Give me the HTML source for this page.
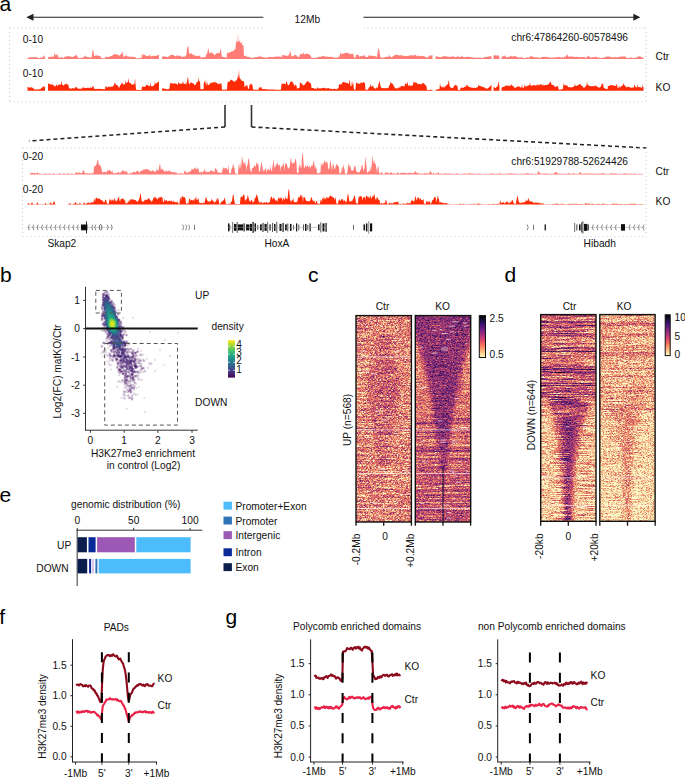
<!DOCTYPE html><html><head><meta charset="utf-8"><title>Figure</title><style>html,body{margin:0;padding:0;background:#fff;}body{width:685px;height:777px;overflow:hidden;font-family:"Liberation Sans",sans-serif;}svg{display:block;font-family:"Liberation Sans",sans-serif;}</style></head><body><svg width="685" height="777" viewBox="0 0 685 777" style="font-family:'Liberation Sans',sans-serif"><defs><linearGradient id="gcc" x1="0" y1="0" x2="0" y2="1"><stop offset="0" stop-color="#4c4c4c"/><stop offset="0.15" stop-color="#454545"/><stop offset="0.3" stop-color="#404040"/><stop offset="0.7" stop-color="#404040"/><stop offset="1" stop-color="#4a4a4a"/></linearGradient><clipPath id="ccc"><rect x="356" y="315.6" width="55.4" height="206.4"/></clipPath><filter id="fcc" filterUnits="userSpaceOnUse" x="350" y="309.6" width="67.4" height="218.4" color-interpolation-filters="sRGB"><feGaussianBlur in="SourceGraphic" stdDeviation="2 0.3" result="b"/><feTurbulence type="fractalNoise" baseFrequency="0.6 1.4" numOctaves="2" seed="3" result="n"/><feColorMatrix in="n" type="matrix" values="1 0 0 0 0 1 0 0 0 0 1 0 0 0 0 0 0 0 0 1" result="g"/><feTurbulence type="fractalNoise" baseFrequency="0.04 1.0" numOctaves="2" seed="53" result="n2"/><feColorMatrix in="n2" type="matrix" values="1 0 0 0 0 1 0 0 0 0 1 0 0 0 0 0 0 0 0 1" result="g2"/><feComposite in="b" in2="g" operator="arithmetic" k1="0" k2="1" k3="1.05" k4="-0.525" result="c"/><feComposite in="c" in2="g2" operator="arithmetic" k1="0" k2="1" k3="0.55" k4="-0.275" result="c2"/><feGaussianBlur in="c2" stdDeviation="0.35" result="c3"/><feComponentTransfer in="c3"><feFuncR type="table" tableValues="0.988 0.996 0.996 0.969 0.871 0.718 0.549 0.392 0.231 0.078 0.000"/><feFuncG type="table" tableValues="0.992 0.812 0.624 0.439 0.286 0.216 0.161 0.102 0.059 0.055 0.000"/><feFuncB type="table" tableValues="0.749 0.573 0.427 0.361 0.408 0.475 0.506 0.502 0.439 0.212 0.016"/></feComponentTransfer><feColorMatrix type="saturate" values="0.82"/></filter><linearGradient id="gck" x1="0" y1="0" x2="0" y2="1"><stop offset="0" stop-color="#666666"/><stop offset="0.05" stop-color="#4c4c4c"/><stop offset="0.3" stop-color="#454545"/><stop offset="0.5" stop-color="#545454"/><stop offset="0.7" stop-color="#696969"/><stop offset="1" stop-color="#737373"/></linearGradient><clipPath id="cck"><rect x="415.3" y="315.6" width="55.4" height="206.4"/></clipPath><filter id="fck" filterUnits="userSpaceOnUse" x="409.3" y="309.6" width="67.4" height="218.4" color-interpolation-filters="sRGB"><feGaussianBlur in="SourceGraphic" stdDeviation="2 0.3" result="b"/><feTurbulence type="fractalNoise" baseFrequency="0.6 1.4" numOctaves="2" seed="5" result="n"/><feColorMatrix in="n" type="matrix" values="1 0 0 0 0 1 0 0 0 0 1 0 0 0 0 0 0 0 0 1" result="g"/><feTurbulence type="fractalNoise" baseFrequency="0.04 1.0" numOctaves="2" seed="55" result="n2"/><feColorMatrix in="n2" type="matrix" values="1 0 0 0 0 1 0 0 0 0 1 0 0 0 0 0 0 0 0 1" result="g2"/><feComposite in="b" in2="g" operator="arithmetic" k1="0" k2="1" k3="0.85" k4="-0.425" result="c"/><feComposite in="c" in2="g2" operator="arithmetic" k1="0" k2="1" k3="0.45" k4="-0.225" result="c2"/><feGaussianBlur in="c2" stdDeviation="0.35" result="c3"/><feComponentTransfer in="c3"><feFuncR type="table" tableValues="0.988 0.996 0.996 0.969 0.871 0.718 0.549 0.392 0.231 0.078 0.000"/><feFuncG type="table" tableValues="0.992 0.812 0.624 0.439 0.286 0.216 0.161 0.102 0.059 0.055 0.000"/><feFuncB type="table" tableValues="0.749 0.573 0.427 0.361 0.408 0.475 0.506 0.502 0.439 0.212 0.016"/></feComponentTransfer><feColorMatrix type="saturate" values="0.82"/></filter><linearGradient id="gdc" x1="0" y1="0" x2="0" y2="1"><stop offset="0" stop-color="#454545"/><stop offset="0.3" stop-color="#474747"/><stop offset="0.4" stop-color="#474747"/><stop offset="0.45" stop-color="#333333"/><stop offset="0.5" stop-color="#212121"/><stop offset="1" stop-color="#1f1f1f"/></linearGradient><clipPath id="cdc"><rect x="540.7" y="314.6" width="55.3" height="206.7"/></clipPath><filter id="fdc" filterUnits="userSpaceOnUse" x="534.7" y="308.6" width="67.3" height="218.7" color-interpolation-filters="sRGB"><feGaussianBlur in="SourceGraphic" stdDeviation="2 0.3" result="b"/><feTurbulence type="fractalNoise" baseFrequency="0.6 1.4" numOctaves="2" seed="7" result="n"/><feColorMatrix in="n" type="matrix" values="1 0 0 0 0 1 0 0 0 0 1 0 0 0 0 0 0 0 0 1" result="g"/><feTurbulence type="fractalNoise" baseFrequency="0.04 1.0" numOctaves="2" seed="57" result="n2"/><feColorMatrix in="n2" type="matrix" values="1 0 0 0 0 1 0 0 0 0 1 0 0 0 0 0 0 0 0 1" result="g2"/><feComposite in="b" in2="g" operator="arithmetic" k1="0" k2="1" k3="0.9" k4="-0.450" result="c"/><feComposite in="c" in2="g2" operator="arithmetic" k1="0" k2="1" k3="0.8" k4="-0.400" result="c2"/><feGaussianBlur in="c2" stdDeviation="0.35" result="c3"/><feComponentTransfer in="c3"><feFuncR type="table" tableValues="0.988 0.996 0.996 0.969 0.871 0.718 0.549 0.392 0.231 0.078 0.000"/><feFuncG type="table" tableValues="0.992 0.812 0.624 0.439 0.286 0.216 0.161 0.102 0.059 0.055 0.000"/><feFuncB type="table" tableValues="0.749 0.573 0.427 0.361 0.408 0.475 0.506 0.502 0.439 0.212 0.016"/></feComponentTransfer><feColorMatrix type="saturate" values="0.82"/></filter><linearGradient id="gdk" x1="0" y1="0" x2="0" y2="1"><stop offset="0" stop-color="#2b2b2b"/><stop offset="0.4" stop-color="#262626"/><stop offset="0.5" stop-color="#1a1a1a"/><stop offset="1" stop-color="#141414"/></linearGradient><clipPath id="cdk"><rect x="599.8" y="314.6" width="55.3" height="206.7"/></clipPath><filter id="fdk" filterUnits="userSpaceOnUse" x="593.8" y="308.6" width="67.3" height="218.7" color-interpolation-filters="sRGB"><feGaussianBlur in="SourceGraphic" stdDeviation="2 0.3" result="b"/><feTurbulence type="fractalNoise" baseFrequency="0.6 1.4" numOctaves="2" seed="9" result="n"/><feColorMatrix in="n" type="matrix" values="1 0 0 0 0 1 0 0 0 0 1 0 0 0 0 0 0 0 0 1" result="g"/><feTurbulence type="fractalNoise" baseFrequency="0.04 1.0" numOctaves="2" seed="59" result="n2"/><feColorMatrix in="n2" type="matrix" values="1 0 0 0 0 1 0 0 0 0 1 0 0 0 0 0 0 0 0 1" result="g2"/><feComposite in="b" in2="g" operator="arithmetic" k1="0" k2="1" k3="0.95" k4="-0.475" result="c"/><feComposite in="c" in2="g2" operator="arithmetic" k1="0" k2="1" k3="0.45" k4="-0.225" result="c2"/><feGaussianBlur in="c2" stdDeviation="0.35" result="c3"/><feComponentTransfer in="c3"><feFuncR type="table" tableValues="0.988 0.996 0.996 0.969 0.871 0.718 0.549 0.392 0.231 0.078 0.000"/><feFuncG type="table" tableValues="0.992 0.812 0.624 0.439 0.286 0.216 0.161 0.102 0.059 0.055 0.000"/><feFuncB type="table" tableValues="0.749 0.573 0.427 0.361 0.408 0.475 0.506 0.502 0.439 0.212 0.016"/></feComponentTransfer><feColorMatrix type="saturate" values="0.82"/></filter><linearGradient id="mag" x1="0" y1="0" x2="0" y2="1"><stop offset="0.0" stop-color="#000004"/><stop offset="0.1" stop-color="#140e36"/><stop offset="0.2" stop-color="#3b0f70"/><stop offset="0.3" stop-color="#641a80"/><stop offset="0.4" stop-color="#8c2981"/><stop offset="0.5" stop-color="#b73779"/><stop offset="0.6" stop-color="#de4968"/><stop offset="0.7" stop-color="#f7705c"/><stop offset="0.8" stop-color="#fe9f6d"/><stop offset="0.9" stop-color="#fecf92"/><stop offset="1.0" stop-color="#fcfdbf"/></linearGradient></defs><rect width="685" height="777" fill="#fff"/><text x="-0.6" y="11" font-size="21" text-anchor="start" fill="#000">a</text><text x="0" y="281.5" font-size="21" text-anchor="start" fill="#000">b</text><text x="308" y="281.5" font-size="21" text-anchor="start" fill="#000">c</text><text x="504.5" y="281.5" font-size="21" text-anchor="start" fill="#000">d</text><text x="-0.6" y="502" font-size="21" text-anchor="start" fill="#000">e</text><text x="-0.8" y="623.5" font-size="21" text-anchor="start" fill="#000">f</text><text x="225.6" y="624" font-size="21" text-anchor="start" fill="#000">g</text><line x1="31" y1="17.3" x2="263.3" y2="17.3" stroke="#222" stroke-width="1.1"/><path d="M26.3,17.3 L33.5,13.8 L33.5,20.8 Z" fill="#222"/><line x1="363.4" y1="17.3" x2="635" y2="17.3" stroke="#222" stroke-width="1.1"/><path d="M640.3,17.3 L633.3,13.8 L633.3,20.8 Z" fill="#222"/><text x="294.6" y="22.8" font-size="10.2" text-anchor="start" fill="#111">12Mb</text><line x1="9.6" y1="28" x2="263.3" y2="28" stroke="#c9c9c9" stroke-width="1" stroke-dasharray="1 3"/><line x1="363.4" y1="28" x2="646.1" y2="28" stroke="#c9c9c9" stroke-width="1" stroke-dasharray="1 3"/><line x1="9.6" y1="101.7" x2="646.1" y2="101.7" stroke="#c9c9c9" stroke-width="1" stroke-dasharray="1 3"/><line x1="9.6" y1="28" x2="9.6" y2="101.7" stroke="#c9c9c9" stroke-width="1" stroke-dasharray="1 3"/><line x1="646.1" y1="28" x2="646.1" y2="101.7" stroke="#c9c9c9" stroke-width="1" stroke-dasharray="1 3"/><text x="22.8" y="42.8" font-size="10.2" text-anchor="start" fill="#111">0-10</text><text x="22.8" y="76.6" font-size="10.2" text-anchor="start" fill="#111">0-10</text><text x="628" y="40.8" font-size="10.2" text-anchor="end" fill="#111">chr6:47864260-60578496</text><text x="655.6" y="60.2" font-size="10.2" text-anchor="start" fill="#111">Ctr</text><text x="655.6" y="91.3" font-size="10.2" text-anchor="start" fill="#111">KO</text><line x1="225" y1="105" x2="225" y2="127" stroke="#333" stroke-width="1.6"/><line x1="251.5" y1="105" x2="251.5" y2="127" stroke="#333" stroke-width="1.6"/><line x1="225" y1="127" x2="28.9" y2="141" stroke="#222" stroke-width="1.55" stroke-dasharray="4 3"/><line x1="251.5" y1="127" x2="646.5" y2="148" stroke="#222" stroke-width="1.55" stroke-dasharray="4 3"/><line x1="22.5" y1="148" x2="646" y2="148" stroke="#c9c9c9" stroke-width="1" stroke-dasharray="1 3"/><line x1="22.5" y1="236.6" x2="646" y2="236.6" stroke="#c9c9c9" stroke-width="1" stroke-dasharray="1 3"/><line x1="22.5" y1="148" x2="22.5" y2="236.6" stroke="#c9c9c9" stroke-width="1" stroke-dasharray="1 3"/><line x1="646" y1="148" x2="646" y2="236.6" stroke="#c9c9c9" stroke-width="1" stroke-dasharray="1 3"/><text x="22.8" y="160.2" font-size="10.2" text-anchor="start" fill="#111">0-20</text><text x="22.8" y="193" font-size="10.2" text-anchor="start" fill="#111">0-20</text><text x="628" y="165.3" font-size="10.2" text-anchor="end" fill="#111">chr6:51929788-52624426</text><text x="655.6" y="175.1" font-size="10.2" text-anchor="start" fill="#111">Ctr</text><text x="655.6" y="205" font-size="10.2" text-anchor="start" fill="#111">KO</text><text x="47.4" y="246.5" font-size="10.2" text-anchor="start" fill="#111">Skap2</text><text x="264.4" y="246.5" font-size="10.2" text-anchor="start" fill="#111">HoxA</text><text x="583.6" y="246.5" font-size="10.2" text-anchor="start" fill="#111">Hibadh</text><path d="M27.5,59L27.5,58.1L28,58.04L28.5,57.7L29,57.52L29.5,57.6L30,57.53L30.5,57.31L31,57.19L31.5,57.19L32,57.2L32.5,57.26L33,57.42L33.5,57.31L34,56.97L34.5,57.01L35,57.18L35.5,57.19L36,57.19L36.5,57.14L37,57.26L37.5,57.63L38,57.97L38.5,58.02L39,57.93L39.5,57.96L40,57.74L40.5,57.55L41,57.75L41.5,57.81L42,57.49L42.5,57.29L43,57.29L43.5,56L44,55.26L44.5,56.33L45,57.41L45,59ZM48,59L48,57.15L48.5,57.16L49,56.97L49.5,56.6L50,56.62L50.5,57.06L51,57.14L51.5,56.78L52,56.37L52.5,56.41L53,56.76L53.5,56.78L54,56.43L54.5,52.24L55,54.82L55.5,55.02L56,54.64L56.5,54.43L57,54.83L57.5,54.69L58,56.45L58.5,56.91L59,57.79L59.5,57.75L60,57.48L60.5,57.53L61,57.48L61.5,57.35L62,56.65L62.5,57.68L63,57.88L63.5,57.74L64,57.41L64.5,57.1L65,56.71L65.5,56.56L66,56.61L66.5,56.46L67,56.45L67.5,56.56L68,56.34L68.5,55.94L69,55.86L69.5,56.17L70,56.54L70.5,56.6L71,56.63L71.5,56.8L72,56.9L72.5,57.03L73,57.06L73.5,56.66L74,56.17L74.5,55.95L75,55.4L75.5,55.52L76,54.28L76.5,55.68L77,56.04L77.5,56.59L78,57.76L78.5,58.07L79,58.15L79.5,58.02L80,58.17L80.5,58.02L81,57.63L81.5,57.66L82,57.79L82.5,57.71L83,57.46L83.5,57.33L84,57.3L84.5,56.35L85,55.56L85.5,55.4L86,56.72L86.5,56.97L87,57.03L87.5,57.01L88,57.03L88.5,57.09L89,57.39L89.5,57.47L90,57.33L90.5,57.48L91,57.62L91.5,57.51L92,54.47L92.5,50.87L93,48.92L93.5,51.87L94,55.65L94.5,56.05L95,55.97L95.5,55.5L96,55.28L96.5,55.41L97,55.48L97.5,55.6L98,55.79L98.5,55.83L99,55.92L99.5,56.09L100,56.22L100.5,56.13L101,57.8L101.5,57.97L102,58.13L102.5,58.2L103,58.28L103.5,58.3L104,58.3L104.5,58.3L105,58.3L105.5,56.55L106,56.54L106.5,57.07L107,57.23L107.5,56.99L108,56.79L108.5,56.75L109,56.92L109.5,56.89L110,56.55L110.5,56.12L111,55.79L111.5,55.96L112,55.87L112.5,55.36L113,54.98L113.5,54.57L114,54.17L114.5,54.12L115,54.32L115.5,54.14L116,54.1L116.5,54.42L117,54.59L117.5,54.96L118,54.99L118.5,54.86L119,55.35L119.5,56.08L120,55.13L120.5,54.61L121,54.38L121.5,53.71L122,51.74L122.5,52.4L123,54.04L123.5,56.93L124,56.92L124.5,56.31L125,56.03L125.5,55.9L126,54.28L126.5,55.88L127,56.11L127.5,56.42L128,56.57L128.5,56.58L129,56.44L129.5,56.62L130,57.25L130.5,57.38L131,55.45L131.5,56.82L132,57.07L132.5,57L133,56.83L133.5,56.95L134,57.08L134.5,57.1L135,57.22L135.5,57.17L136,58.27L136.5,58.22L137,58.24L137.5,58.27L138,58.25L138.5,58.23L139,58.23L139.5,58.12L140,57.68L140.5,58.05L141,58.06L141.5,58.05L142,52.95L142.5,55.53L143,53.98L143.5,54.94L144,54.96L144.5,55.07L145,55.09L145.5,55.33L146,55.79L146.5,55.94L147,56.05L147.5,56.22L148,56.12L148.5,55.79L149,55.45L149.5,55.56L150,54.28L150.5,56.12L151,56.44L151.5,56.49L152,55.98L152.5,55.8L153,56L153.5,55.76L154,55.66L154.5,55.93L155,55.79L155.5,55.71L156,55.86L156.5,55.68L157,55.44L157.5,55.27L158,54.93L158.5,54.63L159,54.62L159,59ZM162,59L162,56.37L162.5,56.68L163,56.5L163.5,56.38L164,56.62L164.5,56.86L165,55.61L165.5,57.06L166,57.15L166.5,56.86L167,56.77L167.5,57.16L168,57.18L168.5,56.55L169,56.22L169.5,56.18L170,55.56L170.5,54.96L171,54.83L171.5,54.89L172,54.91L172.5,54.69L173,54.82L173.5,55.25L174,55.45L174.5,55.8L175,56.18L175.5,56.27L176,56.04L176.5,55.45L177,55.4L177.5,55.81L178,55.8L178.5,55.84L179,54.92L179.5,56.03L180,55.85L180.5,55.9L181,56.42L181.5,56.7L182,56.83L182.5,57.02L183,56.85L183.5,56.58L184,56.57L184.5,56.72L185,56.45L185.5,55.9L186,55.47L186.5,54.24L187,49.5L187.5,46.37L188,46.16L188.5,47.03L189,52.23L189.5,54.63L190,53.4L190.5,53.25L191,53.3L191.5,53.59L192,53.96L192.5,54.47L193,54.8L193.5,55.1L194,55.63L194.5,54.06L195,55.94L195.5,55.87L196,55.75L196.5,55.92L197,56.23L197.5,56.1L198,55.85L198.5,55.83L199,55.76L199.5,55.7L200,55.78L200.5,57.32L201,57.7L201.5,57.53L202,57.47L202.5,57.3L203,57.09L203.5,57.07L204,57.14L204.5,57.17L205,57.28L205.5,57.45L206,54.83L206.5,54.57L207,54.1L207.5,51.74L208,49.84L208.5,48.03L209,51.43L209.5,53.54L210,53.46L210.5,52.71L211,52.41L211.5,52.32L212,52.9L212.5,53.33L213,53.4L213.5,53.76L214,54.47L214.5,55.01L215,55.05L215.5,54.96L216,52.51L216.5,54.29L217,52.51L217.5,53.61L218,53.16L218.5,53.05L219,53.03L219.5,53.56L220,50.64L220.5,48.35L221,50.95L221.5,54.07L222,57.14L222.5,56.46L223,57L223.5,57L224,57.04L224.5,57.1L225,57.22L225.5,57.44L226,57.7L226.5,57.78L227,52.82L227.5,52.64L228,53.1L228.5,53.17L229,52.5L229.5,52.18L230,52.32L230.5,52.27L231,51.63L231.5,51.19L232,51.41L232.5,51.3L233,51.06L233.5,51L234,50.18L234.5,49.21L235,49.22L235.5,49.48L236,41.23L236.5,41.5L237,42.27L237.5,42.13L238,33.76L238.5,42.29L239,41.24L239.5,40.56L240,41.91L240.5,42.72L241,43.08L241.5,41L242,44.93L242.5,45.2L243,45.07L243.5,45.45L244,55.99L244.5,56.06L245,56.06L245.5,56.06L246,54.63L246.5,56.66L247,56.57L247.5,56.92L248,56.96L248.5,56.71L249,56.76L249.5,57.2L250,57.59L250.5,57.55L251,57.65L251.5,57.94L252,57.84L252.5,57.55L253,57.56L253.5,57.72L254,57.7L254.5,57.54L255,57.3L255.5,57.22L256,57.11L256.5,57L257,57.09L257.5,57.07L258,56.95L258.5,56.95L259,55L259.5,56.49L260,56.43L260.5,56.53L261,56.69L261.5,56.68L262,56.79L262.5,57.23L263,57.48L263.5,57.35L264,57.34L264.5,57.58L265,57.76L265.5,57.73L266,57.41L266.5,57.34L267,57.78L267.5,57.91L268,56.65L268.5,57.07L269,56.95L269.5,57.08L270,57.08L270.5,56.97L271,57.01L271.5,57.04L272,57.13L272.5,57.07L273,56.9L273.5,56.96L274,57.06L274.5,56.85L275,56.54L275.5,56.53L276,56.69L276.5,56.73L277,56.66L277.5,56.67L278,56.53L278.5,56.23L279,56.38L279.5,56.72L280,56.55L280.5,56.5L281,56.89L281.5,57.06L282,56.91L282.5,54.9L283,55.12L283.5,55.01L284,55.18L284.5,55.43L285,55.38L285.5,55.77L286,55.79L286.5,55.48L287,55.63L287.5,55.73L288,55.64L288.5,55.23L289,54.64L289.5,53.59L290,51.06L290.5,51.68L291,54.08L291.5,56.23L292,56.36L292.5,56.32L293,56.29L293.5,56L294,55.46L294.5,55.09L295,54.97L295.5,54.92L296,55.1L296.5,55.33L297,56.52L297.5,56.49L298,56.72L298.5,57.06L299,57.08L299.5,56.86L300,53.7L300.5,54.04L301,54.03L301.5,54.07L302,54.46L302.5,54.38L303,52.84L303.5,52.49L304,54.17L304.5,54.23L305,54.16L305.5,54.04L306,53.78L306.5,53.67L307,53.61L307.5,53.82L308,54.01L308.5,54.18L309,54.59L309.5,54.68L310,54.77L310.5,55.52L311,56.49L311.5,58.11L312,57.79L312.5,57.81L313,57.78L313.5,57.73L314,57.94L314.5,57.95L315,57.95L315.5,58.08L316,57.88L316.5,57.45L317,57.32L317.5,57.38L318,57.23L318.5,56.95L319,56.74L319.5,56.91L320,57.02L320.5,56.69L321,56.43L321.5,56.53L322,56.46L322.5,56.06L323,55.8L323.5,55.9L324,56.19L324.5,56.4L325,56.49L325.5,56.57L326,56.74L326.5,56.79L327,56.56L327.5,56.47L328,56.78L328.5,57.04L329,56.98L329.5,56.86L330,56.76L330.5,56.79L331,56.87L331.5,56.98L332,57.02L332.5,56.93L333,57.08L333.5,57.51L334,57.76L334.5,57.7L335,57.72L335.5,57.86L336,57.75L336.5,57.64L337,57.56L337.5,57.2L338,57.06L338.5,57.2L339,57.23L339.5,55.39L340,55.08L340.5,51.67L341,54.29L341.5,54.31L342,53.95L342.5,53.34L343,53.39L343.5,53.83L344,53.63L344.5,53.07L345,52.99L345.5,52.91L346,52.75L346.5,52.9L347,52.7L347.5,53.07L348,53.11L348.5,53.75L349,51.72L349.5,54.59L350,54.2L350.5,53.93L351,54.07L351.5,54.3L352,52.25L352.5,54.44L353,53.97L353.5,53.9L354,57.78L354.5,57.68L355,57.57L355.5,57.65L356,54.83L356.5,54.99L357,54.94L357.5,55.07L358,54.25L358.5,55.15L359,56.37L359.5,56.38L360,56.74L360.5,55.51L361,56.29L361.5,56.23L362,56.23L362.5,55.88L363,55.47L363.5,55.55L364,55.9L364.5,55.62L365,54.86L365.5,57.12L366,57.1L366.5,56.99L367,57.06L367.5,56.97L368,56.75L368.5,55.16L369,55.43L369.5,55.44L370,55.53L370.5,55.59L371,55.73L371.5,55.98L372,56.02L372.5,55.93L373,55.81L373.5,55.85L374,55.97L374.5,55.92L375,56.05L375.5,56.49L376,56.61L376.5,57.03L377,56.65L377.5,53.85L378,50.81L378.5,48.37L379,48.48L379.5,51.46L380,55.27L380.5,57.44L381,57.22L381.5,57.63L382,57.72L382.5,57.59L383,57.51L383.5,57.67L384,57.7L384.5,57.43L385,57.1L385.5,56.89L386,56.81L386.5,56.84L387,56.86L387.5,56.84L388,56.9L388.5,56.99L389,54.97L389.5,55.49L390,56.25L390.5,56.83L391,57.26L391.5,57.41L392,57.17L392.5,56.82L393,56.32L393.5,55.89L394,55.69L394.5,55.17L395,54.63L395.5,54.65L396,54.9L396.5,55.06L397,54.92L397.5,54.56L398,55.36L398.5,55.43L399,55.34L399.5,55.27L400,55.45L400.5,54.58L401,55.7L401.5,55.57L402,55.58L402.5,55.54L403,55.62L403.5,55.76L404,55.85L404.5,55.99L405,55.98L405.5,56.05L406,56.3L406.5,56.35L407,56.09L407.5,55.78L408,55.85L408.5,55.88L409,55.74L409.5,55.87L410,55.47L410.5,55.23L411,55.25L411.5,55.31L412,55.3L412.5,55.38L413,55.52L413.5,55.57L414,55.47L414.5,54.72L415,55.22L415.5,54.51L416,56.06L416.5,56.31L417,56.59L417.5,54.51L418,56.03L418.5,55.81L419,55.9L419.5,55.83L420,55.9L420.5,56.22L421,56.05L421.5,55.85L422,56.08L422.5,56.35L423,56.32L423.5,56L424,56.11L424.5,56.61L425,56.79L425.5,56.83L426,57.07L426.5,57.45L427,57.63L427.5,57.54L428,57.23L428.5,56.72L429,54.91L429.5,55.94L430,55.83L430.5,55.81L431,55.49L431.5,55.26L432,55.37L432.5,55.31L432.5,59ZM435.5,59L435.5,56.22L436,56.43L436.5,56.57L437,56.52L437.5,56.38L438,56.55L438.5,57.03L439,57.09L439.5,56.91L440,57.09L440.5,57.16L441,56.94L441.5,56.86L442,56.92L442.5,56.75L443,56.31L443.5,56.1L444,56.02L444.5,56.13L445,56.49L445.5,56.58L446,56.46L446.5,56.27L447,56.32L447.5,56.67L448,56.71L448.5,56.54L449,56.73L449.5,57.04L450,57.03L450.5,56.81L451,56.58L451.5,56.49L452,56.62L452.5,56.86L453,57.05L453.5,55.33L454,56.94L454.5,56.86L455,57.02L455.5,57.15L456,57.02L456.5,56.9L457,56.79L457.5,56.72L458,55.78L458.5,56.8L459,56.72L459.5,56.98L460,57.21L460.5,57.08L461,56.79L461.5,55.07L462,56.5L462.5,56.55L463,56.78L463.5,56.88L464,56.98L464.5,57.14L465,57.16L465.5,57.14L466,57.08L466.5,56.83L467,56.65L467.5,56.65L468,56.76L468.5,57.02L469,57.11L469.5,56.88L470,56.78L470.5,57.11L471,57.5L471.5,57.54L472,57.32L472.5,57.29L473,57.59L473.5,57.68L474,57.45L474.5,57.46L475,57.75L475.5,57.83L476,57.93L476.5,56.93L477,58.07L477.5,57.99L478,57.76L478.5,57.41L479,57.45L479.5,57.81L480,57.79L480.5,57.6L481,57.73L481.5,57.81L482,57.86L482.5,58.02L483,58.07L483.5,57.94L484,57.59L484.5,56.36L485,57.23L485.5,57.27L486,57.11L486.5,57.03L487,56.98L487.5,56.82L488,56.67L488.5,56.65L489,56.53L489.5,56.34L490,56.24L490.5,56.16L491,56.16L491.5,56.25L491.5,59ZM493.5,59L493.5,55.32L494,55.39L494.5,55.36L495,55.21L495.5,55.25L496,55.51L496.5,55.68L497,55.66L497.5,54.85L498,55.72L498.5,55.55L499,55.51L499.5,58.3L499.5,59ZM501.5,59L501.5,56.62L502,56.73L502.5,56.57L503,56.37L503.5,56.35L504,56.34L504.5,56.31L505,54.7L505.5,56.03L506,57.39L506.5,57.48L507,57.45L507.5,56.7L508,56.6L508.5,57.26L509,57.08L509.5,56.87L510,56.5L510.5,55.36L511,56.31L511.5,56.31L512,56.38L512.5,56.36L513,56.46L513.5,56.71L514,56.25L514.5,55.68L515,55.91L515.5,56.36L516,56.49L516.5,56.84L517,57.14L517.5,56.99L518,57.02L518.5,57.43L519,57.72L519.5,57.64L520,57.53L520.5,57.61L521,57.61L521.5,56.41L522,57.73L522.5,57.66L523,57.77L523.5,57.96L524,58.1L524.5,58.14L525,58.08L525.5,58.03L526,58.22L526.5,56.82L527,58.3L527.5,56.88L528,57.96L528.5,57.82L529,57.5L529.5,56.89L530,56.54L530.5,56.45L531,56.29L531.5,56.35L532,56.54L532.5,56.64L533,56.86L533.5,57.07L534,57.33L534.5,57.47L535,57.24L535.5,57.19L536,57.34L536.5,57.37L537,57.46L537.5,57.39L538,57.23L538.5,57.5L539,57.88L539.5,57.9L540,57.81L540.5,57.63L541,57.31L541.5,57.13L542,56.93L542.5,56.77L543,56.89L543.5,56.97L544,56.71L544.5,56.67L545,56.97L545.5,57.04L546,57.14L546.5,57.24L547,57.05L547.5,57.09L548,57.32L548.5,57.3L549,57.29L549.5,57.46L550,57.65L550.5,57.78L551,57.97L551.5,57.85L552,57.51L552.5,57.45L553,57.53L553.5,57.64L554,57.69L554.5,57.57L555,57.41L555.5,56.8L556,57.71L556.5,57.62L557,57.38L557.5,57.11L558,56.8L558.5,56.84L559,57.11L559.5,57.23L560,57.36L560.5,57.54L561,57.61L561.5,57.5L562,57.29L562.5,57.25L563,57.42L563.5,57.73L564,57.09L564.5,56.34L565,57.1L565.5,57.14L566,56.1L566.5,55.21L567,54.31L567.5,55.17L568,56.11L568.5,57.08L569,56.11L569.5,57.24L570,56.7L570.5,56.27L571,56.24L571.5,56.46L572,56.75L572.5,56.8L573,56.56L573.5,56.4L574,56.65L574.5,57.04L575,57.1L575.5,57.07L576,57.05L576.5,56.85L577,56.77L577.5,56.9L578,57.02L578.5,57.08L579,57.16L579.5,57.33L580,57.36L580.5,57.3L581,57.33L581.5,57.24L582,57.14L582.5,57.05L583,56.97L583.5,56.89L584,56.89L584.5,57.31L585,57.52L585.5,57.39L586,57.65L586.5,57.86L587,57.26L587.5,56.47L588,55.96L588.5,55.44L589,56.48L589.5,57.08L590,57.42L590.5,57.34L591,57.37L591.5,57.44L592,57.38L592.5,57.37L593,57.3L593.5,57.12L594,57.25L594.5,57.37L595,57.11L595.5,56.85L596,56.87L596.5,56.99L597,57.15L597.5,57.48L598,57.75L598.5,57.78L599,57.76L599.5,57.74L600,57.75L600.5,57.89L601,57.98L601.5,57.96L602,57.81L602.5,57.59L603,57.68L603.5,57.88L604,57.67L604.5,57.29L605,57.1L605.5,56.97L606,56.85L606.5,56.65L607,56.47L607.5,56.4L608,56.39L608.5,56.48L609,56.52L609.5,56.58L610,56.67L610.5,56.88L611,57.13L611.5,57.18L612,57.3L612.5,57.36L613,57.35L613.5,57.36L614,57.19L614.5,57.17L615,57.35L615.5,56.76L616,57.5L616.5,57.42L617,57.32L617.5,57.3L618,57.16L618.5,56.93L619,56.92L619.5,56.97L620,56.84L620.5,56.61L621,56.52L621.5,56.46L622,56.44L622.5,56.67L623,56.67L623.5,56.42L624,55.78L624.5,56.39L625,56.49L625.5,57.06L626,57.51L626.5,57.53L627,57.71L627.5,58.05L628,58.1L628.5,58.05L629,57.96L629.5,57.69L630,57.55L630.5,57.66L631,57.72L631.5,57.77L632,56.44L632.5,57.88L633,58.01L633.5,58.2L634,58.14L634.5,57.87L635,57.62L635.5,57.64L636,57.61L636.5,57.49L637,57.38L637.5,57.06L638,56.67L638.5,56.47L639,56.43L639.5,56.28L640,56.21L640.5,56.49L641,56.95L641.5,57.37L642,57.5L642.5,57.5L643,57.67L643.5,57.67L643.5,59Z" fill="#ff7b76"/><path d="M27.5,90.7L27.5,87L28,87.01L28.5,87.18L29,87.48L29.5,87.62L30,87.58L30.5,87.46L31,87.32L31.5,87.25L32,87.43L32.5,87.83L33,88.13L33.5,88.52L34,89.09L34.5,89.41L35,89.5L35.5,89.47L36,89.36L36.5,89.48L37,89.56L37.5,89.52L38,89.46L38.5,89.34L39,89.16L39.5,89.15L40,89.09L40.5,88.88L41,88.54L41.5,87.88L42,87.36L42.5,87.3L43,87.35L43.5,86.46L44,85.72L44.5,86.81L45,87.57L45,90.7ZM48,90.7L48,83.85L48.5,83.5L49,83.87L49.5,84.09L50,83.88L50.5,84.46L51,84.89L51.5,84.67L52,83.24L52.5,84.89L53,84.52L53.5,85.13L54,86.1L54.5,86.29L55,86.23L55.5,86.4L56,84.74L56.5,84.49L57,85.67L57.5,86L58,85.15L58.5,84.7L59,84.83L59.5,84.81L60,83.91L60.5,84.84L61,84.78L61.5,80.18L62,84.45L62.5,84.87L63,85.42L63.5,85.6L64,85.2L64.5,84.44L65,84.06L65.5,83.98L66,84.54L66.5,82.95L67,84.72L67.5,84.24L68,84.44L68.5,85.06L69,88.13L69.5,88.21L70,88.33L70.5,88.65L71,88.78L71.5,88.62L72,88.35L72.5,88.18L73,88.07L73.5,88.13L74,88.39L74.5,88.42L75,88.27L75.5,87.07L76,87.01L76.5,87.22L77,87.75L77.5,87.83L78,88.79L78.5,89.03L79,88.94L79.5,88.77L80,87.74L80.5,89.03L81,89.04L81.5,88.8L82,88.27L82.5,88.02L83,86.62L83.5,88.49L84,86.96L84.5,88.36L85,88.09L85.5,87.94L86,87.94L86.5,87.98L87,88L87.5,87.77L88,87.53L88.5,87.69L89,87.96L89.5,87.89L90,87.82L90.5,87.22L91,87.77L91.5,87.77L92,87.85L92.5,86.55L93,85.5L93.5,86.81L94,88.61L94.5,88.87L95,88.99L95.5,89.01L96,88.81L96.5,88.74L97,88.93L97.5,88.97L98,88.96L98.5,88.97L99,88.83L99.5,88.73L100,88.84L100.5,88.91L101,88.93L101.5,89.06L102,89.09L102.5,89.07L103,89.06L103.5,89.14L104,89.31L104.5,89.36L105,89.37L105.5,86.15L106,86.07L106.5,86.87L107,87.68L107.5,87.41L108,86.75L108.5,86.54L109,86.62L109.5,87.05L110,87.36L110.5,86.87L111,86.64L111.5,86.74L112,86.38L112.5,86.44L113,86.58L113.5,85.77L114,84.86L114.5,83.27L115,82.59L115.5,83.75L116,85.06L116.5,85.04L117,85.32L117.5,85.41L118,85.6L118.5,87.47L119,87.39L119.5,87.47L120,85.34L120.5,85.08L121,84.84L121.5,83.45L122,81.63L122.5,83.58L123,84.37L123.5,84.51L124,84.55L124.5,84.36L125,84.21L125.5,79.75L126,83.25L126.5,83.16L127,82.66L127.5,82.05L128,82.08L128.5,77.84L129,82.13L129.5,82.82L130,83.06L130.5,83.07L131,83.58L131.5,84.47L132,84.74L132.5,84.39L133,84.22L133.5,84.51L134,84.58L134.5,83.82L135,78.32L135.5,83.7L136,89.68L136.5,89.72L137,89.72L137.5,89.73L138,89.83L138.5,89.88L139,89.91L139.5,89.88L140,89.89L140.5,89.98L141,89.99L141.5,90L142,86.41L142.5,86.38L143,86.7L143.5,86.85L144,86.84L144.5,86.89L145,86.56L145.5,86.13L146,85.62L146.5,84.99L147,84.77L147.5,85.05L148,85.52L148.5,85.75L149,85.86L149.5,86.16L150,86.11L150.5,81.94L151,86.28L151.5,86.26L152,86.27L152.5,86.28L153,86.09L153.5,85.75L154,85.22L154.5,84.83L155,80.64L155.5,84.18L156,83.55L156.5,83.16L157,83.04L157.5,82.4L158,81.77L158.5,81.85L159,81.99L159,90.7ZM162,90.7L162,88.42L162.5,88.53L163,88.5L163.5,88.52L164,88.6L164.5,88.66L165,88.79L165.5,88.81L166,88.92L166.5,89.17L167,89.22L167.5,89.15L168,89.13L168.5,89.02L169,88.77L169.5,88.54L170,83.49L170.5,83.17L171,83.28L171.5,83.13L172,83.07L172.5,83.44L173,83.8L173.5,83.67L174,83.32L174.5,83.58L175,83.59L175.5,83.46L176,83.61L176.5,83.64L177,84.28L177.5,84.77L178,84.49L178.5,80.99L179,83.38L179.5,83.17L180,83.5L180.5,83.81L181,83.92L181.5,83.7L182,83.27L182.5,83.37L183,81.02L183.5,83.36L184,83.66L184.5,84.08L185,83.96L185.5,84.49L186,81.24L186.5,84.9L187,81.66L187.5,78.53L188,76.55L188.5,80.88L189,83.91L189.5,84.72L190,82.67L190.5,82.73L191,82.6L191.5,82.52L192,83.18L192.5,83.36L193,83.13L193.5,83.49L194,84.2L194.5,84.94L195,84.94L195.5,84.72L196,84.32L196.5,82.75L197,81.59L197.5,81.88L198,82.05L198.5,76.65L199,81.55L199.5,81.37L200,81.34L200.5,89.2L201,89.2L201.5,89.24L202,89.2L202.5,89.1L203,89.07L203.5,89.15L204,80.9L204.5,81.62L205,82.58L205.5,83.92L206,78.84L206.5,84.99L207,85.55L207.5,81.94L208,85.11L208.5,85.01L209,84.98L209.5,84.21L210,83.3L210.5,83.16L211,82.93L211.5,82.59L212,82.66L212.5,82.55L213,82.38L213.5,82.31L214,81.94L214.5,82.16L215,82.5L215.5,82.3L216,82.47L216.5,82.69L217,82.96L217.5,83.46L218,83.83L218.5,84.27L219,84.18L219.5,83.53L220,83.41L220.5,83.62L221,83.44L221.5,83.45L222,89.73L222.5,89.77L223,89.81L223.5,89.86L224,89.85L224.5,89.85L225,89.86L225.5,89.28L226,89.75L226.5,89.65L227,89.56L227.5,81.94L228,82.14L228.5,81.92L229,81.5L229.5,81.6L230,81.09L230.5,79.88L231,79.59L231.5,79.99L232,80.2L232.5,80.45L233,80.83L233.5,81.36L234,81.74L234.5,81.76L235,81.99L235.5,80.37L236,80.75L236.5,80.41L237,79.13L237.5,78.43L238,74.69L238.5,77.88L239,69.3L239.5,77.68L240,78.46L240.5,78.88L241,79.72L241.5,80.53L242,80.69L242.5,80.99L243,81.34L243.5,81.36L244,81.34L244.5,87.04L245,86.85L245.5,86.14L246,85.51L246.5,85.25L247,85.37L247.5,85.68L248,88.86L248.5,88.79L249,88.69L249.5,84.65L250,84.65L250.5,84.16L251,83.86L251.5,84.09L252,84.6L252.5,85.14L253,89.52L253.5,89.47L254,89.55L254.5,89.66L255,89.64L255.5,89.68L256,89.75L256.5,89.73L257,89.67L257.5,89.65L258,89.68L258.5,89.7L259,87.57L259.5,87.49L260,87.42L260.5,87.44L261,87.34L261.5,87.08L262,89.19L262.5,89.04L263,88.97L263.5,89.03L264,88.98L264.5,88.93L265,89L265.5,89.13L266,89.24L266.5,89.29L267,89.32L267.5,89.39L268,89.41L268.5,89.4L269,89.44L269.5,89.43L270,89.45L270.5,89.58L271,89.62L271.5,89.48L272,89.44L272.5,89.57L273,89.58L273.5,89.53L274,89.53L274.5,89.67L275,89.87L275.5,89.87L276,89.77L276.5,89.87L277,89.89L277.5,89.75L278,89.79L278.5,89.84L279,89.82L279.5,89.76L280,89.67L280.5,89.65L281,89.62L281.5,84.06L282,83.65L282.5,83.68L283,83.53L283.5,83.64L284,83.73L284.5,83.65L285,84.34L285.5,84.39L286,82.49L286.5,80.97L287,82.16L287.5,84.31L288,85.38L288.5,85.05L289,85.1L289.5,84.15L290,82.46L290.5,81.84L291,81.96L291.5,81.52L292,81.33L292.5,81.91L293,82.66L293.5,83.69L294,84.88L294.5,85.77L295,86.01L295.5,83.71L296,85.67L296.5,85.14L297,88.79L297.5,88.49L298,88.16L298.5,88.08L299,88.06L299.5,88.07L300,82.31L300.5,82.63L301,82.84L301.5,83.45L302,84.25L302.5,84.54L303,85.04L303.5,85.52L304,85.22L304.5,84.75L305,84.33L305.5,83.73L306,82.84L306.5,81.95L307,81.4L307.5,81.26L308,81.29L308.5,81.58L309,82.3L309.5,82.76L310,82.9L310.5,83.23L311,83.44L311.5,88.31L312,88.1L312.5,88.02L313,87.94L313.5,88.09L314,88.46L314.5,88.66L315,88.67L315.5,88.54L316,88.59L316.5,88.8L317,88.67L317.5,86.82L318,88.3L318.5,88.24L319,88.47L319.5,88.48L320,88.2L320.5,88.35L321,88.51L321.5,88.32L322,88.14L322.5,87.95L323,87.88L323.5,87.83L324,87.85L324.5,87.94L325,88.09L325.5,88.47L326,88.43L326.5,88.3L327,88.47L327.5,88.21L328,87.9L328.5,87.99L329,88.33L329.5,88.74L330,88.78L330.5,88.73L331,88.88L331.5,88.85L332,88.83L332.5,89.17L333,89.31L333.5,88.91L334,88.58L334.5,88.63L335,88.92L335.5,89.03L336,89.01L336.5,89.24L337,89.11L337.5,88.55L338,88.35L338.5,88.37L339,83.93L339.5,84.35L340,84.54L340.5,84.6L341,84.39L341.5,84L342,83.54L342.5,82.57L343,82L343.5,81.89L344,82.02L344.5,82.51L345,82.53L345.5,82.59L346,82.72L346.5,82.93L347,82.81L347.5,82.71L348,83.83L348.5,83.8L349,83.75L349.5,79.44L350,81.27L350.5,86.35L351,86.35L351.5,85.77L352,80.79L352.5,85.84L353,81.55L353.5,84.92L354,89.71L354.5,89.65L355,89.54L355.5,89.36L356,82.47L356.5,82.72L357,83.12L357.5,83.42L358,83.48L358.5,83.49L359,83.63L359.5,83.81L360,83.66L360.5,83.07L361,82.59L361.5,82.5L362,82.76L362.5,83.05L363,82.75L363.5,82.12L364,82.11L364.5,82.81L365,83.54L365.5,89.63L366,89.79L366.5,89.88L367,89.03L367.5,89.92L368,89.91L368.5,87.81L369,87.53L369.5,87.27L370,86.84L370.5,83.3L371,86.21L371.5,86.4L372,86.41L372.5,86.41L373,84.71L373.5,87.19L374,87.7L374.5,88.34L375,88.53L375.5,88.49L376,88.67L376.5,86.63L377,87.98L377.5,87.97L378,86.42L378.5,84.3L379,82.4L379.5,80.8L380,83.16L380.5,85.9L381,87.83L381.5,87.76L382,87.88L382.5,88.17L383,88.15L383.5,87.9L384,87.99L384.5,88.16L385,88.1L385.5,88.23L386,88.39L386.5,88.27L387,88.08L387.5,88.04L388,88.08L388.5,88.05L389,85.76L389.5,85.37L390,84.71L390.5,81.37L391,83.32L391.5,83.23L392,83.36L392.5,83.8L393,84.55L393.5,85.18L394,86.15L394.5,86.96L395,88.48L395.5,88.31L396,88.12L396.5,88.29L397,88.57L397.5,88.52L398,88.11L398.5,87.43L399,87.19L399.5,87.47L400,87.41L400.5,86.9L401,86.31L401.5,85.92L402,85.86L402.5,85.95L403,86.12L403.5,86.23L404,86.31L404.5,86.67L405,83.47L405.5,83.59L406,84.18L406.5,84.48L407,82.18L407.5,82.14L408,84.66L408.5,85.79L409,85.81L409.5,85.24L410,85.24L410.5,86.11L411,86.2L411.5,85.54L412,85.46L412.5,85.46L413,84.9L413.5,80.96L414,82.85L414.5,82.22L415,82.26L415.5,82.43L416,82.41L416.5,82.54L417,83.17L417.5,83.96L418,84.26L418.5,83.94L419,83.71L419.5,83.91L420,84.07L420.5,84.2L421,84.56L421.5,84.24L422,83.69L422.5,82.58L423,83.42L423.5,83.03L424,83.47L424.5,84.14L425,84.28L425.5,84.89L426,85.86L426.5,86.31L427,90L427.5,90L428,90L428.5,90L429,90L429.5,89.96L430,89.84L430.5,89.75L431,89.75L431.5,89.77L432,89.92L432.5,89.99L432.5,90.7ZM435.5,90.7L435.5,89.74L436,89.74L436.5,89.54L437,89.48L437.5,89.44L438,89.29L438.5,89.1L439,89.04L439.5,89.14L440,82.61L440.5,86.05L441,86.21L441.5,86.97L442,87.46L442.5,87.5L443,85.5L443.5,87.53L444,87.38L444.5,87.17L445,86.77L445.5,86.11L446,85.81L446.5,85.53L447,84.85L447.5,84.3L448,84.22L448.5,80.77L449,80.76L449.5,85.64L450,86.75L450.5,87.46L451,87.58L451.5,87.88L452,88.14L452.5,87.98L453,87.8L453.5,87.22L454,86.15L454.5,85.31L455,84.9L455.5,85.07L456,85.47L456.5,85.45L457,85.61L457.5,86.38L458,89.94L458.5,90L459,90L459.5,90L460,90L460.5,88.29L461,87.85L461.5,87.54L462,87.63L462.5,87.61L463,87.87L463.5,87.9L464,87.35L464.5,86.87L465,86.94L465.5,86.75L466,85.94L466.5,85.46L467,83.91L467.5,85.78L468,86.15L468.5,86.54L469,86.83L469.5,87.01L470,87.25L470.5,87.32L471,87.53L471.5,87.73L472,87.53L472.5,87.64L473,88.13L473.5,88.04L474,87.51L474.5,87.7L475,88.12L475.5,87.94L476,87.84L476.5,87.58L477,87.19L477.5,87.17L478,86.91L478.5,84.26L479,85.87L479.5,86.05L480,85.82L480.5,85.95L481,86.48L481.5,86.5L482,86.48L482.5,86.67L483,87.02L483.5,87.27L484,87.37L484.5,87.56L485,87.71L485.5,88.03L486,88.52L486.5,88.68L487,88.63L487.5,88.49L488,88.09L488.5,87.69L489,87.38L489.5,86.78L490,86.25L490.5,85.95L491,85.32L491.5,84.46L491.5,90.7ZM493.5,90.7L493.5,86.52L494,87.18L494.5,87.41L495,87.8L495.5,88.18L496,87.66L496.5,86.84L497,86.99L497.5,86.23L498,83.94L498.5,81.37L499,83.77L499.5,87.48L499.5,90.7ZM501.5,90.7L501.5,88.05L502,87.67L502.5,86.97L503,86.61L503.5,86.92L504,87.01L504.5,86.53L505,85.93L505.5,85.47L506,85.53L506.5,85.81L507,85.73L507.5,85.75L508,85.73L508.5,85.53L509,85.58L509.5,85.9L510,86.29L510.5,85.87L511,84.36L511.5,84.52L512,85.38L512.5,85.9L513,85.84L513.5,86.31L514,86.93L514.5,87.45L515,88.17L515.5,88.12L516,87.38L516.5,86.87L517,86.81L517.5,86.82L518,86.38L518.5,86.24L519,86.42L519.5,86.59L520,87.33L520.5,87.57L521,87.34L521.5,87.71L522,84.04L522.5,87.52L523,87.86L523.5,88.16L524,87.06L524.5,85.5L525,84.28L525.5,86.55L526,86.75L526.5,86.57L527,85.86L527.5,85.66L528,85.64L528.5,85.31L529,85.21L529.5,85.22L530,82L530.5,85.26L531,85.6L531.5,85.68L532,85.83L532.5,85.78L533,85.36L533.5,84.98L534,85.03L534.5,85.34L535,85.34L535.5,85.53L536,85.72L536.5,85.21L537,84.51L537.5,84.47L538,84.92L538.5,85.34L539,85.41L539.5,84.72L540,84.14L540.5,84.34L541,84.35L541.5,84.58L542,85.4L542.5,85.61L543,83.82L543.5,85.61L544,85.34L544.5,85.17L545,85.24L545.5,85.06L546,84.9L546.5,84.92L547,84.87L547.5,84.63L548,84.48L548.5,84.19L549,84.12L549.5,82.3L550,83.13L550.5,81.43L551,81.47L551.5,84.75L552,85.02L552.5,85.12L553,84.9L553.5,85.02L554,85.59L554.5,86.24L555,86.99L555.5,87.32L556,86.87L556.5,86.16L557,85.91L557.5,86.05L558,86.66L558.5,88.5L559,89.82L559.5,89.8L560,89.73L560.5,89.47L561,89.17L561.5,89.14L562,89.2L562.5,89.05L563,88.9L563.5,82.53L564,85.17L564.5,85.31L565,85.02L565.5,85.07L566,85.63L566.5,85.45L567,84.73L567.5,86.01L568,87.04L568.5,87.18L569,87.14L569.5,86.9L570,87.1L570.5,87.38L571,87.46L571.5,87.56L572,87.19L572.5,86.89L573,86.94L573.5,86.76L574,86.16L574.5,85.84L575,83.64L575.5,86.04L576,85.88L576.5,85.95L577,85.84L577.5,85.32L578,85.05L578.5,84.82L579,84.63L579.5,84.36L580,84L580.5,84.22L581,84.97L581.5,85.69L582,85.95L582.5,86.07L583,86.77L583.5,87.67L584,87.9L584.5,87.57L585,86.89L585.5,86.16L586,85.84L586.5,85.48L587,80.66L587.5,84.74L588,84.85L588.5,85.21L589,85.67L589.5,86.05L590,86L590.5,86.03L591,86.28L591.5,86.37L592,86.47L592.5,86.26L593,85.94L593.5,86.04L594,86.3L594.5,86.24L595,85.85L595.5,85.58L596,85.83L596.5,86.28L597,86.54L597.5,86.9L598,87.18L598.5,87.16L599,87.31L599.5,87.72L600,87.53L600.5,86.83L601,86.59L601.5,83.32L602,85.01L602.5,83.78L603,83.09L603.5,86.89L604,87.92L604.5,88.07L605,88.46L605.5,88.83L606,88.96L606.5,88.98L607,89.01L607.5,88.97L608,86.11L608.5,85.98L609,86.1L609.5,86L610,85.27L610.5,84.69L611,84.97L611.5,85.36L612,85.24L612.5,85.21L613,85.55L613.5,85.72L614,85.5L614.5,85.38L615,85.72L615.5,86.01L616,86.06L616.5,84.29L617,84.02L617.5,87.57L618,88.2L618.5,88.15L619,84.8L619.5,87.35L620,87.51L620.5,87.35L621,86.8L621.5,86.06L622,85.42L622.5,85.35L623,85.75L623.5,82.79L624,84.04L624.5,85.61L625,85.7L625.5,86.06L626,87.03L626.5,87.53L627,87.3L627.5,86.86L628,86.59L628.5,86.84L629,87.36L629.5,87.32L630,87.22L630.5,87.54L631,87.79L631.5,87.75L632,87.52L632.5,87.6L633,87.69L633.5,87.69L634,86.45L634.5,84.72L635,85.25L635.5,87.06L636,87.51L636.5,87.35L637,87.16L637.5,84.53L638,86.97L638.5,87.18L639,86.98L639.5,87.02L640,87.41L640.5,87.32L641,87.26L641.5,87.63L642,87.94L642.5,84.33L643,87.18L643.5,86.85L643.5,90.7Z" fill="#ff2a06"/><path d="M30,174.4L30,173.08L30.5,172.96L31,173.61L31.5,173.07L32,172.84L32.5,173.15L33,172.55L33.5,173.31L34,173.33L34.5,172.86L35,172.8L35.5,173.5L36,173.38L36.5,173.39L37,172.84L37.5,172.11L38,172.89L38.5,173.41L39,173.9L39.5,172.94L40,173.9L40.5,173.9L41,173.43L41.5,173.9L42,173.9L42.5,173.9L43,173.89L43.5,173.9L44,173.9L44.5,173.82L45,173.47L45.5,172.92L46,173.76L46.5,173.74L47,173.9L47.5,173.9L48,173.9L48.5,173.9L49,173.6L49.5,172.87L50,173.47L50.5,173.9L51,173.9L51.5,173.9L52,173.9L52.5,173.9L53,173.47L53.5,172.96L54,173.56L54.5,173.9L55,173.88L55.5,173.9L56,173.8L56.5,173.9L57,173.9L57.5,173.9L58,173.9L58.5,173.9L59,173.88L59.5,172.75L60,173.15L60.5,173.69L61,173.9L61.5,173.9L62,173.9L62.5,173.9L63,173.9L63.5,173.55L64,172.76L64.5,173.58L65,173.9L65.5,173.9L66,173.9L66.5,173.9L67,173.8L67.5,173.61L68,173.04L68.5,173.19L69,173.84L69.5,173.76L70,173.9L70.5,173.9L71,173.9L71.5,173.61L72,173.19L72.5,173.65L73,173.9L73.5,173.9L74,173.9L74.5,173.9L75,173.55L75.5,173.12L76,172.31L76.5,172.26L77,172.73L77.5,172.73L78,172.69L78.5,172.77L79,172.66L79.5,172.49L80,172.61L80.5,173L81,173.27L81.5,173.37L82,173.57L82.5,171.98L83,170.25L83.5,170.16L84,171.08L84.5,172.55L85,173.17L85.5,173.56L86,172.7L86.5,173.9L87,173.35L87.5,172.9L88,173.29L88.5,173.48L89,173.4L89.5,173.35L90,173.4L90.5,173.37L91,173.49L91.5,173.84L92,173.22L92.5,173.12L93,173.35L93.5,173.25L94,167.4L94.5,165.65L95,165.5L95.5,166.13L96,165.35L96.5,164.63L97,161.93L97.5,160.08L98,160L98.5,163.07L99,164.88L99.5,164.82L100,165.13L100.5,166.18L101,166.77L101.5,168.27L102,172.11L102.5,172.15L103,172.57L103.5,172.19L104,171.5L104.5,172.08L105,172.54L105.5,171.74L106,170.96L106.5,172.95L107,171.84L107.5,169.03L108,171.14L108.5,170.69L109,170.24L109.5,170.02L110,170.01L110.5,170.43L111,171.2L111.5,171.96L112,171.86L112.5,169.99L113,173.14L113.5,173.44L114,173.02L114.5,172.9L115,173.47L115.5,173.67L116,172.6L116.5,173.31L117,172.61L117.5,172.83L118,172.55L118.5,172.07L119,171.95L119.5,173.61L120,172.57L120.5,172.63L121,172.67L121.5,171.24L122,171.42L122.5,170.6L123,169.99L123.5,170.41L124,171.01L124.5,171.46L125,172.96L125.5,170.72L126,170.98L126.5,171.39L127,172.55L127.5,172.56L128,173.77L128.5,173.9L129,173.65L129.5,172.96L130,172.66L130.5,172.98L131,173.9L131.5,172.75L132,172.83L132.5,172.78L133,172.36L133.5,171.97L134,172.03L134.5,172.05L135,171.55L135.5,173.25L136,171.96L136.5,170.4L137,172.14L137.5,170.32L138,170.73L138.5,171.54L139,172.83L139.5,172.68L140,171.45L140.5,170.96L141,171.13L141.5,170.93L142,170.41L142.5,170.18L143,170.09L143.5,169.52L144,169.48L144.5,169.73L145,169.46L145.5,168.88L146,168.8L146.5,169.36L147,169.57L147.5,169.18L148,169.23L148.5,169.72L149,169.42L149.5,170.61L150,171.33L150.5,170.98L151,171.76L151.5,171.03L152,170.46L152.5,170.08L153,170.38L153.5,171.3L154,171.74L154.5,171.78L155,171.59L155.5,171L156,172.91L156.5,168.46L157,169.65L157.5,169.85L158,170.44L158.5,170.41L159,168.29L159.5,164.92L160,163.59L160.5,166.75L161,170.35L161.5,169.29L162,168.43L162.5,168.82L163,170.18L163.5,170.3L164,171.34L164.5,171.59L165,171.86L165.5,171.22L166,169.42L166.5,171.25L167,171.71L167.5,170.63L168,171.47L168.5,170.88L169,170.61L169.5,169.57L170,172.71L170.5,170.19L171,172.17L171.5,172.13L172,172.05L172.5,172.11L173,172.37L173.5,172.25L174,172.04L174.5,172.19L175,172.5L175.5,172.39L176,172.32L176.5,172.75L177,173.35L177.5,173.73L178,173.68L178.5,173.48L179,173.23L179.5,173.15L180,173.42L180.5,173.59L181,173.35L181.5,173.36L182,173.44L182.5,173.58L183,173.68L183.5,173.9L184,172.59L184.5,171.06L185,170.25L185.5,171.24L186,172.42L186.5,172.7L187,172.58L187.5,172.55L188,172.56L188.5,172.54L189,172.19L189.5,171.5L190,171.22L190.5,171.34L191,171.53L191.5,168.4L192,169.45L192.5,169.08L193,169.11L193.5,170.31L194,167.8L194.5,168.82L195,167.55L195.5,167.16L196,169.86L196.5,169.52L197,168.61L197.5,168.28L198,168.4L198.5,168.68L199,171.77L199.5,172.43L200,172.75L200.5,172.45L201,171.46L201.5,171.54L202,172.57L202.5,172.81L203,172.06L203.5,171.13L204,170.67L204.5,168.34L205,171.39L205.5,172.03L206,170.45L206.5,172L207,172.91L207.5,171.6L208,172.23L208.5,172.06L209,171.8L209.5,172.01L210,171.24L210.5,170.36L211,170.69L211.5,169.72L212,171.69L212.5,171.46L213,171.06L213.5,170.68L214,172.8L214.5,171.65L215,168.58L215.5,168.3L216,168.21L216.5,170.65L217,168.56L217.5,172.51L218,172.36L218.5,172.51L219,172.57L219.5,172.7L220,172.79L220.5,172.82L221,172.89L221.5,172.68L222,172.49L222.5,169.38L223,168.66L223.5,167.34L224,167.75L224.5,168.72L225,168L225.5,168.19L226,167.69L226.5,167.57L227,169.84L227.5,169.96L228,168.6L228.5,164.29L229,173.09L229.5,173.03L230,173.13L230.5,173.27L231,173.08L231.5,168.6L232,168.27L232.5,166.96L233,163.86L233.5,164.9L234,167.85L234.5,167.52L235,171.79L235.5,173.63L236,173.65L236.5,173.76L237,173.9L237.5,173.9L238,173.9L238.5,162.58L239,170.81L239.5,163.24L240,168.69L240.5,161.94L241,169.5L241.5,162.12L242,155.72L242.5,158.93L243,161.09L243.5,163.58L244,164.26L244.5,161.99L245,162.37L245.5,164.96L246,165.54L246.5,171.15L247,165.3L247.5,165.57L248,161.01L248.5,158.45L249,158.54L249.5,163.36L250,168.45L250.5,170.76L251,170.9L251.5,172.84L252,168.06L252.5,168.04L253,168.32L253.5,167.53L254,165.95L254.5,165.2L255,166.64L255.5,166.72L256,164.52L256.5,162.68L257,162.82L257.5,164.46L258,164.31L258.5,164.41L259,171.84L259.5,171.52L260,171.84L260.5,167.76L261,163.28L261.5,161.42L262,165.61L262.5,166.78L263,172.85L263.5,170.06L264,169.23L264.5,171.36L265,169L265.5,168.71L266,168.79L266.5,172.53L267,170.77L267.5,169.97L268,168.64L268.5,168.66L269,169.9L269.5,170.09L270,171.11L270.5,164.88L271,169.12L271.5,171.47L272,169.92L272.5,166.44L273,163.23L273.5,159.09L274,164.3L274.5,167.85L275,167.37L275.5,166.96L276,163.49L276.5,164.99L277,163.95L277.5,162.74L278,163.56L278.5,165.63L279,165.91L279.5,164.59L280,164.76L280.5,171.79L281,166.78L281.5,166.19L282,167.1L282.5,165.87L283,164.81L283.5,162.9L284,163.16L284.5,171.58L285,164.93L285.5,163.48L286,163.8L286.5,162.87L287,164.61L287.5,166.78L288,168.86L288.5,168.63L289,167.33L289.5,168.23L290,164.79L290.5,160.06L291,157.02L291.5,161.3L292,163.68L292.5,163.49L293,163.54L293.5,162.79L294,162.28L294.5,163.22L295,159.41L295.5,158.58L296,160.05L296.5,162.72L297,173.13L297.5,172.81L298,172.69L298.5,172.65L299,161.94L299.5,167.84L300,164.4L300.5,166.13L301,168.82L301.5,166.09L302,156.95L302.5,152.86L303,153.93L303.5,162.02L304,167.94L304.5,167.81L305,166.89L305.5,165.1L306,165.68L306.5,167L307,166.41L307.5,165.05L308,165.94L308.5,167.7L309,166.9L309.5,165.16L310,166.19L310.5,169.13L311,166.03L311.5,165.48L312,165.46L312.5,166L313,163.63L313.5,160.92L314,161.23L314.5,165.34L315,168.41L315.5,164.98L316,169.57L316.5,167.08L317,173.12L317.5,173.16L318,173.34L318.5,173.42L319,173.18L319.5,172.81L320,172.61L320.5,172.5L321,161.05L321.5,165.35L322,166.58L322.5,163.2L323,164.14L323.5,164.28L324,161.81L324.5,160.43L325,161.37L325.5,163.03L326,161.72L326.5,162.12L327,163.37L327.5,161.42L328,167.71L328.5,168.64L329,170.27L329.5,166.41L330,161.78L330.5,160.13L331,163.76L331.5,167.47L332,170.68L332.5,166.13L333,163.36L333.5,164.19L334,166.75L334.5,169.44L335,168.62L335.5,167.27L336,164.79L336.5,164.34L337,164.55L337.5,165.06L338,166.07L338.5,166.21L339,167.17L339.5,173.54L340,173.18L340.5,172.94L341,173.9L341.5,167.34L342,171.63L342.5,167.38L343,166.94L343.5,164.14L344,168.39L344.5,168.84L345,173.9L345.5,173.78L346,173.6L346.5,173.58L347,173.9L347.5,170.92L348,167.05L348.5,163.49L349,164L349.5,167.36L350,166.58L350.5,165.31L351,170.1L351.5,170.54L352,170.77L352.5,170.58L353,170.49L353.5,170.13L354,166.56L354.5,165.57L355,167.78L355.5,165.16L356,170.56L356.5,171.07L357,172.82L357.5,172.28L358,172.22L358.5,171.95L359,173.13L359.5,171.56L360,171.28L360.5,169.45L361,169.47L361.5,165.72L362,164.79L362.5,165.15L363,169.26L363.5,170.36L364,170.53L364.5,167.49L365,162.7L365.5,156.33L366,161L366.5,166.34L367,172.95L367.5,172.41L368,171.68L368.5,171.41L369,171.06L369.5,172.22L370,165.53L370.5,169.41L371,171.01L371.5,166.29L372,160.14L372.5,155.59L373,159.68L373.5,164.62L374,160.32L374.5,161.15L375,164.27L375.5,163.44L376,165.49L376.5,168.99L377,172.98L377.5,169.06L378,167.09L378.5,165.63L379,172.99L379.5,173.24L380,173.9L380.5,173.37L381,172.55L381.5,171.74L382,172.48L382.5,173.14L383,173.9L383.5,173.9L384,173.9L384.5,173.9L385,173.23L385.5,171.54L386,172.68L386.5,173.02L387,172.47L387.5,172.53L388,172.58L388.5,173.53L389,173.14L389.5,173.29L390,173.28L390.5,172.46L391,172.09L391.5,172.38L392,173.06L392.5,173.57L393,173.73L393.5,173.52L394,173.3L394.5,173.22L395,173.31L395.5,173.83L396,173.9L396.5,173.65L397,173.08L397.5,172.32L398,172.6L398.5,172.97L399,173.46L399.5,173.9L400,173.39L400.5,172.99L401,173.04L401.5,172.97L402,172.48L402.5,172.49L403,173L403.5,173.09L404,173.14L404.5,173.06L405,172.64L405.5,172.61L406,173.17L406.5,173.4L407,173.18L407.5,173.36L408,173.17L408.5,172.73L409,172.95L409.5,172.83L410,173.45L410.5,172.1L411,172.73L411.5,173.05L412,173.22L412.5,173.9L413,172.97L413.5,172.62L414,173.11L414.5,172.26L415,171.42L415.5,171.04L416,172.43L416.5,172.71L417,172.7L417.5,172.83L418,173.19L418.5,173.8L419,173.57L419.5,173.16L420,173.62L420.5,173.75L421,173.52L421.5,173.48L422,173.56L422.5,173.9L423,173.51L423.5,173.84L424,173.13L424.5,173.13L425,173.05L425.5,172.74L426,173.87L426.5,173.11L427,173.69L427.5,173.66L428,173.24L428.5,173.45L429,173.39L429.5,172.67L430,171.86L430.5,170.98L431,171.69L431.5,172.74L432,173.38L432.5,173.9L433,173.16L433.5,172.75L434,173.27L434.5,173.9L435,173.9L435.5,173.77L436,173.25L436.5,172.99L437,173.52L437.5,173.45L438,172.57L438.5,172.12L439,173.45L439.5,173.9L440,173.78L440.5,173.55L441,173.58L441.5,173.68L442,173.9L442.5,173.9L443,173.85L443.5,173.52L444,173.42L444.5,173.51L445,173.58L445.5,173.57L446,173.57L446.5,173.48L447,173.49L447.5,173.68L448,173.59L448.5,173.38L449,173.55L449.5,173.74L450,173.55L450.5,173.08L451,173.9L451.5,173.71L452,173.9L452.5,173.9L453,173.72L453.5,173.66L454,173.77L454.5,173.9L455,173.9L455.5,173.64L456,173.38L456.5,173.34L457,173.47L457.5,173.55L458,173.64L458.5,173.83L459,173.82L459.5,173.88L460,173.9L460.5,173.9L461,173.64L461.5,173.9L462,173.9L462.5,173.9L463,173.9L463.5,173.37L464,173.53L464.5,173.47L465,173.52L465.5,173.69L466,173.43L466.5,173.76L467,173.9L467.5,173.35L468,173.76L468.5,173.57L469,173.9L469.5,173.1L470,173.5L470.5,172.86L471,173.49L471.5,173.63L472,173.56L472.5,173.38L473,173.39L473.5,173.65L474,173.78L474.5,173.85L475,173.9L475.5,173.78L476,173.9L476.5,173.66L477,173.84L477.5,173.73L478,173.9L478.5,173.6L479,173.06L479.5,173.9L480,173.87L480.5,173.78L481,173.86L481.5,173.82L482,173.9L482.5,173.9L483,173.9L483.5,173.9L484,173.9L484.5,173.9L485,173.9L485.5,173.59L486,173.8L486.5,173.9L487,173.9L487.5,173.9L488,173.79L488.5,173.9L489,173.9L489.5,173.51L490,173.9L490.5,173.44L491,173.79L491.5,173.61L492,173.72L492.5,172.41L493,173.69L493.5,173.67L494,173.77L494.5,173.72L495,173.9L495.5,173.9L496,173.83L496.5,173.81L497,173.73L497.5,173.61L498,173.83L498.5,173.87L499,173.62L499.5,173.71L500,172.56L500.5,173.07L501,173.9L501.5,173.9L502,173.67L502.5,173.82L503,173.84L503.5,173.88L504,173.85L504.5,173.86L505,173.8L505.5,173.83L506,173.9L506.5,173.75L507,173.66L507.5,173.71L508,173.76L508.5,173.83L509,173.34L509.5,173.35L510,173.9L510.5,172.41L511,173.85L511.5,173.57L512,173.31L512.5,173.38L513,173.74L513.5,173.8L514,173.9L514.5,173.52L515,173.09L515.5,173.9L516,173.9L516.5,173.84L517,173.74L517.5,173.44L518,173.9L518.5,173.68L519,173.9L519.5,173.9L520,173.68L520.5,173.48L521,173.9L521.5,173.75L522,173.9L522.5,173.49L523,173.79L523.5,173.9L524,173.79L524.5,173.56L525,173.71L525.5,173.64L526,173.53L526.5,173.53L527,173.21L527.5,173.05L528,173.08L528.5,173.37L529,173.83L529.5,173.9L530,173.5L530.5,173.83L531,173.77L531.5,173.64L532,173.73L532.5,173.58L533,173.65L533.5,173.9L534,173.88L534.5,173.9L535,173.9L535.5,173.35L536,173.9L536.5,173.9L537,173.9L537.5,173.2L538,172.08L538.5,170.99L539,171.41L539.5,172.41L540,173.55L540.5,173.73L541,173.83L541.5,173.9L542,172.88L542.5,173.9L543,173.69L543.5,173.65L544,173.56L544.5,173.55L545,173.48L545.5,173.48L546,173.35L546.5,173.4L547,173.58L547.5,173.85L548,173.9L548.5,173.69L549,173.66L549.5,173.74L550,173.9L550.5,173.9L551,173.67L551.5,173.47L552,173.64L552.5,173.9L553,173.74L553.5,173.47L554,173.22L554.5,172.78L555,172.83L555.5,172.24L556,171.96L556.5,172.25L557,172.71L557.5,173.23L558,173.66L558.5,173.6L559,173.9L559.5,173.13L560,173.9L560.5,173.76L561,173.54L561.5,173.69L562,173.4L562.5,173.9L563,173.72L563.5,173.8L564,173.63L564.5,173.64L565,173.9L565.5,173.9L566,173.73L566.5,173.73L567,173.77L567.5,173.45L568,173.38L568.5,173.13L569,173.34L569.5,173.32L570,173.6L570.5,173.9L571,173.9L571.5,173.77L572,173.62L572.5,173.9L573,173.83L573.5,172.51L574,173.87L574.5,173.18L575,173.69L575.5,173.9L576,173.9L576.5,173.9L577,173.69L577.5,173.67L578,173.83L578.5,173.9L579,173.84L579.5,172.77L580,172.23L580.5,172.1L581,172.63L581.5,173.67L582,173.9L582.5,173.9L583,172.81L583.5,173.9L584,173.77L584.5,173.35L585,173.37L585.5,173.67L586,173.9L586.5,172.48L587,173.9L587.5,173.34L588,173.54L588.5,173.9L589,173.39L589.5,173.42L590,173.24L590.5,173.57L591,173.47L591.5,173.71L592,173.82L592.5,173.55L593,173.9L593.5,173.23L594,173.65L594.5,173.53L595,173.54L595.5,173.67L596,173.9L596.5,173.67L597,173.56L597.5,173.9L598,173.62L598.5,173.39L599,173.86L599.5,173.62L600,173.69L600.5,173.67L601,173.24L601.5,173.68L602,173.51L602.5,173.01L603,173.29L603.5,173.48L604,172.98L604.5,173.89L605,173.68L605.5,173.86L606,173.84L606.5,173.9L607,173.9L607.5,173.9L608,173.9L608.5,173.9L609,173.9L609.5,173.9L610,173.62L610.5,173.42L611,173.34L611.5,173.52L612,172.74L612.5,173.9L613,173.6L613.5,173.18L614,173.23L614.5,173.7L615,173.74L615.5,173.32L616,173.35L616.5,173.6L617,173.77L617.5,173.9L618,173.9L618.5,173.9L619,173.86L619.5,173.9L620,173.9L620.5,173.79L621,173.71L621.5,173.9L622,173.9L622.5,173.9L623,173.86L623.5,173.84L624,172.99L624.5,173.42L625,173.59L625.5,173.8L626,173.16L626.5,173.9L627,172.75L627.5,173.74L628,173.9L628.5,173.9L629,173.9L629.5,173.53L630,173.42L630.5,173.87L631,173.89L631.5,173.56L632,173.61L632.5,173.71L633,173.9L633.5,173.9L634,173.9L634.5,172.59L635,173.79L635.5,173.9L636,173.9L636.5,173.9L637,173.9L637.5,173.9L638,173.81L638.5,173.72L639,173.9L639.5,173.9L640,173.59L640.5,173.9L641,173.9L641.5,173.9L642,173.84L642.5,173.84L643,173.9L643,174.4Z" fill="#ff7b76"/><path d="M27,204.6L27,204.2L27.5,204.2L28,203.55L28.5,202.76L29,203.41L29.5,204.2L30,204.2L30.5,204.2L31,203.58L31.5,203.17L32,201.99L32.5,203.1L33,204.2L33.5,204.2L34,204.2L34.5,204.2L35,204.2L35.5,204.2L36,204.2L36.5,204.2L37,203.15L37.5,201.9L38,203.09L38.5,204.2L39,204.2L39.5,204.2L40,204.2L40.5,204.2L41,204.2L41.5,204.2L42,204.2L42.5,204.2L43,204.2L43.5,204.2L44,204.2L44.5,204.2L45,203.42L45.5,202.4L46,203.57L46.5,204.2L47,204.2L47.5,204.2L48,204.2L48.5,204.2L49,204.2L49.5,204.19L50,203.04L50.5,202.1L51,203.07L51.5,204.14L52,202.78L52.5,204.2L53,203.62L53.5,201.91L54,200.83L54.5,202.05L55,203.71L55.5,204.17L55.5,204.6ZM67.5,204.6L67.5,204L68,204.2L68.5,204.2L69,204.17L69.5,203.41L70,202.57L70.5,203.54L71,204.2L71.5,204.2L72,204.13L72.5,204.13L73,203.99L73.5,203.87L74,204L74.5,203.79L75,202.49L75.5,201.94L76,202.94L76.5,204.06L77,203.04L77.5,204.16L78,204.05L78.5,204L79,204.16L79.5,203.35L80,202.56L80.5,203.49L81,204.2L81.5,204.2L82,204.2L82.5,204.2L83,204.2L83.5,203.25L84,202.35L84.5,202.46L85,204.01L85.5,204.04L86,203.98L86.5,202.97L87,203.15L87.5,202.88L88,202.42L88.5,202.86L89,202.94L89.5,203.05L90,203.36L90.5,203.22L91,202.08L91.5,202.59L92,202.3L92.5,202.38L93,202.33L93.5,202.55L94,199.68L94.5,198.35L95,202.18L95.5,198.73L96,197.9L96.5,197.62L97,198.3L97.5,197.98L98,199.39L98.5,198.53L99,198.48L99.5,198.53L100,199.07L100.5,199.71L101,199.87L101.5,200.58L102,200.72L102.5,200.17L103,200.89L103.5,202.28L104,202.83L104.5,202.22L105,200.73L105.5,199.41L106,199.77L106.5,201.17L107,203.77L107.5,203.68L108,203.78L108.5,203.92L109,202.17L109.5,198.23L110,200.35L110.5,199.61L111,201.79L111.5,199.82L112,199.15L112.5,199.65L113,201.01L113.5,200.66L114,198.76L114.5,197.81L115,201.02L115.5,199.28L116,202.28L116.5,200.95L117,200.78L117.5,199.85L118,198.36L118.5,197.77L119,195.95L119.5,200.04L120,202.14L120.5,199.52L121,198.9L121.5,199.19L122,198.8L122.5,198.5L123,198.77L123.5,198.57L124,199.64L124.5,200.67L125,199.96L125.5,202.91L126,203.28L126.5,203.26L127,203.54L127.5,202.82L128,201.46L128.5,201.02L129,202.4L129.5,199.71L130,199.63L130.5,199.24L131,200.88L131.5,198.7L132,199.26L132.5,199.58L133,199.39L133.5,199.32L134,199.67L134.5,200.3L135,200.35L135.5,199.66L136,200.2L136.5,201.45L137,201.04L137.5,202.74L138,200.73L138.5,200.85L139,199.03L139.5,198.1L140,195.58L140.5,192.87L141,195.48L141.5,200.26L142,202.46L142.5,201.16L143,200.93L143.5,201.76L144,201.76L144.5,199.75L145,199.42L145.5,200.34L146,200.16L146.5,199.47L147,199.59L147.5,199.9L148,198.15L148.5,198.24L149,198.83L149.5,198.95L150,199.64L150.5,200.66L151,200.25L151.5,202.43L152,200.74L152.5,201.04L153,199.21L153.5,197.83L154,197.98L154.5,197.13L155,196.27L155.5,197.48L156,198.61L156.5,198.33L157,197.8L157.5,199.56L158,199.59L158.5,197.72L159,197L159.5,197.37L160,197.98L160.5,197.21L161,196.68L161.5,196.88L162,196.91L162.5,198.14L163,202.21L163.5,201.69L164,202.08L164.5,198.6L165,200.24L165.5,201.17L166,200.33L166.5,200.12L167,200.25L167.5,202.11L168,201.02L168.5,201.34L169,200.28L169.5,201.51L170,200.58L170.5,200.97L171,201.24L171.5,200.65L172,200.59L172.5,202.57L173,201.96L173.5,200.31L174,201.39L174.5,201.98L175,202.32L175.5,202.21L176,202.28L176.5,202.25L177,202.13L177.5,201.61L178,202.69L178.5,203.72L179,203.81L179.5,203.99L180,197.51L180.5,197.58L181,201.26L181.5,197.47L182,196.37L182.5,196.19L183,196.69L183.5,197.31L184,197.21L184.5,197.04L185,197.66L185.5,198.76L186,203.86L186.5,203.82L187,203.4L187.5,203.32L188,203.54L188.5,203.57L189,199.08L189.5,198.85L190,198.79L190.5,201.44L191,199.72L191.5,199.87L192,200.12L192.5,200.47L193,200.29L193.5,199.15L194,201.79L194.5,198.71L195,198.89L195.5,198.73L196,195.81L196.5,199.49L197,200.54L197.5,199.77L198,198.53L198.5,198.18L199,202.31L199.5,202.74L200,203.21L200.5,203.2L201,202.86L201.5,202.79L202,203.33L202.5,204L203,201.43L203.5,203.18L204,203.02L204.5,203.07L205,200.72L205.5,198.13L206,197.09L206.5,197.79L207,200.19L207.5,200.46L208,201.79L208.5,201.63L209,201.14L209.5,201.19L210,201.56L210.5,201.41L211,200.98L211.5,198.38L212,199.68L212.5,200.37L213,201.04L213.5,201.34L214,202.58L214.5,202.84L215,201.59L215.5,201.18L216,202.42L216.5,198.64L217,200.42L217.5,197.91L218,198.22L218.5,199.81L219,202.42L219.5,204.2L220,204.17L220.5,203.26L221,202.36L221.5,201.64L222,201.5L222.5,201.31L223,200.65L223.5,200.26L224,199.63L224.5,197.15L225,199.08L225.5,201.32L226,204.03L226.5,204.06L227,203.78L227.5,204.01L228,204.02L228.5,203.96L229,203.68L229.5,203.62L230,203.89L230.5,203.82L231,201.05L231.5,202.01L232,201.32L232.5,197.12L233,195.07L233.5,194.28L234,198.67L234.5,201.69L235,204.11L235.5,203.99L236,203.8L236.5,203.94L237,204.12L237.5,204.2L238,203.99L238.5,204.01L239,204.08L239.5,203.98L240,204.11L240.5,197.78L241,196.51L241.5,197.56L242,196.08L242.5,197.34L243,195.37L243.5,194.62L244,195.08L244.5,195.57L245,202.09L245.5,199.78L246,199.59L246.5,199.35L247,199.06L247.5,195.93L248,195.06L248.5,197.75L249,199.35L249.5,200.98L250,202.05L250.5,201.41L251,200.5L251.5,200.05L252,199.77L252.5,202.54L253,202.53L253.5,200.67L254,203L254.5,198.89L255,197.75L255.5,198.2L256,196.07L256.5,193.89L257,195.48L257.5,196.14L258,197.98L258.5,200.65L259,201.97L259.5,202.29L260,203.63L260.5,201.75L261,201.55L261.5,201.92L262,203.49L262.5,203.33L263,202.63L263.5,202.89L264,202.23L264.5,202.15L265,202.53L265.5,203.42L266,201.76L266.5,202.1L267,202.45L267.5,202.93L268,203L268.5,203.19L269,201.73L269.5,201.97L270,202.02L270.5,198.24L271,197.22L271.5,196.38L272,197.11L272.5,200.31L273,197.52L273.5,197.52L274,198.64L274.5,198.77L275,199.34L275.5,200.55L276,200.85L276.5,200.66L277,199.57L277.5,202.61L278,198.64L278.5,197.87L279,197.15L279.5,198.58L280,198.99L280.5,198.01L281,197.01L281.5,197.44L282,198.87L282.5,201.64L283,198.57L283.5,198.14L284,198.79L284.5,199.56L285,199.95L285.5,196.35L286,197.66L286.5,198.81L287,198.82L287.5,199.5L288,194.32L288.5,189.51L289,189.34L289.5,193.79L290,199.82L290.5,200.3L291,202.67L291.5,200.85L292,200.53L292.5,200.56L293,197.66L293.5,199.5L294,202.3L294.5,202.32L295,202.16L295.5,202.08L296,202.33L296.5,202.31L297,201.76L297.5,201.05L298,197.14L298.5,197.48L299,197.62L299.5,197.56L300,196.3L300.5,195.3L301,195.1L301.5,197.3L302,193.91L302.5,198.06L303,202.19L303.5,197.01L304,196.89L304.5,197.17L305,197.56L305.5,199.14L306,200.48L306.5,200.92L307,201.03L307.5,201.01L308,201.08L308.5,201.68L309,201.27L309.5,201.23L310,200.83L310.5,200.07L311,197.45L311.5,196.95L312,198.38L312.5,200.19L313,200.48L313.5,201.78L314,200.59L314.5,200.87L315,203.04L315.5,203.28L316,201.21L316.5,201.28L317,200.59L317.5,203.72L318,203.87L318.5,203.73L319,203.49L319.5,203.65L320,203.87L320.5,199.7L321,199.69L321.5,202.22L322,199.81L322.5,197.12L323,200.37L323.5,197.96L324,196.54L324.5,199.28L325,198.51L325.5,198.01L326,199.99L326.5,196.55L327,197.52L327.5,197.86L328,197.75L328.5,198.35L329,197.05L329.5,196.19L330,196.1L330.5,195.86L331,195.41L331.5,197.34L332,196.04L332.5,196.89L333,197.69L333.5,197.47L334,197.73L334.5,200.76L335,197.83L335.5,197.52L336,200.87L336.5,203.8L337,203.74L337.5,203.82L338,203.95L338.5,200.46L339,200.22L339.5,198.83L340,201.3L340.5,200.74L341,199.94L341.5,199.08L342,198.98L342.5,199.19L343,199.75L343.5,201.79L344,200.07L344.5,200.22L345,201.06L345.5,201.46L346,202.89L346.5,201.76L347,199.61L347.5,194.82L348,193.67L348.5,195.57L349,199.11L349.5,201.51L350,202.31L350.5,201.38L351,200.84L351.5,201.26L352,201.34L352.5,200.52L353,198.82L353.5,198.48L354,196.59L354.5,194.92L355,196.61L355.5,199.77L356,203.78L356.5,202.65L357,203.41L357.5,203.58L358,203.56L358.5,197.59L359,196.77L359.5,196.52L360,196.27L360.5,195.89L361,196.36L361.5,196.72L362,196.6L362.5,200.99L363,197.97L363.5,196.76L364,197.99L364.5,197.13L365,196.02L365.5,200.46L366,195.24L366.5,195.87L367,196.47L367.5,196.69L368,196.93L368.5,196.69L369,198.18L369.5,198.28L370,195.71L370.5,195.56L371,198.23L371.5,198.74L372,196.43L372.5,196.13L373,197L373.5,195.49L374,194.99L374.5,194.15L375,197.69L375.5,199.08L376,201.02L376.5,197.77L377,196.86L377.5,197.97L378,199.06L378.5,199.4L379,200.12L379.5,200.27L380,203.33L380.5,203.78L381,203.8L381.5,202.72L382,203.29L382.5,203.68L383,203.27L383.5,202.95L384,203.99L384.5,202.31L385,203.15L385.5,200.88L386,199.26L386.5,201L387,203.18L387.5,204.2L388,203.92L388.5,204.14L389,202.85L389.5,202.75L390,202.72L390.5,203.31L391,204.18L391.5,202.59L392,203.39L392.5,203.47L393,203.36L393.5,202.73L394,202.35L394.5,202.18L395,202.13L395.5,202.18L396,202.09L396.5,202.14L397,202.09L397.5,201.57L398,201.52L398.5,203.01L399,204.14L399.5,204.09L400,203.94L400.5,203.85L401,203.9L401.5,203.98L402,204.11L402.5,204.2L403,203.29L403.5,203.27L404,203.59L404.5,203.89L405,204.02L405.5,204.12L406,203.31L406.5,203.46L407,203.23L407.5,202.26L408,203.97L408.5,203.35L409,202.91L409.5,202.93L410,203.28L410.5,203.59L411,201.18L411.5,200.72L412,199.13L412.5,201.33L413,200.39L413.5,200.88L414,202.16L414.5,200.73L415,197.52L415.5,195.75L416,198.27L416.5,200.55L417,199.33L417.5,197.71L418,197.41L418.5,197.87L419,197.18L419.5,200.68L420,197.96L420.5,198.21L421,199.63L421.5,199.92L422,199.79L422.5,200.47L423,199.74L423.5,199L424,203.66L424.5,203.76L425,203.74L425.5,203.48L426,203.5L426.5,200.88L427,200.92L427.5,201.54L428,202.53L428.5,202.05L429,201.2L429.5,201.29L430,201.98L430.5,203.89L431,203.66L431.5,202.21L432,200.98L432.5,199.99L433,199.89L433.5,199.24L434,197.78L434.5,197.18L435,197.08L435.5,197.34L436,198.44L436.5,202.11L437,200.18L437.5,196.86L438,195.71L438.5,198.77L439,199.09L439.5,203.03L440,202.11L440.5,202.15L441,201.83L441.5,202.93L442,202.65L442.5,202.55L443,202.77L443.5,203.07L444,203.15L444.5,203.26L445,203.39L445.5,202.64L446,203.34L446.5,203.09L447,203.31L447.5,204.2L448,203.11L448.5,204.2L449,204.2L449.5,204.2L450,204.2L450.5,204.2L451,204.2L451.5,204.2L452,204.2L452.5,204.2L453,204.2L453.5,204.2L454,204.2L454.5,204.2L455,204.2L455.5,204.09L456,204.2L456.5,204.2L457,204.2L457.5,204.11L458,204.2L458.5,204.16L459,204.17L459.5,204.12L460,204.08L460.5,203L461,204.2L461.5,204.17L462,203.9L462.5,203.92L463,203.78L463.5,203.99L464,204.2L464.5,204.2L465,204.2L465.5,204.2L466,204.2L466.5,204.2L467,204.2L467.5,204.19L468,204.2L468.5,204.2L469,204.14L469.5,204.07L470,204.2L470.5,204.19L471,204.11L471.5,203.91L472,203.93L472.5,204.2L473,204.2L473.5,203.34L474,203.83L474.5,203.98L475,204.2L475.5,204.2L476,204.2L476.5,203.9L477,203.8L477.5,203.76L478,203.6L478.5,203.51L479,203.56L479.5,203.78L480,203.96L480.5,204.2L481,203.78L481.5,203.95L482,204.2L482.5,204.2L483,204.2L483.5,204.2L484,204.2L484.5,204.2L485,204.2L485.5,204.2L486,204.2L486.5,204.2L487,204.2L487.5,204.18L488,204.05L488.5,203.97L489,203.98L489.5,204.13L490,204.08L490.5,204.2L491,203.91L491.5,203.9L492,204.13L492.5,204.01L493,203.96L493.5,204.05L494,204.2L494.5,203.2L495,204.2L495.5,204.14L496,204.09L496.5,204.03L497,203.83L497.5,203.68L498,203.77L498.5,203.9L499,204.2L499.5,203.64L500,200.95L500.5,200.8L501,203.43L501.5,202.74L502,202.47L502.5,202.68L503,202.49L503.5,202.31L504,202.22L504.5,203.69L505,203.1L505.5,202.74L506,202.28L506.5,201.82L507,201.59L507.5,201.45L508,202.35L508.5,203.46L509,202.57L509.5,202.62L510,203.42L510.5,201.88L511,201.57L511.5,201.74L512,200.1L512.5,200.09L513,201.34L513.5,202.84L514,203.6L514.5,204.06L515,203.85L515.5,203.94L516,202.7L516.5,199.9L517,197.16L517.5,195.44L518,197.79L518.5,200.47L519,202.33L519.5,202.37L520,203.62L520.5,202.75L521,202.78L521.5,202.73L522,202.67L522.5,202.48L523,202.43L523.5,202.5L524,202.31L524.5,201.94L525,201.91L525.5,201.81L526,199.16L526.5,200.81L527,200.8L527.5,201.17L528,199.2L528.5,198.12L529,199.81L529.5,201.3L530,201.42L530.5,201.42L531,201.45L531.5,201.6L532,201.55L532.5,201.72L533,202.15L533.5,202.67L534,203.03L534.5,202.87L535,202.63L535.5,202.52L536,202.55L536.5,202.79L537,202.7L537.5,202.53L538,202.66L538.5,202.69L539,202.7L539.5,203.06L540,203.51L540.5,203.47L541,203.31L541.5,203.06L542,204.06L542.5,203.18L543,204.2L543.5,203.08L544,204.2L544.5,204.2L545,204.09L545.5,204.2L546,204.2L546.5,204.2L547,204.17L547.5,204.2L548,204.19L548.5,204.2L549,204.2L549.5,204.2L550,204.2L550.5,204.2L551,204.2L551.5,204.13L552,204.11L552.5,204L553,203.95L553.5,203.93L554,203.91L554.5,204.14L555,204.2L555.5,202.95L556,204.01L556.5,203.84L557,203.79L557.5,203.8L558,203.91L558.5,203.83L559,203.92L559.5,204.13L560,203.96L560.5,203.78L561,203.88L561.5,204.11L562,204.2L562.5,204.2L563,203L563.5,204.14L564,204.07L564.5,204.17L565,204.2L565.5,204.2L566,204.18L566.5,204.2L567,204.2L567.5,204.2L568,203.66L568.5,204.1L569,204.09L569.5,203.96L570,203.84L570.5,203.96L571,204.06L571.5,203.9L572,203.71L572.5,203.8L573,204.12L573.5,204.15L574,204L574.5,204.11L575,202.9L575.5,204.2L576,203.98L576.5,203.53L577,204.2L577.5,204.09L578,204.12L578.5,204.06L579,204.01L579.5,204.08L580,204.12L580.5,204.09L581,204.1L581.5,204.08L582,204.2L582.5,204.2L583,204.13L583.5,204.2L584,204.2L584.5,203.96L585,204.2L585.5,203.36L586,203.11L586.5,203.41L587,204.04L587.5,204.1L588,204.04L588.5,203.2L589,203.87L589.5,203.77L590,203.93L590.5,204.16L591,203.9L591.5,203.9L592,203.84L592.5,203.84L593,203.85L593.5,204.03L594,204.19L594.5,204.2L595,204.2L595.5,204L596,203.93L596.5,204.08L597,204.2L597.5,203.89L598,203.75L598.5,203.78L599,203.9L599.5,203.95L600,203.99L600.5,204.2L601,204.2L601.5,204.08L602,204.03L602.5,203.75L603,204.07L603.5,203.02L604,204.11L604.5,204.15L605,204.12L605.5,204.14L606,204.2L606.5,204.1L607,203.91L607.5,204.05L608,204.2L608.5,204.2L609,204.2L609.5,204.2L610,204.2L610.5,204.19L611,204.2L611.5,204.2L612,203.52L612.5,203.73L613,203.9L613.5,204.05L614,203.04L614.5,203.91L615,203.96L615.5,203.88L616,203.85L616.5,203.69L617,203.66L617.5,203.97L618,204.2L618.5,203.94L619,204.12L619.5,204.11L620,203.89L620.5,204.02L621,204.14L621.5,203.97L622,203.9L622.5,204.06L623,204.2L623.5,204.2L624,204.13L624.5,203.89L625,203.88L625.5,203.9L626,204.02L626.5,204.2L627,204.2L627.5,204.2L628,204.07L628.5,203.99L629,204L629.5,204.18L630,203.76L630.5,203.76L631,203.51L631.5,203.99L632,204.14L632.5,204.02L633,203.63L633.5,203.72L634,203.74L634.5,203.74L635,203.73L635.5,204.11L636,204.01L636.5,204.16L637,203.94L637.5,204.19L638,204.2L638.5,204.15L639,204.19L639.5,204.17L640,204.11L640.5,203.92L641,204.2L641.5,204.2L642,204.08L642.5,203.9L643,204.2L643,204.6Z" fill="#ff2a06"/><line x1="27.5" y1="227.4" x2="113" y2="227.4" stroke="#b0b0b0" stroke-width="0.6"/><line x1="590" y1="227.4" x2="645" y2="227.4" stroke="#b0b0b0" stroke-width="0.6"/><path d="M29.3,224.6Q27.3,227.4 29.3,230.2M33.75,224.6Q31.75,227.4 33.75,230.2M38.2,224.6Q36.2,227.4 38.2,230.2M42.65,224.6Q40.65,227.4 42.65,230.2M47.1,224.6Q45.1,227.4 47.1,230.2M51.55,224.6Q49.55,227.4 51.55,230.2M56,224.6Q54,227.4 56,230.2M60.45,224.6Q58.45,227.4 60.45,230.2M64.9,224.6Q62.9,227.4 64.9,230.2M69.35,224.6Q67.35,227.4 69.35,230.2M73.8,224.6Q71.8,227.4 73.8,230.2M78.25,224.6Q76.25,227.4 78.25,230.2M92.8,224.6Q90.8,227.4 92.8,230.2M95.8,224.6Q93.8,227.4 95.8,230.2M107.2,224.6Q109.2,227.4 107.2,230.2M111.2,224.6Q113.2,227.4 111.2,230.2M593.3,224.6Q591.3,227.4 593.3,230.2M597.9,224.6Q595.9,227.4 597.9,230.2M602.5,224.6Q600.5,227.4 602.5,230.2M607.1,224.6Q605.1,227.4 607.1,230.2M611.7,224.6Q609.7,227.4 611.7,230.2M616.3,224.6Q614.3,227.4 616.3,230.2M630.1,224.6Q628.1,227.4 630.1,230.2M634.7,224.6Q632.7,227.4 634.7,230.2M639.3,224.6Q637.3,227.4 639.3,230.2M643.9,224.6Q641.9,227.4 643.9,230.2M182.7,224.6Q184.7,227.4 182.7,230.2M185.7,224.6Q187.7,227.4 185.7,230.2M188.7,224.6Q190.7,227.4 188.7,230.2M527.2,224.6Q529.2,227.4 527.2,230.2" fill="none" stroke="#7a7a7a" stroke-width="0.9"/><rect x="81" y="224.5" width="6.4" height="5.8" fill="#111"/><rect x="86" y="221.35" width="0.9" height="12.1" fill="#111"/><ellipse cx="100.6" cy="227.4" rx="1.3" ry="2.8" fill="none" stroke="#555" stroke-width="0.9"/><rect x="194.2" y="224.9" width="0.8" height="5" fill="#555"/><rect x="228" y="223.4" width="1.4" height="8" fill="#111"/><rect x="229.5" y="224.9" width="0.7" height="5" fill="#111"/><rect x="232.5" y="221.9" width="0.6" height="11" fill="#111"/><rect x="234" y="223.9" width="2.5" height="7" fill="#111"/><rect x="236.8" y="221.9" width="0.7" height="11" fill="#111"/><rect x="238" y="224.4" width="5" height="6" fill="#111"/><rect x="243.5" y="223.4" width="1.2" height="8" fill="#111"/><rect x="246" y="224.4" width="3.5" height="6" fill="#111"/><rect x="250" y="223.9" width="2" height="7" fill="#111"/><rect x="252.5" y="221.9" width="1.2" height="11" fill="#111"/><rect x="254.5" y="223.4" width="1.5" height="8" fill="#111"/><rect x="257.5" y="224.9" width="0.7" height="5" fill="#111"/><rect x="260" y="224.4" width="1.8" height="6" fill="#111"/><rect x="262.5" y="222.9" width="1" height="9" fill="#111"/><rect x="264.5" y="223.9" width="2.2" height="7" fill="#111"/><rect x="267.5" y="221.9" width="0.6" height="11" fill="#111"/><rect x="269.5" y="224.4" width="1.2" height="6" fill="#111"/><rect x="272" y="222.9" width="0.7" height="9" fill="#111"/><rect x="274" y="223.9" width="1.5" height="7" fill="#111"/><rect x="276.5" y="221.9" width="0.7" height="11" fill="#111"/><rect x="279.5" y="223.9" width="2" height="7" fill="#111"/><rect x="282.5" y="222.9" width="1.2" height="9" fill="#111"/><rect x="285" y="224.4" width="1.8" height="6" fill="#111"/><rect x="287.5" y="223.4" width="0.7" height="8" fill="#111"/><rect x="290" y="223.9" width="1.5" height="7" fill="#111"/><rect x="293" y="224.9" width="0.6" height="5" fill="#111"/><rect x="296" y="223.4" width="1.2" height="8" fill="#111"/><rect x="298.5" y="224.4" width="0.7" height="6" fill="#111"/><rect x="303" y="224.4" width="0.7" height="6" fill="#111"/><rect x="305" y="223.9" width="1.5" height="7" fill="#111"/><rect x="307.5" y="224.9" width="0.7" height="5" fill="#111"/><rect x="309.5" y="223.4" width="1.2" height="8" fill="#111"/><rect x="318" y="224.4" width="1.5" height="6" fill="#111"/><rect x="320.5" y="222.4" width="0.7" height="10" fill="#111"/><rect x="322.5" y="223.4" width="2" height="8" fill="#111"/><rect x="325.5" y="222.9" width="1.2" height="9" fill="#111"/><line x1="228" y1="227.4" x2="327" y2="227.4" stroke="#999" stroke-width="0.5"/><rect x="353" y="224.9" width="0.8" height="5" fill="#444"/><rect x="363.5" y="224.4" width="1.6" height="6" fill="#111"/><rect x="366" y="223.4" width="1.4" height="8" fill="#111"/><rect x="368.4" y="221.2" width="0.8" height="12.4" fill="#666"/><rect x="370" y="223.4" width="2.2" height="8" fill="#111"/><rect x="533" y="224.9" width="0.8" height="5" fill="#555"/><rect x="544.6" y="224.4" width="1.3" height="6" fill="#111"/><rect x="574.5" y="222.9" width="0.6" height="9" fill="#111"/><rect x="576.5" y="224.4" width="0.8" height="6" fill="#111"/><rect x="579" y="224.4" width="1.6" height="6" fill="#111"/><rect x="581" y="222.4" width="0.7" height="10" fill="#111"/><rect x="582.5" y="221.4" width="0.8" height="12" fill="#111"/><rect x="584" y="223.9" width="3.2" height="7" fill="#111"/><rect x="587.5" y="224.4" width="1.2" height="6" fill="#111"/><rect x="621" y="224.15" width="4" height="6.5" fill="#111"/><g><circle cx="164.36" cy="364.72" r="1.15" fill="#440154" fill-opacity="0.12"/><circle cx="133" cy="318" r="1.15" fill="#440154" fill-opacity="0.12"/><circle cx="150" cy="332" r="1.15" fill="#440154" fill-opacity="0.12"/><circle cx="165" cy="340" r="1.15" fill="#440154" fill-opacity="0.12"/><circle cx="178" cy="333" r="1.15" fill="#440154" fill-opacity="0.12"/><circle cx="160" cy="350" r="1.15" fill="#440154" fill-opacity="0.12"/><circle cx="170" cy="356" r="1.15" fill="#440154" fill-opacity="0.12"/><circle cx="127" cy="409" r="1.15" fill="#440154" fill-opacity="0.12"/><circle cx="145" cy="412" r="1.15" fill="#440154" fill-opacity="0.12"/><circle cx="144.25" cy="398.12" r="1.15" fill="#440154" fill-opacity="0.12"/><circle cx="155.1" cy="371.19" r="1.15" fill="#440154" fill-opacity="0.12"/><circle cx="141" cy="343" r="1.15" fill="#440154" fill-opacity="0.12"/><circle cx="155" cy="360" r="1.15" fill="#440154" fill-opacity="0.12"/><circle cx="117.18" cy="386.88" r="1.15" fill="#440154" fill-opacity="0.12"/><circle cx="110.94" cy="369.6" r="1.15" fill="#440154" fill-opacity="0.13"/><circle cx="129.1" cy="328.35" r="1.15" fill="#440154" fill-opacity="0.13"/><circle cx="142" cy="380" r="1.15" fill="#440255" fill-opacity="0.14"/><circle cx="146.89" cy="358.77" r="1.15" fill="#440255" fill-opacity="0.14"/><circle cx="102.69" cy="356.13" r="1.15" fill="#440255" fill-opacity="0.14"/><circle cx="137.57" cy="394.61" r="1.15" fill="#440255" fill-opacity="0.14"/><circle cx="138.94" cy="386.94" r="1.15" fill="#440255" fill-opacity="0.14"/><circle cx="148" cy="368" r="1.15" fill="#440255" fill-opacity="0.14"/><circle cx="121.6" cy="397.91" r="1.15" fill="#440255" fill-opacity="0.14"/><circle cx="117.92" cy="381.89" r="1.15" fill="#440255" fill-opacity="0.15"/><circle cx="109.66" cy="365.4" r="1.15" fill="#440255" fill-opacity="0.15"/><circle cx="151.66" cy="363.68" r="1.15" fill="#440255" fill-opacity="0.15"/><circle cx="123.01" cy="318.03" r="1.15" fill="#440255" fill-opacity="0.15"/><circle cx="107.46" cy="361.57" r="1.15" fill="#440255" fill-opacity="0.15"/><circle cx="150.47" cy="362.86" r="1.15" fill="#440255" fill-opacity="0.15"/><circle cx="149.03" cy="363.7" r="1.15" fill="#440255" fill-opacity="0.15"/><circle cx="150.49" cy="364.58" r="1.15" fill="#440255" fill-opacity="0.15"/><circle cx="143.26" cy="354.65" r="1.15" fill="#440255" fill-opacity="0.15"/><circle cx="141.25" cy="351.08" r="1.15" fill="#440255" fill-opacity="0.15"/><circle cx="111.4" cy="364.85" r="1.15" fill="#440255" fill-opacity="0.15"/><circle cx="108.82" cy="363.84" r="1.15" fill="#440255" fill-opacity="0.15"/><circle cx="101.75" cy="353.08" r="1.15" fill="#440355" fill-opacity="0.15"/><circle cx="138.04" cy="348.67" r="1.15" fill="#440355" fill-opacity="0.15"/><circle cx="139.84" cy="379.69" r="1.15" fill="#440356" fill-opacity="0.16"/><circle cx="124.98" cy="398.88" r="1.15" fill="#440356" fill-opacity="0.16"/><circle cx="101.54" cy="346.7" r="1.15" fill="#440356" fill-opacity="0.16"/><circle cx="135.66" cy="394.77" r="1.15" fill="#440356" fill-opacity="0.16"/><circle cx="119.29" cy="380.87" r="1.15" fill="#440356" fill-opacity="0.16"/><circle cx="101.68" cy="345.64" r="1.15" fill="#440356" fill-opacity="0.16"/><circle cx="102.32" cy="346.91" r="1.15" fill="#440356" fill-opacity="0.16"/><circle cx="123.94" cy="397.83" r="1.15" fill="#440356" fill-opacity="0.17"/><circle cx="105.43" cy="349.43" r="1.15" fill="#440356" fill-opacity="0.17"/><circle cx="144.72" cy="371.72" r="1.15" fill="#440356" fill-opacity="0.17"/><circle cx="144.2" cy="360.98" r="1.15" fill="#440356" fill-opacity="0.17"/><circle cx="145.28" cy="370.89" r="1.15" fill="#440356" fill-opacity="0.17"/><circle cx="101.85" cy="330.51" r="1.15" fill="#440356" fill-opacity="0.17"/><circle cx="103.39" cy="350.9" r="1.15" fill="#440456" fill-opacity="0.17"/><circle cx="120.37" cy="382.27" r="1.15" fill="#440456" fill-opacity="0.17"/><circle cx="103.5" cy="351.54" r="1.15" fill="#440456" fill-opacity="0.17"/><circle cx="132" cy="399.78" r="1.15" fill="#440456" fill-opacity="0.17"/><circle cx="103.81" cy="352.55" r="1.15" fill="#440456" fill-opacity="0.17"/><circle cx="141.23" cy="354.71" r="1.15" fill="#440457" fill-opacity="0.18"/><circle cx="143.71" cy="360.68" r="1.15" fill="#440457" fill-opacity="0.18"/><circle cx="136.41" cy="388.03" r="1.15" fill="#440457" fill-opacity="0.18"/><circle cx="143.26" cy="359.62" r="1.15" fill="#440457" fill-opacity="0.18"/><circle cx="105.58" cy="352.24" r="1.15" fill="#440457" fill-opacity="0.18"/><circle cx="141.06" cy="355.43" r="1.15" fill="#440457" fill-opacity="0.18"/><circle cx="103.37" cy="343" r="1.15" fill="#440457" fill-opacity="0.18"/><circle cx="123.51" cy="394.19" r="1.15" fill="#440457" fill-opacity="0.18"/><circle cx="134.31" cy="393.68" r="1.15" fill="#440457" fill-opacity="0.18"/><circle cx="143.12" cy="372.07" r="1.15" fill="#440457" fill-opacity="0.18"/><circle cx="103.49" cy="343" r="1.15" fill="#440457" fill-opacity="0.18"/><circle cx="123.93" cy="395.42" r="1.15" fill="#440457" fill-opacity="0.18"/><circle cx="126.78" cy="334.97" r="1.15" fill="#440457" fill-opacity="0.18"/><circle cx="138.04" cy="379.42" r="1.15" fill="#440457" fill-opacity="0.18"/><circle cx="109.95" cy="360.81" r="1.15" fill="#440457" fill-opacity="0.18"/><circle cx="123.98" cy="392.02" r="1.15" fill="#440457" fill-opacity="0.19"/><circle cx="103.86" cy="343" r="1.15" fill="#440457" fill-opacity="0.19"/><circle cx="126.69" cy="335.54" r="1.15" fill="#440557" fill-opacity="0.19"/><circle cx="119.25" cy="374.91" r="1.15" fill="#440557" fill-opacity="0.19"/><circle cx="124.48" cy="387.74" r="1.15" fill="#440557" fill-opacity="0.19"/><circle cx="118.59" cy="310.28" r="1.15" fill="#440557" fill-opacity="0.19"/><circle cx="132.48" cy="398.39" r="1.15" fill="#440557" fill-opacity="0.19"/><circle cx="124.24" cy="391.46" r="1.15" fill="#440557" fill-opacity="0.19"/><circle cx="135.96" cy="383.64" r="1.15" fill="#440557" fill-opacity="0.19"/><circle cx="140" cy="354.77" r="1.15" fill="#440558" fill-opacity="0.19"/><circle cx="131.73" cy="398.78" r="1.15" fill="#440558" fill-opacity="0.19"/><circle cx="128.73" cy="398.28" r="1.15" fill="#440558" fill-opacity="0.19"/><circle cx="138.52" cy="377.67" r="1.15" fill="#440558" fill-opacity="0.19"/><circle cx="107.24" cy="354.57" r="1.15" fill="#440558" fill-opacity="0.19"/><circle cx="129.57" cy="344.06" r="1.15" fill="#440558" fill-opacity="0.19"/><circle cx="108.28" cy="348.05" r="1.15" fill="#440558" fill-opacity="0.19"/><circle cx="125.34" cy="395.53" r="1.15" fill="#440558" fill-opacity="0.19"/><circle cx="107.8" cy="355.99" r="1.15" fill="#440558" fill-opacity="0.19"/><circle cx="104.69" cy="343" r="1.15" fill="#440558" fill-opacity="0.19"/><circle cx="131.49" cy="398.33" r="1.15" fill="#440558" fill-opacity="0.20"/><circle cx="138.11" cy="351.25" r="1.15" fill="#450558" fill-opacity="0.20"/><circle cx="102.96" cy="330.78" r="1.15" fill="#450658" fill-opacity="0.20"/><circle cx="143.72" cy="367.94" r="1.15" fill="#450658" fill-opacity="0.20"/><circle cx="140.29" cy="372.58" r="1.15" fill="#450658" fill-opacity="0.20"/><circle cx="132.51" cy="394.83" r="1.15" fill="#450658" fill-opacity="0.20"/><circle cx="132.19" cy="396.14" r="1.15" fill="#450659" fill-opacity="0.20"/><circle cx="125.08" cy="392.54" r="1.15" fill="#450659" fill-opacity="0.20"/><circle cx="129.36" cy="397.54" r="1.15" fill="#450659" fill-opacity="0.20"/><circle cx="127.89" cy="396.05" r="1.15" fill="#450659" fill-opacity="0.20"/><circle cx="143.51" cy="368.7" r="1.15" fill="#450659" fill-opacity="0.21"/><circle cx="112.95" cy="361.21" r="1.15" fill="#450659" fill-opacity="0.21"/><circle cx="130.39" cy="397.42" r="1.15" fill="#450659" fill-opacity="0.21"/><circle cx="125.9" cy="334.71" r="1.15" fill="#450659" fill-opacity="0.21"/><circle cx="125.56" cy="331.77" r="1.15" fill="#450659" fill-opacity="0.21"/><circle cx="107.21" cy="291.62" r="1.15" fill="#450659" fill-opacity="0.21"/><circle cx="141.02" cy="360.5" r="1.15" fill="#450659" fill-opacity="0.21"/><circle cx="128.47" cy="395.35" r="1.15" fill="#450759" fill-opacity="0.21"/><circle cx="128.81" cy="343" r="1.15" fill="#450759" fill-opacity="0.21"/><circle cx="137.65" cy="351.75" r="1.15" fill="#450759" fill-opacity="0.21"/><circle cx="130.92" cy="348.87" r="1.15" fill="#450759" fill-opacity="0.21"/><circle cx="134.79" cy="382.98" r="1.15" fill="#450759" fill-opacity="0.21"/><circle cx="131.25" cy="349.11" r="1.15" fill="#450759" fill-opacity="0.21"/><circle cx="142.68" cy="367.96" r="1.15" fill="#45075a" fill-opacity="0.22"/><circle cx="137.94" cy="375.56" r="1.15" fill="#45075a" fill-opacity="0.22"/><circle cx="110.29" cy="358.71" r="1.15" fill="#45075a" fill-opacity="0.22"/><circle cx="122.19" cy="380.51" r="1.15" fill="#45075a" fill-opacity="0.22"/><circle cx="141.02" cy="363.98" r="1.15" fill="#45075a" fill-opacity="0.22"/><circle cx="111.94" cy="360.01" r="1.15" fill="#45075a" fill-opacity="0.22"/><circle cx="140.4" cy="360.59" r="1.15" fill="#45075a" fill-opacity="0.22"/><circle cx="106.23" cy="338.76" r="1.15" fill="#45075a" fill-opacity="0.22"/><circle cx="140.33" cy="370.67" r="1.15" fill="#45075a" fill-opacity="0.22"/><circle cx="138.48" cy="373.43" r="1.15" fill="#45075a" fill-opacity="0.22"/><circle cx="141.31" cy="365.84" r="1.15" fill="#45085a" fill-opacity="0.22"/><circle cx="133.88" cy="389.41" r="1.15" fill="#45085a" fill-opacity="0.22"/><circle cx="141.56" cy="369.56" r="1.15" fill="#45085a" fill-opacity="0.22"/><circle cx="133.5" cy="350.16" r="1.15" fill="#45085a" fill-opacity="0.22"/><circle cx="142.04" cy="368.69" r="1.15" fill="#45085a" fill-opacity="0.22"/><circle cx="116.85" cy="367.54" r="1.15" fill="#45085a" fill-opacity="0.22"/><circle cx="126.47" cy="391.32" r="1.15" fill="#45085a" fill-opacity="0.22"/><circle cx="134.32" cy="385.87" r="1.15" fill="#45085a" fill-opacity="0.22"/><circle cx="106.75" cy="291.88" r="1.15" fill="#45085a" fill-opacity="0.22"/><circle cx="134.37" cy="387.06" r="1.15" fill="#45085a" fill-opacity="0.22"/><circle cx="109.49" cy="353.33" r="1.15" fill="#45085a" fill-opacity="0.23"/><circle cx="109.87" cy="357.32" r="1.15" fill="#45085b" fill-opacity="0.23"/><circle cx="137" cy="352" r="1.15" fill="#45085b" fill-opacity="0.23"/><circle cx="134.29" cy="382.04" r="1.15" fill="#45085b" fill-opacity="0.23"/><circle cx="141.15" cy="366.53" r="1.15" fill="#45085b" fill-opacity="0.23"/><circle cx="141.35" cy="368.4" r="1.15" fill="#45085b" fill-opacity="0.23"/><circle cx="106.64" cy="341.12" r="1.15" fill="#45085b" fill-opacity="0.23"/><circle cx="125.9" cy="386.06" r="1.15" fill="#45085b" fill-opacity="0.23"/><circle cx="139.6" cy="360.53" r="1.15" fill="#45085b" fill-opacity="0.23"/><circle cx="138.64" cy="358.95" r="1.15" fill="#45085b" fill-opacity="0.23"/><circle cx="123.82" cy="326.9" r="1.15" fill="#45085b" fill-opacity="0.23"/><circle cx="112.73" cy="359.86" r="1.15" fill="#45085b" fill-opacity="0.23"/><circle cx="126.63" cy="387.85" r="1.15" fill="#45085b" fill-opacity="0.23"/><circle cx="122.73" cy="380.35" r="1.15" fill="#45095b" fill-opacity="0.23"/><circle cx="138.36" cy="371.98" r="1.15" fill="#45095b" fill-opacity="0.23"/><circle cx="124.79" cy="384.31" r="1.15" fill="#45095b" fill-opacity="0.24"/><circle cx="128.09" cy="392.37" r="1.15" fill="#45095b" fill-opacity="0.24"/><circle cx="117.23" cy="367.14" r="1.15" fill="#45095c" fill-opacity="0.24"/><circle cx="109.82" cy="355.15" r="1.15" fill="#45095c" fill-opacity="0.24"/><circle cx="131.19" cy="392.09" r="1.15" fill="#45095c" fill-opacity="0.24"/><circle cx="133.56" cy="387.79" r="1.15" fill="#45095c" fill-opacity="0.24"/><circle cx="130.62" cy="392.38" r="1.15" fill="#450a5c" fill-opacity="0.24"/><circle cx="124.57" cy="331.39" r="1.15" fill="#450a5c" fill-opacity="0.24"/><circle cx="110.07" cy="355.8" r="1.15" fill="#450a5c" fill-opacity="0.24"/><circle cx="110.07" cy="354.42" r="1.15" fill="#450a5c" fill-opacity="0.24"/><circle cx="123.34" cy="381.83" r="1.15" fill="#450a5c" fill-opacity="0.24"/><circle cx="137.12" cy="355.57" r="1.15" fill="#450a5c" fill-opacity="0.24"/><circle cx="139.28" cy="361.51" r="1.15" fill="#450a5c" fill-opacity="0.24"/><circle cx="139.64" cy="363.36" r="1.15" fill="#450a5c" fill-opacity="0.24"/><circle cx="107.57" cy="292.67" r="1.15" fill="#450a5c" fill-opacity="0.24"/><circle cx="132.82" cy="384.96" r="1.15" fill="#450a5c" fill-opacity="0.24"/><circle cx="129.31" cy="349.31" r="1.15" fill="#450a5c" fill-opacity="0.24"/><circle cx="104.56" cy="292.48" r="1.15" fill="#450a5c" fill-opacity="0.24"/><circle cx="136.41" cy="376.66" r="1.15" fill="#450a5c" fill-opacity="0.24"/><circle cx="127.48" cy="389.91" r="1.15" fill="#450a5c" fill-opacity="0.24"/><circle cx="133.27" cy="350.95" r="1.15" fill="#450a5c" fill-opacity="0.25"/><circle cx="131.33" cy="391.64" r="1.15" fill="#450a5c" fill-opacity="0.25"/><circle cx="118.68" cy="371.9" r="1.15" fill="#450a5c" fill-opacity="0.25"/><circle cx="105.35" cy="292.37" r="1.15" fill="#450a5d" fill-opacity="0.25"/><circle cx="133.17" cy="388.25" r="1.15" fill="#450a5d" fill-opacity="0.25"/><circle cx="107.7" cy="343.76" r="1.15" fill="#450b5d" fill-opacity="0.25"/><circle cx="101.82" cy="320.16" r="1.15" fill="#450b5d" fill-opacity="0.25"/><circle cx="137.58" cy="371.3" r="1.15" fill="#450b5d" fill-opacity="0.25"/><circle cx="134.44" cy="379.89" r="1.15" fill="#450b5d" fill-opacity="0.25"/><circle cx="133.11" cy="381.21" r="1.15" fill="#450b5d" fill-opacity="0.25"/><circle cx="124.04" cy="329.5" r="1.15" fill="#450b5d" fill-opacity="0.26"/><circle cx="139.42" cy="366.12" r="1.15" fill="#450b5d" fill-opacity="0.26"/><circle cx="136.36" cy="375.28" r="1.15" fill="#450b5d" fill-opacity="0.26"/><circle cx="129.99" cy="391.47" r="1.15" fill="#450b5e" fill-opacity="0.26"/><circle cx="119.92" cy="372.84" r="1.15" fill="#450b5e" fill-opacity="0.26"/><circle cx="135.88" cy="352.93" r="1.15" fill="#450b5e" fill-opacity="0.26"/><circle cx="111.03" cy="350" r="1.15" fill="#450c5e" fill-opacity="0.26"/><circle cx="129.05" cy="390.9" r="1.15" fill="#450c5e" fill-opacity="0.26"/><circle cx="128.82" cy="390.64" r="1.15" fill="#450c5e" fill-opacity="0.26"/><circle cx="111.14" cy="350.42" r="1.15" fill="#450c5e" fill-opacity="0.26"/><circle cx="130.23" cy="384.08" r="1.15" fill="#450c5e" fill-opacity="0.26"/><circle cx="102.7" cy="294.48" r="1.15" fill="#450c5e" fill-opacity="0.26"/><circle cx="111" cy="355.64" r="1.15" fill="#450c5e" fill-opacity="0.26"/><circle cx="117.89" cy="365.96" r="1.15" fill="#450c5e" fill-opacity="0.26"/><circle cx="127.87" cy="385.47" r="1.15" fill="#450c5e" fill-opacity="0.26"/><circle cx="108.98" cy="294.39" r="1.15" fill="#450c5e" fill-opacity="0.26"/><circle cx="111.37" cy="351.06" r="1.15" fill="#450c5e" fill-opacity="0.26"/><circle cx="131.03" cy="385.32" r="1.15" fill="#450c5e" fill-opacity="0.26"/><circle cx="136.94" cy="372.05" r="1.15" fill="#450c5e" fill-opacity="0.26"/><circle cx="126.9" cy="384.4" r="1.15" fill="#450c5e" fill-opacity="0.26"/><circle cx="130.82" cy="381.61" r="1.15" fill="#450c5e" fill-opacity="0.27"/><circle cx="128.4" cy="385.8" r="1.15" fill="#450c5e" fill-opacity="0.27"/><circle cx="125.13" cy="382.98" r="1.15" fill="#450c5f" fill-opacity="0.27"/><circle cx="118.39" cy="314.36" r="1.15" fill="#450c5f" fill-opacity="0.27"/><circle cx="125.36" cy="383.13" r="1.15" fill="#450c5f" fill-opacity="0.27"/><circle cx="108.08" cy="343.5" r="1.15" fill="#450c5f" fill-opacity="0.27"/><circle cx="131.72" cy="351.85" r="1.15" fill="#450c5f" fill-opacity="0.27"/><circle cx="132.06" cy="387.75" r="1.15" fill="#450d5f" fill-opacity="0.27"/><circle cx="130.97" cy="385.96" r="1.15" fill="#450d5f" fill-opacity="0.27"/><circle cx="135.17" cy="352.79" r="1.15" fill="#450d5f" fill-opacity="0.27"/><circle cx="127.56" cy="345.29" r="1.15" fill="#450d5f" fill-opacity="0.27"/><circle cx="117.74" cy="363.5" r="1.15" fill="#450d5f" fill-opacity="0.27"/><circle cx="111.74" cy="352.12" r="1.15" fill="#450d5f" fill-opacity="0.27"/><circle cx="138.38" cy="363.38" r="1.15" fill="#450d5f" fill-opacity="0.27"/><circle cx="130.72" cy="389.94" r="1.15" fill="#450d5f" fill-opacity="0.27"/><circle cx="127.81" cy="348.62" r="1.15" fill="#450d5f" fill-opacity="0.27"/><circle cx="131.81" cy="387.82" r="1.15" fill="#450d5f" fill-opacity="0.27"/><circle cx="135.11" cy="352.85" r="1.15" fill="#450d5f" fill-opacity="0.27"/><circle cx="128.71" cy="350.54" r="1.15" fill="#450d5f" fill-opacity="0.27"/><circle cx="118.02" cy="364.34" r="1.15" fill="#450d5f" fill-opacity="0.27"/><circle cx="107.72" cy="338.59" r="1.15" fill="#450d5f" fill-opacity="0.27"/><circle cx="129.54" cy="386.3" r="1.15" fill="#450d5f" fill-opacity="0.27"/><circle cx="135.55" cy="353.54" r="1.15" fill="#450d5f" fill-opacity="0.27"/><circle cx="133.4" cy="379.84" r="1.15" fill="#450d5f" fill-opacity="0.27"/><circle cx="117.39" cy="362.44" r="1.15" fill="#450d5f" fill-opacity="0.27"/><circle cx="118.62" cy="370.17" r="1.15" fill="#450d5f" fill-opacity="0.27"/><circle cx="135.41" cy="376.15" r="1.15" fill="#450d5f" fill-opacity="0.27"/><circle cx="127.37" cy="343" r="1.15" fill="#450d5f" fill-opacity="0.27"/><circle cx="128.89" cy="382.45" r="1.15" fill="#450d5f" fill-opacity="0.27"/><circle cx="104.29" cy="329.59" r="1.15" fill="#450d60" fill-opacity="0.27"/><circle cx="103.84" cy="293.65" r="1.15" fill="#450d60" fill-opacity="0.28"/><circle cx="118.37" cy="368.53" r="1.15" fill="#450d60" fill-opacity="0.28"/><circle cx="137" cy="359.62" r="1.15" fill="#450d60" fill-opacity="0.28"/><circle cx="129.43" cy="388.28" r="1.15" fill="#450d60" fill-opacity="0.28"/><circle cx="130.11" cy="389.57" r="1.15" fill="#450d60" fill-opacity="0.28"/><circle cx="130.29" cy="386.76" r="1.15" fill="#450d60" fill-opacity="0.28"/><circle cx="114.67" cy="304.99" r="1.15" fill="#450d60" fill-opacity="0.28"/><circle cx="126.57" cy="341.41" r="1.15" fill="#450d60" fill-opacity="0.28"/><circle cx="130.5" cy="389.45" r="1.15" fill="#450d60" fill-opacity="0.28"/><circle cx="105.83" cy="332.96" r="1.15" fill="#450d60" fill-opacity="0.28"/><circle cx="102.13" cy="319.62" r="1.15" fill="#450d60" fill-opacity="0.28"/><circle cx="104.82" cy="330.78" r="1.15" fill="#450e60" fill-opacity="0.28"/><circle cx="112.04" cy="356.48" r="1.15" fill="#450e60" fill-opacity="0.28"/><circle cx="118.02" cy="363.52" r="1.15" fill="#450e60" fill-opacity="0.28"/><circle cx="103.82" cy="327.91" r="1.15" fill="#450e60" fill-opacity="0.28"/><circle cx="127.22" cy="383.16" r="1.15" fill="#450e60" fill-opacity="0.28"/><circle cx="133.27" cy="379.52" r="1.15" fill="#450e60" fill-opacity="0.28"/><circle cx="131.3" cy="352.65" r="1.15" fill="#450e60" fill-opacity="0.28"/><circle cx="129.34" cy="352.27" r="1.15" fill="#450e60" fill-opacity="0.28"/><circle cx="102.81" cy="323.64" r="1.15" fill="#450e60" fill-opacity="0.28"/><circle cx="107.43" cy="337.08" r="1.15" fill="#450e60" fill-opacity="0.28"/><circle cx="107.54" cy="337.27" r="1.15" fill="#460e60" fill-opacity="0.28"/><circle cx="137.55" cy="362.01" r="1.15" fill="#460e60" fill-opacity="0.28"/><circle cx="135.76" cy="356.8" r="1.15" fill="#460e61" fill-opacity="0.28"/><circle cx="113.55" cy="303.25" r="1.15" fill="#460e61" fill-opacity="0.29"/><circle cx="128.98" cy="380.99" r="1.15" fill="#460f61" fill-opacity="0.29"/><circle cx="135.41" cy="355.32" r="1.15" fill="#460f61" fill-opacity="0.29"/><circle cx="113.33" cy="357.69" r="1.15" fill="#460f61" fill-opacity="0.29"/><circle cx="133.02" cy="352.76" r="1.15" fill="#460f61" fill-opacity="0.29"/><circle cx="125.22" cy="381.64" r="1.15" fill="#460f61" fill-opacity="0.29"/><circle cx="130.77" cy="379.98" r="1.15" fill="#460f61" fill-opacity="0.29"/><circle cx="119.84" cy="371.55" r="1.15" fill="#460f61" fill-opacity="0.29"/><circle cx="126.23" cy="382.37" r="1.15" fill="#460f61" fill-opacity="0.29"/><circle cx="102.15" cy="319" r="1.15" fill="#460f61" fill-opacity="0.29"/><circle cx="116.05" cy="359.94" r="1.15" fill="#460f61" fill-opacity="0.29"/><circle cx="123.13" cy="374.2" r="1.15" fill="#460f61" fill-opacity="0.29"/><circle cx="133.29" cy="352.87" r="1.15" fill="#460f61" fill-opacity="0.29"/><circle cx="103.58" cy="294.22" r="1.15" fill="#460f61" fill-opacity="0.29"/><circle cx="124.67" cy="378.06" r="1.15" fill="#460f61" fill-opacity="0.29"/><circle cx="124.89" cy="380.81" r="1.15" fill="#460f61" fill-opacity="0.29"/><circle cx="108.49" cy="343" r="1.15" fill="#460f61" fill-opacity="0.29"/><circle cx="124.78" cy="380" r="1.15" fill="#460f61" fill-opacity="0.29"/><circle cx="134.83" cy="376.15" r="1.15" fill="#460f61" fill-opacity="0.29"/><circle cx="109.96" cy="345.96" r="1.15" fill="#460f61" fill-opacity="0.29"/><circle cx="101.91" cy="317.88" r="1.15" fill="#460f61" fill-opacity="0.29"/><circle cx="127.59" cy="349.62" r="1.15" fill="#460f61" fill-opacity="0.29"/><circle cx="122.92" cy="373.84" r="1.15" fill="#460f61" fill-opacity="0.29"/><circle cx="123.77" cy="334.93" r="1.15" fill="#460f62" fill-opacity="0.29"/><circle cx="122.71" cy="373.58" r="1.15" fill="#461062" fill-opacity="0.29"/><circle cx="124.87" cy="378.08" r="1.15" fill="#461062" fill-opacity="0.29"/><circle cx="121.31" cy="323.4" r="1.15" fill="#461062" fill-opacity="0.29"/><circle cx="132.69" cy="379.1" r="1.15" fill="#461062" fill-opacity="0.29"/><circle cx="118.05" cy="314.49" r="1.15" fill="#461062" fill-opacity="0.29"/><circle cx="122.92" cy="328.13" r="1.15" fill="#461062" fill-opacity="0.30"/><circle cx="119.11" cy="369.65" r="1.15" fill="#461062" fill-opacity="0.30"/><circle cx="135.73" cy="372.25" r="1.15" fill="#461062" fill-opacity="0.30"/><circle cx="119.2" cy="369.84" r="1.15" fill="#461062" fill-opacity="0.30"/><circle cx="115.95" cy="359.52" r="1.15" fill="#461062" fill-opacity="0.30"/><circle cx="132.25" cy="353.43" r="1.15" fill="#461062" fill-opacity="0.30"/><circle cx="124.73" cy="376.22" r="1.15" fill="#461062" fill-opacity="0.30"/><circle cx="137.55" cy="366.82" r="1.15" fill="#461062" fill-opacity="0.30"/><circle cx="126.46" cy="342" r="1.15" fill="#461062" fill-opacity="0.30"/><circle cx="133.7" cy="377.65" r="1.15" fill="#461063" fill-opacity="0.30"/><circle cx="116.9" cy="360.24" r="1.15" fill="#461163" fill-opacity="0.30"/><circle cx="121.5" cy="372.39" r="1.15" fill="#461163" fill-opacity="0.30"/><circle cx="132.79" cy="378.48" r="1.15" fill="#461163" fill-opacity="0.30"/><circle cx="113.29" cy="356.36" r="1.15" fill="#461163" fill-opacity="0.31"/><circle cx="103.22" cy="324.08" r="1.15" fill="#461163" fill-opacity="0.31"/><circle cx="101.77" cy="307.1" r="1.15" fill="#461163" fill-opacity="0.31"/><circle cx="101.87" cy="316.23" r="1.15" fill="#461163" fill-opacity="0.31"/><circle cx="126.4" cy="380.49" r="1.15" fill="#461163" fill-opacity="0.31"/><circle cx="127.24" cy="380.25" r="1.15" fill="#461163" fill-opacity="0.31"/><circle cx="123.41" cy="334.23" r="1.15" fill="#461163" fill-opacity="0.31"/><circle cx="120.87" cy="321.95" r="1.15" fill="#461163" fill-opacity="0.31"/><circle cx="126.6" cy="380.39" r="1.15" fill="#461163" fill-opacity="0.31"/><circle cx="126.59" cy="380.31" r="1.15" fill="#461163" fill-opacity="0.31"/><circle cx="132.26" cy="354.18" r="1.15" fill="#461164" fill-opacity="0.31"/><circle cx="130.48" cy="378.49" r="1.15" fill="#461264" fill-opacity="0.31"/><circle cx="125.91" cy="378.98" r="1.15" fill="#461264" fill-opacity="0.31"/><circle cx="111.57" cy="300.66" r="1.15" fill="#461264" fill-opacity="0.31"/><circle cx="123.86" cy="373.43" r="1.15" fill="#461264" fill-opacity="0.31"/><circle cx="124.96" cy="374.73" r="1.15" fill="#461264" fill-opacity="0.31"/><circle cx="103.23" cy="295.39" r="1.15" fill="#461264" fill-opacity="0.31"/><circle cx="102.04" cy="314.08" r="1.15" fill="#461264" fill-opacity="0.31"/><circle cx="133.21" cy="354.51" r="1.15" fill="#461264" fill-opacity="0.31"/><circle cx="121.05" cy="371.52" r="1.15" fill="#461264" fill-opacity="0.31"/><circle cx="135.41" cy="359.01" r="1.15" fill="#461264" fill-opacity="0.31"/><circle cx="125.57" cy="376.02" r="1.15" fill="#461264" fill-opacity="0.31"/><circle cx="107.66" cy="335.87" r="1.15" fill="#461264" fill-opacity="0.31"/><circle cx="120.88" cy="371.28" r="1.15" fill="#461264" fill-opacity="0.32"/><circle cx="103.63" cy="325.5" r="1.15" fill="#461264" fill-opacity="0.32"/><circle cx="136.87" cy="367.26" r="1.15" fill="#461264" fill-opacity="0.32"/><circle cx="133.04" cy="377.2" r="1.15" fill="#461365" fill-opacity="0.32"/><circle cx="119.11" cy="362.89" r="1.15" fill="#461365" fill-opacity="0.32"/><circle cx="132.31" cy="377.75" r="1.15" fill="#461365" fill-opacity="0.32"/><circle cx="127.61" cy="352.44" r="1.15" fill="#461365" fill-opacity="0.32"/><circle cx="133.75" cy="355.52" r="1.15" fill="#461365" fill-opacity="0.32"/><circle cx="113.75" cy="352.02" r="1.15" fill="#461365" fill-opacity="0.32"/><circle cx="120.07" cy="369.88" r="1.15" fill="#461365" fill-opacity="0.32"/><circle cx="113.74" cy="351.88" r="1.15" fill="#461365" fill-opacity="0.32"/><circle cx="109.15" cy="343" r="1.15" fill="#461365" fill-opacity="0.32"/><circle cx="103.84" cy="294.81" r="1.15" fill="#461365" fill-opacity="0.32"/><circle cx="133.78" cy="355.78" r="1.15" fill="#461365" fill-opacity="0.32"/><circle cx="126.5" cy="377.26" r="1.15" fill="#461365" fill-opacity="0.32"/><circle cx="105.73" cy="331.2" r="1.15" fill="#461365" fill-opacity="0.32"/><circle cx="135.71" cy="360.57" r="1.15" fill="#461365" fill-opacity="0.32"/><circle cx="122.66" cy="328.95" r="1.15" fill="#461365" fill-opacity="0.32"/><circle cx="127.51" cy="377.82" r="1.15" fill="#461365" fill-opacity="0.32"/><circle cx="126.31" cy="376.33" r="1.15" fill="#461365" fill-opacity="0.32"/><circle cx="130.72" cy="377.59" r="1.15" fill="#461365" fill-opacity="0.32"/><circle cx="116.72" cy="359.24" r="1.15" fill="#461365" fill-opacity="0.32"/><circle cx="120.21" cy="369.8" r="1.15" fill="#461365" fill-opacity="0.32"/><circle cx="132.2" cy="377.41" r="1.15" fill="#461365" fill-opacity="0.32"/><circle cx="113.82" cy="355.26" r="1.15" fill="#461365" fill-opacity="0.32"/><circle cx="125.97" cy="374.04" r="1.15" fill="#461465" fill-opacity="0.32"/><circle cx="120.02" cy="365.07" r="1.15" fill="#461465" fill-opacity="0.32"/><circle cx="125.94" cy="373.85" r="1.15" fill="#461465" fill-opacity="0.32"/><circle cx="113.97" cy="355.78" r="1.15" fill="#461465" fill-opacity="0.32"/><circle cx="122.32" cy="327.93" r="1.15" fill="#461465" fill-opacity="0.32"/><circle cx="120.04" cy="366.87" r="1.15" fill="#461466" fill-opacity="0.32"/><circle cx="108.5" cy="337.25" r="1.15" fill="#461466" fill-opacity="0.33"/><circle cx="127.34" cy="376.29" r="1.15" fill="#461466" fill-opacity="0.33"/><circle cx="123.69" cy="372" r="1.15" fill="#461466" fill-opacity="0.33"/><circle cx="127.2" cy="376.16" r="1.15" fill="#461466" fill-opacity="0.33"/><circle cx="126" cy="373.08" r="1.15" fill="#461466" fill-opacity="0.33"/><circle cx="128.24" cy="376.47" r="1.15" fill="#461466" fill-opacity="0.33"/><circle cx="134.56" cy="358.26" r="1.15" fill="#461466" fill-opacity="0.33"/><circle cx="128.2" cy="375.56" r="1.15" fill="#461466" fill-opacity="0.33"/><circle cx="120.32" cy="369.13" r="1.15" fill="#461466" fill-opacity="0.33"/><circle cx="134.68" cy="371.95" r="1.15" fill="#461466" fill-opacity="0.33"/><circle cx="122.3" cy="371.29" r="1.15" fill="#461466" fill-opacity="0.33"/><circle cx="102.37" cy="309.02" r="1.15" fill="#461466" fill-opacity="0.33"/><circle cx="135.01" cy="359.45" r="1.15" fill="#461466" fill-opacity="0.33"/><circle cx="129.84" cy="376.44" r="1.15" fill="#461466" fill-opacity="0.33"/><circle cx="136.62" cy="366.44" r="1.15" fill="#461466" fill-opacity="0.33"/><circle cx="134.8" cy="371.44" r="1.15" fill="#461466" fill-opacity="0.33"/><circle cx="126.81" cy="371.85" r="1.15" fill="#461566" fill-opacity="0.33"/><circle cx="115.24" cy="357.43" r="1.15" fill="#461566" fill-opacity="0.33"/><circle cx="126.1" cy="371.62" r="1.15" fill="#461566" fill-opacity="0.33"/><circle cx="103" cy="296.63" r="1.15" fill="#461566" fill-opacity="0.33"/><circle cx="135.92" cy="368.17" r="1.15" fill="#461566" fill-opacity="0.33"/><circle cx="120.93" cy="324.16" r="1.15" fill="#461567" fill-opacity="0.33"/><circle cx="114.36" cy="353.83" r="1.15" fill="#461567" fill-opacity="0.33"/><circle cx="121.67" cy="326.52" r="1.15" fill="#461567" fill-opacity="0.33"/><circle cx="106.61" cy="294.23" r="1.15" fill="#461567" fill-opacity="0.33"/><circle cx="122.53" cy="370.96" r="1.15" fill="#461567" fill-opacity="0.33"/><circle cx="130.26" cy="375.99" r="1.15" fill="#461567" fill-opacity="0.33"/><circle cx="109.5" cy="339.52" r="1.15" fill="#461567" fill-opacity="0.33"/><circle cx="124.6" cy="370.9" r="1.15" fill="#461567" fill-opacity="0.33"/><circle cx="120.61" cy="366.04" r="1.15" fill="#461567" fill-opacity="0.33"/><circle cx="103.62" cy="324.04" r="1.15" fill="#461567" fill-opacity="0.34"/><circle cx="126.91" cy="351.81" r="1.15" fill="#461567" fill-opacity="0.34"/><circle cx="113.24" cy="349.9" r="1.15" fill="#461567" fill-opacity="0.34"/><circle cx="132.86" cy="375.21" r="1.15" fill="#461567" fill-opacity="0.34"/><circle cx="117.12" cy="359.04" r="1.15" fill="#461567" fill-opacity="0.34"/><circle cx="125.25" cy="370.54" r="1.15" fill="#461567" fill-opacity="0.34"/><circle cx="112.69" cy="349.08" r="1.15" fill="#461567" fill-opacity="0.34"/><circle cx="114.49" cy="355.43" r="1.15" fill="#461567" fill-opacity="0.34"/><circle cx="114.53" cy="355.65" r="1.15" fill="#461567" fill-opacity="0.34"/><circle cx="129.5" cy="373.62" r="1.15" fill="#461567" fill-opacity="0.34"/><circle cx="128.48" cy="372.05" r="1.15" fill="#461667" fill-opacity="0.34"/><circle cx="125.47" cy="370.26" r="1.15" fill="#461667" fill-opacity="0.34"/><circle cx="117.15" cy="358.96" r="1.15" fill="#461668" fill-opacity="0.34"/><circle cx="102.31" cy="316.02" r="1.15" fill="#461668" fill-opacity="0.34"/><circle cx="102.55" cy="313.08" r="1.15" fill="#461668" fill-opacity="0.34"/><circle cx="107.49" cy="334.31" r="1.15" fill="#461668" fill-opacity="0.34"/><circle cx="132.32" cy="356.5" r="1.15" fill="#461668" fill-opacity="0.34"/><circle cx="122.09" cy="328.1" r="1.15" fill="#461668" fill-opacity="0.34"/><circle cx="128.69" cy="371.96" r="1.15" fill="#461668" fill-opacity="0.34"/><circle cx="102.43" cy="308.6" r="1.15" fill="#461668" fill-opacity="0.34"/><circle cx="114.67" cy="355.14" r="1.15" fill="#461668" fill-opacity="0.34"/><circle cx="135.82" cy="363.85" r="1.15" fill="#461668" fill-opacity="0.34"/><circle cx="102.75" cy="298" r="1.15" fill="#461668" fill-opacity="0.34"/><circle cx="122.92" cy="336.43" r="1.15" fill="#461668" fill-opacity="0.34"/><circle cx="121.24" cy="366.59" r="1.15" fill="#461668" fill-opacity="0.34"/><circle cx="130.95" cy="374.68" r="1.15" fill="#461668" fill-opacity="0.34"/><circle cx="136.06" cy="366.44" r="1.15" fill="#461768" fill-opacity="0.34"/><circle cx="121.27" cy="367.55" r="1.15" fill="#461768" fill-opacity="0.34"/><circle cx="133.1" cy="357.33" r="1.15" fill="#461768" fill-opacity="0.35"/><circle cx="119.22" cy="361.03" r="1.15" fill="#461768" fill-opacity="0.35"/><circle cx="132.31" cy="356.82" r="1.15" fill="#461768" fill-opacity="0.35"/><circle cx="136.06" cy="366.07" r="1.15" fill="#461768" fill-opacity="0.35"/><circle cx="132.48" cy="374.47" r="1.15" fill="#461768" fill-opacity="0.35"/><circle cx="132.26" cy="374.61" r="1.15" fill="#461768" fill-opacity="0.35"/><circle cx="133" cy="357.34" r="1.15" fill="#461768" fill-opacity="0.35"/><circle cx="120.37" cy="362.91" r="1.15" fill="#461769" fill-opacity="0.35"/><circle cx="123.35" cy="368.94" r="1.15" fill="#461769" fill-opacity="0.35"/><circle cx="134.75" cy="360.55" r="1.15" fill="#461769" fill-opacity="0.35"/><circle cx="133.78" cy="372.43" r="1.15" fill="#471769" fill-opacity="0.35"/><circle cx="135.44" cy="367.9" r="1.15" fill="#471769" fill-opacity="0.35"/><circle cx="132.09" cy="374.51" r="1.15" fill="#471769" fill-opacity="0.35"/><circle cx="122.44" cy="331.6" r="1.15" fill="#471769" fill-opacity="0.35"/><circle cx="111.69" cy="301.7" r="1.15" fill="#471769" fill-opacity="0.35"/><circle cx="134.09" cy="371.55" r="1.15" fill="#471769" fill-opacity="0.35"/><circle cx="109.74" cy="343" r="1.15" fill="#471769" fill-opacity="0.35"/><circle cx="131.82" cy="374.37" r="1.15" fill="#471769" fill-opacity="0.35"/><circle cx="121.99" cy="367.77" r="1.15" fill="#471769" fill-opacity="0.35"/><circle cx="115.34" cy="351.89" r="1.15" fill="#471769" fill-opacity="0.35"/><circle cx="135.46" cy="364.02" r="1.15" fill="#471869" fill-opacity="0.35"/><circle cx="103.23" cy="296.89" r="1.15" fill="#471869" fill-opacity="0.35"/><circle cx="102.46" cy="315.84" r="1.15" fill="#471869" fill-opacity="0.35"/><circle cx="109.8" cy="343" r="1.15" fill="#471869" fill-opacity="0.35"/><circle cx="122.3" cy="367.4" r="1.15" fill="#471869" fill-opacity="0.35"/><circle cx="122.61" cy="367.47" r="1.15" fill="#471869" fill-opacity="0.35"/><circle cx="115.37" cy="356.14" r="1.15" fill="#471869" fill-opacity="0.35"/><circle cx="122.29" cy="330.37" r="1.15" fill="#471869" fill-opacity="0.35"/><circle cx="131.38" cy="356.96" r="1.15" fill="#471869" fill-opacity="0.35"/><circle cx="128.29" cy="355.44" r="1.15" fill="#47186a" fill-opacity="0.35"/><circle cx="121.76" cy="364.67" r="1.15" fill="#47186a" fill-opacity="0.35"/><circle cx="126.99" cy="369.45" r="1.15" fill="#47186a" fill-opacity="0.35"/><circle cx="121.07" cy="363.33" r="1.15" fill="#47186a" fill-opacity="0.35"/><circle cx="122.31" cy="365.88" r="1.15" fill="#47186a" fill-opacity="0.35"/><circle cx="132.37" cy="373.58" r="1.15" fill="#47186a" fill-opacity="0.36"/><circle cx="135.58" cy="366.71" r="1.15" fill="#47186a" fill-opacity="0.36"/><circle cx="134.22" cy="360.04" r="1.15" fill="#47186a" fill-opacity="0.36"/><circle cx="123.05" cy="366.99" r="1.15" fill="#47186a" fill-opacity="0.36"/><circle cx="125.83" cy="349.4" r="1.15" fill="#47186a" fill-opacity="0.36"/><circle cx="125.63" cy="348.75" r="1.15" fill="#47186a" fill-opacity="0.36"/><circle cx="120.21" cy="321.63" r="1.15" fill="#47186a" fill-opacity="0.36"/><circle cx="134.61" cy="361.8" r="1.15" fill="#47196a" fill-opacity="0.36"/><circle cx="135.54" cy="365.71" r="1.15" fill="#47196a" fill-opacity="0.36"/><circle cx="129.56" cy="356.64" r="1.15" fill="#47196a" fill-opacity="0.36"/><circle cx="135.39" cy="366.56" r="1.15" fill="#47196a" fill-opacity="0.36"/><circle cx="134.43" cy="361.39" r="1.15" fill="#47196b" fill-opacity="0.36"/><circle cx="132.7" cy="372.68" r="1.15" fill="#47196b" fill-opacity="0.36"/><circle cx="127.25" cy="368.92" r="1.15" fill="#47196b" fill-opacity="0.36"/><circle cx="134.78" cy="363.62" r="1.15" fill="#47196b" fill-opacity="0.36"/><circle cx="104.45" cy="295.37" r="1.15" fill="#47196b" fill-opacity="0.36"/><circle cx="124.02" cy="366.25" r="1.15" fill="#47196b" fill-opacity="0.36"/><circle cx="126.48" cy="353.16" r="1.15" fill="#47196b" fill-opacity="0.36"/><circle cx="122.79" cy="338.06" r="1.15" fill="#471a6b" fill-opacity="0.37"/><circle cx="108.28" cy="335.15" r="1.15" fill="#471a6b" fill-opacity="0.37"/><circle cx="110.05" cy="343" r="1.15" fill="#471a6b" fill-opacity="0.37"/><circle cx="128.07" cy="355.82" r="1.15" fill="#471a6b" fill-opacity="0.37"/><circle cx="103.01" cy="311.47" r="1.15" fill="#471a6b" fill-opacity="0.37"/><circle cx="127.31" cy="355.02" r="1.15" fill="#471a6c" fill-opacity="0.37"/><circle cx="135.08" cy="366.21" r="1.15" fill="#471a6c" fill-opacity="0.37"/><circle cx="127.01" cy="368.21" r="1.15" fill="#471a6c" fill-opacity="0.37"/><circle cx="115.67" cy="350.8" r="1.15" fill="#471a6c" fill-opacity="0.37"/><circle cx="125.34" cy="366.8" r="1.15" fill="#471a6c" fill-opacity="0.37"/><circle cx="116.42" cy="352.7" r="1.15" fill="#471a6c" fill-opacity="0.37"/><circle cx="104.16" cy="324.65" r="1.15" fill="#471a6c" fill-opacity="0.37"/><circle cx="108.39" cy="296.34" r="1.15" fill="#471a6c" fill-opacity="0.37"/><circle cx="111.61" cy="302.06" r="1.15" fill="#471b6c" fill-opacity="0.37"/><circle cx="132.78" cy="371.64" r="1.15" fill="#471b6c" fill-opacity="0.37"/><circle cx="134.08" cy="362.24" r="1.15" fill="#471b6c" fill-opacity="0.37"/><circle cx="109.02" cy="336.31" r="1.15" fill="#471b6c" fill-opacity="0.37"/><circle cx="124.27" cy="365.26" r="1.15" fill="#471b6c" fill-opacity="0.37"/><circle cx="125.69" cy="366.61" r="1.15" fill="#471b6d" fill-opacity="0.37"/><circle cx="134.72" cy="365.61" r="1.15" fill="#471b6d" fill-opacity="0.37"/><circle cx="128.96" cy="369.57" r="1.15" fill="#471b6d" fill-opacity="0.38"/><circle cx="131.4" cy="358.16" r="1.15" fill="#471b6d" fill-opacity="0.38"/><circle cx="122.72" cy="363.41" r="1.15" fill="#471b6d" fill-opacity="0.38"/><circle cx="108.93" cy="297.3" r="1.15" fill="#471b6d" fill-opacity="0.38"/><circle cx="125.69" cy="366.44" r="1.15" fill="#471b6d" fill-opacity="0.38"/><circle cx="122.64" cy="338.2" r="1.15" fill="#471b6d" fill-opacity="0.38"/><circle cx="126.96" cy="367.49" r="1.15" fill="#471b6d" fill-opacity="0.38"/><circle cx="120.88" cy="361.39" r="1.15" fill="#471b6d" fill-opacity="0.38"/><circle cx="116.8" cy="352.55" r="1.15" fill="#471c6d" fill-opacity="0.38"/><circle cx="125.54" cy="343.01" r="1.15" fill="#471c6d" fill-opacity="0.38"/><circle cx="114.9" cy="308.2" r="1.15" fill="#471c6d" fill-opacity="0.38"/><circle cx="114.51" cy="307.32" r="1.15" fill="#471c6d" fill-opacity="0.38"/><circle cx="132.35" cy="358.93" r="1.15" fill="#471c6d" fill-opacity="0.38"/><circle cx="131.04" cy="371.27" r="1.15" fill="#471c6d" fill-opacity="0.38"/><circle cx="133.65" cy="369.23" r="1.15" fill="#471c6d" fill-opacity="0.38"/><circle cx="134.23" cy="364.82" r="1.15" fill="#471c6d" fill-opacity="0.38"/><circle cx="134.41" cy="366.36" r="1.15" fill="#471c6d" fill-opacity="0.38"/><circle cx="120.67" cy="360.96" r="1.15" fill="#471c6d" fill-opacity="0.38"/><circle cx="126.5" cy="366.82" r="1.15" fill="#471c6d" fill-opacity="0.38"/><circle cx="128.88" cy="369.08" r="1.15" fill="#471c6d" fill-opacity="0.38"/><circle cx="119.75" cy="359.86" r="1.15" fill="#471c6d" fill-opacity="0.38"/><circle cx="106.52" cy="295.17" r="1.15" fill="#471c6d" fill-opacity="0.38"/><circle cx="128.29" cy="356.67" r="1.15" fill="#471c6e" fill-opacity="0.38"/><circle cx="107.8" cy="333.58" r="1.15" fill="#471c6e" fill-opacity="0.38"/><circle cx="125.24" cy="349.47" r="1.15" fill="#471c6e" fill-opacity="0.38"/><circle cx="132.67" cy="370.84" r="1.15" fill="#471c6e" fill-opacity="0.38"/><circle cx="131.74" cy="371.23" r="1.15" fill="#471c6e" fill-opacity="0.38"/><circle cx="130.46" cy="370.52" r="1.15" fill="#471c6e" fill-opacity="0.38"/><circle cx="133.51" cy="361.66" r="1.15" fill="#471c6e" fill-opacity="0.38"/><circle cx="113.66" cy="348.67" r="1.15" fill="#471c6e" fill-opacity="0.38"/><circle cx="107.18" cy="295.51" r="1.15" fill="#471c6e" fill-opacity="0.38"/><circle cx="132.55" cy="370.78" r="1.15" fill="#471c6e" fill-opacity="0.38"/><circle cx="122.59" cy="362.63" r="1.15" fill="#471d6e" fill-opacity="0.39"/><circle cx="125.52" cy="343.72" r="1.15" fill="#471d6e" fill-opacity="0.39"/><circle cx="122.24" cy="337.33" r="1.15" fill="#471d6e" fill-opacity="0.39"/><circle cx="129.55" cy="357.87" r="1.15" fill="#471d6e" fill-opacity="0.39"/><circle cx="128.15" cy="356.84" r="1.15" fill="#471d6f" fill-opacity="0.39"/><circle cx="125.3" cy="345.14" r="1.15" fill="#471d6f" fill-opacity="0.39"/><circle cx="102.94" cy="299.94" r="1.15" fill="#471e6f" fill-opacity="0.39"/><circle cx="131.82" cy="370.45" r="1.15" fill="#471e6f" fill-opacity="0.39"/><circle cx="125.29" cy="350.55" r="1.15" fill="#471e6f" fill-opacity="0.39"/><circle cx="117.11" cy="353.83" r="1.15" fill="#471e6f" fill-opacity="0.39"/><circle cx="116.97" cy="355.95" r="1.15" fill="#471e6f" fill-opacity="0.39"/><circle cx="117.54" cy="357.03" r="1.15" fill="#471e70" fill-opacity="0.39"/><circle cx="130.38" cy="369.38" r="1.15" fill="#471e70" fill-opacity="0.40"/><circle cx="121.16" cy="360.61" r="1.15" fill="#471e70" fill-opacity="0.40"/><circle cx="122.97" cy="362.22" r="1.15" fill="#471e70" fill-opacity="0.40"/><circle cx="119.35" cy="319.92" r="1.15" fill="#471e70" fill-opacity="0.40"/><circle cx="128.32" cy="357.43" r="1.15" fill="#471e70" fill-opacity="0.40"/><circle cx="113.89" cy="348.49" r="1.15" fill="#471f70" fill-opacity="0.40"/><circle cx="121.36" cy="360.69" r="1.15" fill="#471f70" fill-opacity="0.40"/><circle cx="132.57" cy="360.82" r="1.15" fill="#471f70" fill-opacity="0.40"/><circle cx="110.64" cy="338.25" r="1.15" fill="#471f70" fill-opacity="0.40"/><circle cx="131.89" cy="369.67" r="1.15" fill="#471f70" fill-opacity="0.40"/><circle cx="114.91" cy="349.18" r="1.15" fill="#471f70" fill-opacity="0.40"/><circle cx="129.3" cy="367.76" r="1.15" fill="#471f70" fill-opacity="0.40"/><circle cx="125.2" cy="351.01" r="1.15" fill="#471f70" fill-opacity="0.40"/><circle cx="126.5" cy="365.14" r="1.15" fill="#471f70" fill-opacity="0.40"/><circle cx="132.56" cy="368.68" r="1.15" fill="#471f70" fill-opacity="0.40"/><circle cx="120.56" cy="326.14" r="1.15" fill="#471f70" fill-opacity="0.40"/><circle cx="129.9" cy="358.7" r="1.15" fill="#471f70" fill-opacity="0.40"/><circle cx="128.64" cy="366.96" r="1.15" fill="#471f70" fill-opacity="0.40"/><circle cx="132.5" cy="364.7" r="1.15" fill="#471f70" fill-opacity="0.40"/><circle cx="107.13" cy="295.83" r="1.15" fill="#471f70" fill-opacity="0.40"/><circle cx="124.78" cy="346.09" r="1.15" fill="#471f71" fill-opacity="0.40"/><circle cx="124.15" cy="341.2" r="1.15" fill="#471f71" fill-opacity="0.40"/><circle cx="104.95" cy="326.49" r="1.15" fill="#471f71" fill-opacity="0.40"/><circle cx="132.22" cy="368.85" r="1.15" fill="#471f71" fill-opacity="0.40"/><circle cx="116.33" cy="312.41" r="1.15" fill="#471f71" fill-opacity="0.40"/><circle cx="117.98" cy="351.55" r="1.15" fill="#471f71" fill-opacity="0.40"/><circle cx="132.26" cy="360.7" r="1.15" fill="#471f71" fill-opacity="0.40"/><circle cx="132.28" cy="368.62" r="1.15" fill="#472071" fill-opacity="0.40"/><circle cx="117.26" cy="354.83" r="1.15" fill="#472071" fill-opacity="0.40"/><circle cx="126.44" cy="364.8" r="1.15" fill="#472071" fill-opacity="0.40"/><circle cx="130.17" cy="368.23" r="1.15" fill="#482071" fill-opacity="0.40"/><circle cx="120.82" cy="327.08" r="1.15" fill="#482071" fill-opacity="0.40"/><circle cx="125.01" cy="345.15" r="1.15" fill="#482071" fill-opacity="0.40"/><circle cx="121.69" cy="335.73" r="1.15" fill="#482071" fill-opacity="0.41"/><circle cx="110.9" cy="341.09" r="1.15" fill="#482071" fill-opacity="0.41"/><circle cx="109.17" cy="298.53" r="1.15" fill="#482071" fill-opacity="0.41"/><circle cx="122.58" cy="339.18" r="1.15" fill="#482071" fill-opacity="0.41"/><circle cx="112.28" cy="303.78" r="1.15" fill="#482071" fill-opacity="0.41"/><circle cx="131.82" cy="366.08" r="1.15" fill="#482071" fill-opacity="0.41"/><circle cx="131.89" cy="367.47" r="1.15" fill="#482072" fill-opacity="0.41"/><circle cx="105.66" cy="295.72" r="1.15" fill="#482072" fill-opacity="0.41"/><circle cx="121.65" cy="335.54" r="1.15" fill="#482072" fill-opacity="0.41"/><circle cx="121.76" cy="336.74" r="1.15" fill="#482072" fill-opacity="0.41"/><circle cx="131.72" cy="366.57" r="1.15" fill="#482072" fill-opacity="0.41"/><circle cx="103.1" cy="315.49" r="1.15" fill="#482072" fill-opacity="0.41"/><circle cx="117.49" cy="350.42" r="1.15" fill="#482072" fill-opacity="0.41"/><circle cx="124.69" cy="345.93" r="1.15" fill="#482072" fill-opacity="0.41"/><circle cx="131.43" cy="368.03" r="1.15" fill="#482072" fill-opacity="0.41"/><circle cx="130.75" cy="367.21" r="1.15" fill="#482172" fill-opacity="0.41"/><circle cx="128.53" cy="365.84" r="1.15" fill="#482172" fill-opacity="0.41"/><circle cx="130.36" cy="366.73" r="1.15" fill="#482172" fill-opacity="0.41"/><circle cx="130.09" cy="366.29" r="1.15" fill="#482172" fill-opacity="0.41"/><circle cx="127.13" cy="364.71" r="1.15" fill="#482172" fill-opacity="0.41"/><circle cx="121.14" cy="359.65" r="1.15" fill="#482172" fill-opacity="0.41"/><circle cx="124.48" cy="362.17" r="1.15" fill="#482172" fill-opacity="0.41"/><circle cx="132" cy="361.68" r="1.15" fill="#482172" fill-opacity="0.41"/><circle cx="122.67" cy="360.95" r="1.15" fill="#482172" fill-opacity="0.41"/><circle cx="103.23" cy="313.98" r="1.15" fill="#482172" fill-opacity="0.41"/><circle cx="113.22" cy="347.39" r="1.15" fill="#482172" fill-opacity="0.41"/><circle cx="104.33" cy="321.85" r="1.15" fill="#482172" fill-opacity="0.41"/><circle cx="125.3" cy="362.73" r="1.15" fill="#482173" fill-opacity="0.41"/><circle cx="131.09" cy="360.26" r="1.15" fill="#482273" fill-opacity="0.41"/><circle cx="125.03" cy="344.3" r="1.15" fill="#482273" fill-opacity="0.41"/><circle cx="124.63" cy="350.13" r="1.15" fill="#482273" fill-opacity="0.41"/><circle cx="115.35" cy="310.1" r="1.15" fill="#482273" fill-opacity="0.42"/><circle cx="117.74" cy="350.23" r="1.15" fill="#482273" fill-opacity="0.42"/><circle cx="118.52" cy="352.98" r="1.15" fill="#482273" fill-opacity="0.42"/><circle cx="131" cy="364.23" r="1.15" fill="#482273" fill-opacity="0.42"/><circle cx="102.7" cy="304.68" r="1.15" fill="#482273" fill-opacity="0.42"/><circle cx="131.18" cy="363.56" r="1.15" fill="#482374" fill-opacity="0.42"/><circle cx="126.03" cy="362.8" r="1.15" fill="#482374" fill-opacity="0.42"/><circle cx="124.3" cy="361.38" r="1.15" fill="#482374" fill-opacity="0.42"/><circle cx="124.82" cy="343" r="1.15" fill="#482374" fill-opacity="0.42"/><circle cx="129.22" cy="359.57" r="1.15" fill="#482374" fill-opacity="0.42"/><circle cx="118.02" cy="355.58" r="1.15" fill="#482374" fill-opacity="0.42"/><circle cx="122.37" cy="360.09" r="1.15" fill="#482374" fill-opacity="0.42"/><circle cx="111.23" cy="338.4" r="1.15" fill="#482374" fill-opacity="0.42"/><circle cx="109.31" cy="299.23" r="1.15" fill="#482374" fill-opacity="0.42"/><circle cx="118.07" cy="355.62" r="1.15" fill="#482374" fill-opacity="0.42"/><circle cx="114.11" cy="348.01" r="1.15" fill="#482374" fill-opacity="0.42"/><circle cx="104.5" cy="322.52" r="1.15" fill="#482374" fill-opacity="0.42"/><circle cx="130.74" cy="360.89" r="1.15" fill="#482375" fill-opacity="0.43"/><circle cx="131.18" cy="362.09" r="1.15" fill="#482375" fill-opacity="0.43"/><circle cx="111.69" cy="344.88" r="1.15" fill="#482475" fill-opacity="0.43"/><circle cx="103.32" cy="300.05" r="1.15" fill="#482475" fill-opacity="0.43"/><circle cx="124.86" cy="343.6" r="1.15" fill="#482475" fill-opacity="0.43"/><circle cx="118.19" cy="355.23" r="1.15" fill="#482475" fill-opacity="0.43"/><circle cx="128.12" cy="364.21" r="1.15" fill="#482475" fill-opacity="0.43"/><circle cx="128.9" cy="364.38" r="1.15" fill="#482475" fill-opacity="0.43"/><circle cx="123.95" cy="360.71" r="1.15" fill="#482475" fill-opacity="0.43"/><circle cx="124.12" cy="360.8" r="1.15" fill="#482475" fill-opacity="0.43"/><circle cx="130.89" cy="362.72" r="1.15" fill="#482475" fill-opacity="0.43"/><circle cx="125.87" cy="361.9" r="1.15" fill="#482475" fill-opacity="0.43"/><circle cx="126.28" cy="357.06" r="1.15" fill="#482475" fill-opacity="0.43"/><circle cx="129.64" cy="364.02" r="1.15" fill="#482475" fill-opacity="0.43"/><circle cx="130.45" cy="361" r="1.15" fill="#482475" fill-opacity="0.43"/><circle cx="126.31" cy="357.15" r="1.15" fill="#482475" fill-opacity="0.43"/><circle cx="119.05" cy="320" r="1.15" fill="#482475" fill-opacity="0.43"/><circle cx="127.72" cy="363.53" r="1.15" fill="#482575" fill-opacity="0.43"/><circle cx="127.19" cy="362.93" r="1.15" fill="#482575" fill-opacity="0.43"/><circle cx="125.51" cy="355.88" r="1.15" fill="#482575" fill-opacity="0.43"/><circle cx="103.23" cy="300.8" r="1.15" fill="#482575" fill-opacity="0.43"/><circle cx="126.35" cy="357.73" r="1.15" fill="#482576" fill-opacity="0.43"/><circle cx="123.75" cy="349.17" r="1.15" fill="#482576" fill-opacity="0.43"/><circle cx="106.12" cy="296.26" r="1.15" fill="#482576" fill-opacity="0.43"/><circle cx="121.31" cy="337.28" r="1.15" fill="#482576" fill-opacity="0.43"/><circle cx="119.44" cy="352.2" r="1.15" fill="#482576" fill-opacity="0.43"/><circle cx="107.97" cy="297.35" r="1.15" fill="#482576" fill-opacity="0.44"/><circle cx="129.97" cy="363.11" r="1.15" fill="#482576" fill-opacity="0.44"/><circle cx="118.82" cy="356.29" r="1.15" fill="#482576" fill-opacity="0.44"/><circle cx="119.49" cy="352.15" r="1.15" fill="#482576" fill-opacity="0.44"/><circle cx="121.24" cy="358.47" r="1.15" fill="#482576" fill-opacity="0.44"/><circle cx="127.05" cy="362.35" r="1.15" fill="#482576" fill-opacity="0.44"/><circle cx="107.26" cy="296.71" r="1.15" fill="#482576" fill-opacity="0.44"/><circle cx="119.59" cy="322.85" r="1.15" fill="#482576" fill-opacity="0.44"/><circle cx="102.87" cy="304.5" r="1.15" fill="#482576" fill-opacity="0.44"/><circle cx="117.51" cy="349.28" r="1.15" fill="#482676" fill-opacity="0.44"/><circle cx="123.04" cy="359.43" r="1.15" fill="#482676" fill-opacity="0.44"/><circle cx="125.66" cy="356.8" r="1.15" fill="#482676" fill-opacity="0.44"/><circle cx="129.92" cy="361.68" r="1.15" fill="#482676" fill-opacity="0.44"/><circle cx="127.29" cy="360.19" r="1.15" fill="#482676" fill-opacity="0.44"/><circle cx="126.56" cy="359.24" r="1.15" fill="#482676" fill-opacity="0.44"/><circle cx="119.03" cy="354.06" r="1.15" fill="#482676" fill-opacity="0.44"/><circle cx="127.12" cy="360.08" r="1.15" fill="#482676" fill-opacity="0.44"/><circle cx="127.01" cy="361.68" r="1.15" fill="#482676" fill-opacity="0.44"/><circle cx="129.71" cy="362.66" r="1.15" fill="#482676" fill-opacity="0.44"/><circle cx="102.99" cy="306.21" r="1.15" fill="#482676" fill-opacity="0.44"/><circle cx="119.74" cy="357.17" r="1.15" fill="#482676" fill-opacity="0.44"/><circle cx="124.35" cy="352.28" r="1.15" fill="#482676" fill-opacity="0.44"/><circle cx="124.61" cy="344.07" r="1.15" fill="#482676" fill-opacity="0.44"/><circle cx="102.99" cy="302.85" r="1.15" fill="#482676" fill-opacity="0.44"/><circle cx="129.6" cy="361.63" r="1.15" fill="#482676" fill-opacity="0.44"/><circle cx="127.38" cy="360.92" r="1.15" fill="#482676" fill-opacity="0.44"/><circle cx="129.22" cy="361.39" r="1.15" fill="#482676" fill-opacity="0.44"/><circle cx="128.73" cy="361.13" r="1.15" fill="#472676" fill-opacity="0.44"/><circle cx="106.74" cy="296.56" r="1.15" fill="#472676" fill-opacity="0.44"/><circle cx="125.59" cy="359.75" r="1.15" fill="#472676" fill-opacity="0.44"/><circle cx="124.79" cy="354.98" r="1.15" fill="#472676" fill-opacity="0.44"/><circle cx="106.88" cy="330.4" r="1.15" fill="#472676" fill-opacity="0.44"/><circle cx="103.75" cy="299.29" r="1.15" fill="#472776" fill-opacity="0.44"/><circle cx="119.21" cy="350.11" r="1.15" fill="#472777" fill-opacity="0.44"/><circle cx="119.1" cy="355.91" r="1.15" fill="#472777" fill-opacity="0.45"/><circle cx="128.63" cy="362.07" r="1.15" fill="#472777" fill-opacity="0.45"/><circle cx="125.33" cy="356.89" r="1.15" fill="#472777" fill-opacity="0.45"/><circle cx="110.88" cy="336.9" r="1.15" fill="#472777" fill-opacity="0.45"/><circle cx="106.23" cy="296.53" r="1.15" fill="#472777" fill-opacity="0.45"/><circle cx="125.43" cy="357.47" r="1.15" fill="#472777" fill-opacity="0.45"/><circle cx="104.24" cy="298.14" r="1.15" fill="#472777" fill-opacity="0.45"/><circle cx="120.88" cy="335.8" r="1.15" fill="#472777" fill-opacity="0.45"/><circle cx="124.45" cy="359.09" r="1.15" fill="#472777" fill-opacity="0.45"/><circle cx="124.39" cy="343" r="1.15" fill="#472777" fill-opacity="0.45"/><circle cx="119.52" cy="356.47" r="1.15" fill="#472777" fill-opacity="0.45"/><circle cx="120.82" cy="335.03" r="1.15" fill="#472777" fill-opacity="0.45"/><circle cx="123.14" cy="348.76" r="1.15" fill="#472777" fill-opacity="0.45"/><circle cx="119.34" cy="356.05" r="1.15" fill="#472777" fill-opacity="0.45"/><circle cx="125.11" cy="356.79" r="1.15" fill="#472777" fill-opacity="0.45"/><circle cx="123.69" cy="350.5" r="1.15" fill="#472777" fill-opacity="0.45"/><circle cx="106.48" cy="296.65" r="1.15" fill="#472877" fill-opacity="0.45"/><circle cx="122.72" cy="358.45" r="1.15" fill="#472877" fill-opacity="0.45"/><circle cx="114.42" cy="347.61" r="1.15" fill="#472877" fill-opacity="0.45"/><circle cx="124.37" cy="354.5" r="1.15" fill="#472877" fill-opacity="0.45"/><circle cx="111.48" cy="343" r="1.15" fill="#472877" fill-opacity="0.45"/><circle cx="124.34" cy="343" r="1.15" fill="#472877" fill-opacity="0.45"/><circle cx="120.81" cy="331.87" r="1.15" fill="#472877" fill-opacity="0.45"/><circle cx="120.81" cy="336.26" r="1.15" fill="#472877" fill-opacity="0.45"/><circle cx="123.93" cy="358.59" r="1.15" fill="#472877" fill-opacity="0.45"/><circle cx="104.39" cy="298.05" r="1.15" fill="#472877" fill-opacity="0.45"/><circle cx="111.7" cy="341.36" r="1.15" fill="#472877" fill-opacity="0.45"/><circle cx="103.59" cy="314.74" r="1.15" fill="#472877" fill-opacity="0.45"/><circle cx="109.66" cy="334.95" r="1.15" fill="#472877" fill-opacity="0.45"/><circle cx="124.91" cy="357.6" r="1.15" fill="#472877" fill-opacity="0.45"/><circle cx="114.27" cy="347.44" r="1.15" fill="#472877" fill-opacity="0.45"/><circle cx="123.16" cy="347.2" r="1.15" fill="#472877" fill-opacity="0.45"/><circle cx="111.58" cy="342.05" r="1.15" fill="#472877" fill-opacity="0.45"/><circle cx="123.84" cy="352" r="1.15" fill="#472877" fill-opacity="0.45"/><circle cx="111.55" cy="343" r="1.15" fill="#472878" fill-opacity="0.46"/><circle cx="120.77" cy="331.13" r="1.15" fill="#472978" fill-opacity="0.46"/><circle cx="122.82" cy="349.07" r="1.15" fill="#472978" fill-opacity="0.46"/><circle cx="120.74" cy="330.77" r="1.15" fill="#472978" fill-opacity="0.46"/><circle cx="120.12" cy="356.33" r="1.15" fill="#472978" fill-opacity="0.46"/><circle cx="123.92" cy="357.62" r="1.15" fill="#472978" fill-opacity="0.46"/><circle cx="109.79" cy="334.97" r="1.15" fill="#472978" fill-opacity="0.46"/><circle cx="120.27" cy="356.45" r="1.15" fill="#472978" fill-opacity="0.46"/><circle cx="120.56" cy="334.42" r="1.15" fill="#472978" fill-opacity="0.46"/><circle cx="124.14" cy="355.74" r="1.15" fill="#472a78" fill-opacity="0.46"/><circle cx="122.67" cy="349.29" r="1.15" fill="#472a78" fill-opacity="0.46"/><circle cx="120.32" cy="356.39" r="1.15" fill="#472a78" fill-opacity="0.46"/><circle cx="104.38" cy="298.41" r="1.15" fill="#472a78" fill-opacity="0.46"/><circle cx="107.65" cy="297.66" r="1.15" fill="#472a78" fill-opacity="0.46"/><circle cx="123.74" cy="353.86" r="1.15" fill="#472a78" fill-opacity="0.46"/><circle cx="109.01" cy="299.66" r="1.15" fill="#472a78" fill-opacity="0.46"/><circle cx="122.92" cy="350.27" r="1.15" fill="#472a78" fill-opacity="0.46"/><circle cx="113.72" cy="346.74" r="1.15" fill="#472a78" fill-opacity="0.46"/><circle cx="107.81" cy="297.89" r="1.15" fill="#472a78" fill-opacity="0.47"/><circle cx="112.14" cy="338.21" r="1.15" fill="#472a79" fill-opacity="0.47"/><circle cx="123.77" cy="356.68" r="1.15" fill="#472a79" fill-opacity="0.47"/><circle cx="122.38" cy="348.72" r="1.15" fill="#472a79" fill-opacity="0.47"/><circle cx="112.39" cy="305.07" r="1.15" fill="#472a79" fill-opacity="0.47"/><circle cx="124.08" cy="343" r="1.15" fill="#472b79" fill-opacity="0.47"/><circle cx="114.18" cy="308.66" r="1.15" fill="#472b79" fill-opacity="0.47"/><circle cx="122.84" cy="350.83" r="1.15" fill="#472b79" fill-opacity="0.47"/><circle cx="111.76" cy="342.92" r="1.15" fill="#472b79" fill-opacity="0.47"/><circle cx="113.06" cy="306.34" r="1.15" fill="#462b79" fill-opacity="0.47"/><circle cx="120.37" cy="334.74" r="1.15" fill="#462b79" fill-opacity="0.47"/><circle cx="121.23" cy="356.53" r="1.15" fill="#462b79" fill-opacity="0.47"/><circle cx="120.42" cy="355.38" r="1.15" fill="#462b79" fill-opacity="0.47"/><circle cx="120.9" cy="356.24" r="1.15" fill="#462b79" fill-opacity="0.47"/><circle cx="120.17" cy="349.38" r="1.15" fill="#462b79" fill-opacity="0.47"/><circle cx="121.3" cy="350.33" r="1.15" fill="#462b79" fill-opacity="0.47"/><circle cx="105.31" cy="325.14" r="1.15" fill="#462b79" fill-opacity="0.47"/><circle cx="113.61" cy="346.46" r="1.15" fill="#462b79" fill-opacity="0.47"/><circle cx="123.02" cy="352.14" r="1.15" fill="#462b79" fill-opacity="0.47"/><circle cx="119.08" cy="348.91" r="1.15" fill="#462b79" fill-opacity="0.47"/><circle cx="121.55" cy="356.47" r="1.15" fill="#462b79" fill-opacity="0.47"/><circle cx="120.04" cy="349.21" r="1.15" fill="#462c79" fill-opacity="0.47"/><circle cx="121.68" cy="350.54" r="1.15" fill="#462c79" fill-opacity="0.47"/><circle cx="122.78" cy="351.86" r="1.15" fill="#462c79" fill-opacity="0.47"/><circle cx="104.41" cy="318.82" r="1.15" fill="#462c79" fill-opacity="0.47"/><circle cx="121.96" cy="350.72" r="1.15" fill="#462c79" fill-opacity="0.47"/><circle cx="119.52" cy="325.31" r="1.15" fill="#462c79" fill-opacity="0.47"/><circle cx="123.02" cy="353.05" r="1.15" fill="#462c79" fill-opacity="0.48"/><circle cx="116.51" cy="348.06" r="1.15" fill="#462c79" fill-opacity="0.48"/><circle cx="120.49" cy="331.46" r="1.15" fill="#462c79" fill-opacity="0.48"/><circle cx="121.16" cy="349.29" r="1.15" fill="#462c7a" fill-opacity="0.48"/><circle cx="121.44" cy="356.06" r="1.15" fill="#462c7a" fill-opacity="0.48"/><circle cx="122.9" cy="353.35" r="1.15" fill="#462c7a" fill-opacity="0.48"/><circle cx="120.42" cy="332.15" r="1.15" fill="#462c7a" fill-opacity="0.48"/><circle cx="122.38" cy="352.67" r="1.15" fill="#462d7a" fill-opacity="0.48"/><circle cx="121.45" cy="353.56" r="1.15" fill="#462d7a" fill-opacity="0.48"/><circle cx="120.27" cy="333.68" r="1.15" fill="#462d7a" fill-opacity="0.48"/><circle cx="122.62" cy="353.37" r="1.15" fill="#462d7a" fill-opacity="0.48"/><circle cx="121.22" cy="348.92" r="1.15" fill="#462d7a" fill-opacity="0.48"/><circle cx="122.59" cy="353.46" r="1.15" fill="#462d7a" fill-opacity="0.48"/><circle cx="107.1" cy="297.59" r="1.15" fill="#462d7a" fill-opacity="0.48"/><circle cx="118.66" cy="320.15" r="1.15" fill="#462d7a" fill-opacity="0.48"/><circle cx="122.48" cy="353.49" r="1.15" fill="#462d7a" fill-opacity="0.48"/><circle cx="122.08" cy="353.24" r="1.15" fill="#462d7a" fill-opacity="0.48"/><circle cx="121.74" cy="355.51" r="1.15" fill="#462d7a" fill-opacity="0.48"/><circle cx="111.97" cy="342.61" r="1.15" fill="#462d7a" fill-opacity="0.48"/><circle cx="122.43" cy="355.21" r="1.15" fill="#462d7a" fill-opacity="0.48"/><circle cx="110.25" cy="301.99" r="1.15" fill="#462d7a" fill-opacity="0.48"/><circle cx="113.06" cy="306.68" r="1.15" fill="#462e7b" fill-opacity="0.49"/><circle cx="120.16" cy="333.39" r="1.15" fill="#462e7b" fill-opacity="0.49"/><circle cx="105.62" cy="297.66" r="1.15" fill="#462e7b" fill-opacity="0.49"/><circle cx="120.32" cy="330.53" r="1.15" fill="#462f7b" fill-opacity="0.49"/><circle cx="112.07" cy="337.18" r="1.15" fill="#462f7b" fill-opacity="0.49"/><circle cx="118.93" cy="321.41" r="1.15" fill="#462f7b" fill-opacity="0.49"/><circle cx="105.32" cy="324.07" r="1.15" fill="#462f7b" fill-opacity="0.49"/><circle cx="114.46" cy="346.72" r="1.15" fill="#452f7b" fill-opacity="0.50"/><circle cx="103.54" cy="302.69" r="1.15" fill="#45307c" fill-opacity="0.50"/><circle cx="104.36" cy="317.53" r="1.15" fill="#45307c" fill-opacity="0.50"/><circle cx="112.99" cy="340.4" r="1.15" fill="#45317c" fill-opacity="0.50"/><circle cx="112.56" cy="344.19" r="1.15" fill="#45317c" fill-opacity="0.50"/><circle cx="104.29" cy="311.74" r="1.15" fill="#45317c" fill-opacity="0.50"/><circle cx="119.88" cy="348.12" r="1.15" fill="#45317c" fill-opacity="0.50"/><circle cx="104.13" cy="316.07" r="1.15" fill="#45317c" fill-opacity="0.50"/><circle cx="114.75" cy="346.77" r="1.15" fill="#45317c" fill-opacity="0.50"/><circle cx="113.35" cy="339.27" r="1.15" fill="#45317c" fill-opacity="0.50"/><circle cx="119.67" cy="334.96" r="1.15" fill="#45317c" fill-opacity="0.50"/><circle cx="119.93" cy="338.02" r="1.15" fill="#45317c" fill-opacity="0.51"/><circle cx="108.39" cy="331.84" r="1.15" fill="#45317d" fill-opacity="0.51"/><circle cx="119.47" cy="326.58" r="1.15" fill="#45327d" fill-opacity="0.51"/><circle cx="110.72" cy="303.11" r="1.15" fill="#45327d" fill-opacity="0.51"/><circle cx="116.56" cy="347.43" r="1.15" fill="#45327d" fill-opacity="0.51"/><circle cx="112.44" cy="343" r="1.15" fill="#45327d" fill-opacity="0.51"/><circle cx="117.32" cy="317.99" r="1.15" fill="#45327d" fill-opacity="0.51"/><circle cx="123.12" cy="342.3" r="1.15" fill="#45337d" fill-opacity="0.51"/><circle cx="109.18" cy="332.92" r="1.15" fill="#45337d" fill-opacity="0.51"/><circle cx="112.72" cy="337.3" r="1.15" fill="#45337d" fill-opacity="0.51"/><circle cx="112.58" cy="337.14" r="1.15" fill="#45337d" fill-opacity="0.51"/><circle cx="122.82" cy="345.39" r="1.15" fill="#45337d" fill-opacity="0.51"/><circle cx="113.64" cy="338.88" r="1.15" fill="#45337d" fill-opacity="0.51"/><circle cx="111.77" cy="336.18" r="1.15" fill="#45347e" fill-opacity="0.52"/><circle cx="110.32" cy="334.41" r="1.15" fill="#45347e" fill-opacity="0.52"/><circle cx="107.29" cy="298.66" r="1.15" fill="#45347e" fill-opacity="0.52"/><circle cx="113.73" cy="345.53" r="1.15" fill="#44347e" fill-opacity="0.52"/><circle cx="120.68" cy="347.35" r="1.15" fill="#44347e" fill-opacity="0.52"/><circle cx="118.99" cy="324.5" r="1.15" fill="#44347e" fill-opacity="0.52"/><circle cx="114.04" cy="345.83" r="1.15" fill="#44347e" fill-opacity="0.52"/><circle cx="106.01" cy="298.39" r="1.15" fill="#44357e" fill-opacity="0.52"/><circle cx="113.8" cy="339.69" r="1.15" fill="#44357e" fill-opacity="0.52"/><circle cx="116.51" cy="316.69" r="1.15" fill="#44357e" fill-opacity="0.52"/><circle cx="116.83" cy="347.24" r="1.15" fill="#44357f" fill-opacity="0.52"/><circle cx="123.12" cy="342.77" r="1.15" fill="#44357f" fill-opacity="0.53"/><circle cx="103.65" cy="304.94" r="1.15" fill="#44357f" fill-opacity="0.53"/><circle cx="119.17" cy="337.73" r="1.15" fill="#44357f" fill-opacity="0.53"/><circle cx="122.69" cy="345.24" r="1.15" fill="#44357f" fill-opacity="0.53"/><circle cx="104.33" cy="315.75" r="1.15" fill="#44357f" fill-opacity="0.53"/><circle cx="119.63" cy="338.66" r="1.15" fill="#44367f" fill-opacity="0.53"/><circle cx="112.82" cy="343" r="1.15" fill="#44367f" fill-opacity="0.53"/><circle cx="105.7" cy="324.23" r="1.15" fill="#443780" fill-opacity="0.53"/><circle cx="118.74" cy="336.64" r="1.15" fill="#443780" fill-opacity="0.54"/><circle cx="120.66" cy="339.86" r="1.15" fill="#443780" fill-opacity="0.54"/><circle cx="118.68" cy="336.71" r="1.15" fill="#443780" fill-opacity="0.54"/><circle cx="119.3" cy="327.16" r="1.15" fill="#443880" fill-opacity="0.54"/><circle cx="104.43" cy="314.07" r="1.15" fill="#443880" fill-opacity="0.54"/><circle cx="119.25" cy="347.28" r="1.15" fill="#443880" fill-opacity="0.54"/><circle cx="118.8" cy="347.28" r="1.15" fill="#443880" fill-opacity="0.54"/><circle cx="104.57" cy="310.11" r="1.15" fill="#443880" fill-opacity="0.54"/><circle cx="105.06" cy="299.68" r="1.15" fill="#443880" fill-opacity="0.54"/><circle cx="106.98" cy="328.64" r="1.15" fill="#443880" fill-opacity="0.54"/><circle cx="119.27" cy="327.25" r="1.15" fill="#433981" fill-opacity="0.54"/><circle cx="110.06" cy="333.59" r="1.15" fill="#433981" fill-opacity="0.54"/><circle cx="122.93" cy="343.26" r="1.15" fill="#433981" fill-opacity="0.54"/><circle cx="120.99" cy="340.32" r="1.15" fill="#433981" fill-opacity="0.54"/><circle cx="113.23" cy="308.21" r="1.15" fill="#433981" fill-opacity="0.54"/><circle cx="114.51" cy="339.62" r="1.15" fill="#433981" fill-opacity="0.55"/><circle cx="115.16" cy="312.63" r="1.15" fill="#433981" fill-opacity="0.55"/><circle cx="122.82" cy="343" r="1.15" fill="#433981" fill-opacity="0.55"/><circle cx="112.76" cy="307.34" r="1.15" fill="#433a81" fill-opacity="0.55"/><circle cx="119.56" cy="329.36" r="1.15" fill="#433a82" fill-opacity="0.55"/><circle cx="116.1" cy="316.3" r="1.15" fill="#433a82" fill-opacity="0.55"/><circle cx="105.63" cy="321.77" r="1.15" fill="#433a82" fill-opacity="0.55"/><circle cx="119.26" cy="332.78" r="1.15" fill="#433a82" fill-opacity="0.55"/><circle cx="117.55" cy="319.04" r="1.15" fill="#433a82" fill-opacity="0.55"/><circle cx="118.19" cy="336.33" r="1.15" fill="#433b82" fill-opacity="0.55"/><circle cx="114.75" cy="337.94" r="1.15" fill="#433b82" fill-opacity="0.55"/><circle cx="112.95" cy="336.48" r="1.15" fill="#433b82" fill-opacity="0.56"/><circle cx="119.51" cy="329.14" r="1.15" fill="#433b82" fill-opacity="0.56"/><circle cx="104.68" cy="300.8" r="1.15" fill="#433b82" fill-opacity="0.56"/><circle cx="104.16" cy="302.45" r="1.15" fill="#433b82" fill-opacity="0.56"/><circle cx="110.11" cy="333.39" r="1.15" fill="#433c82" fill-opacity="0.56"/><circle cx="103.94" cy="305.21" r="1.15" fill="#433c82" fill-opacity="0.56"/><circle cx="119.56" cy="346.85" r="1.15" fill="#433c82" fill-opacity="0.56"/><circle cx="110.23" cy="303.24" r="1.15" fill="#433c82" fill-opacity="0.56"/><circle cx="118.09" cy="338.58" r="1.15" fill="#433c83" fill-opacity="0.56"/><circle cx="115.74" cy="338.57" r="1.15" fill="#433c83" fill-opacity="0.56"/><circle cx="117.8" cy="336.49" r="1.15" fill="#433c83" fill-opacity="0.56"/><circle cx="115.35" cy="337.79" r="1.15" fill="#433d83" fill-opacity="0.57"/><circle cx="121.25" cy="345.93" r="1.15" fill="#433d83" fill-opacity="0.57"/><circle cx="104.36" cy="302.05" r="1.15" fill="#433d83" fill-opacity="0.57"/><circle cx="118.08" cy="335.66" r="1.15" fill="#433d83" fill-opacity="0.57"/><circle cx="106.01" cy="299.53" r="1.15" fill="#423d83" fill-opacity="0.57"/><circle cx="116.73" cy="337.76" r="1.15" fill="#423d83" fill-opacity="0.57"/><circle cx="113.43" cy="343" r="1.15" fill="#423d83" fill-opacity="0.57"/><circle cx="119.58" cy="339.69" r="1.15" fill="#423d83" fill-opacity="0.57"/><circle cx="114.5" cy="311.34" r="1.15" fill="#423d83" fill-opacity="0.57"/><circle cx="118.52" cy="334.32" r="1.15" fill="#423e84" fill-opacity="0.57"/><circle cx="105.04" cy="317.64" r="1.15" fill="#423e84" fill-opacity="0.57"/><circle cx="104.93" cy="300.76" r="1.15" fill="#423e84" fill-opacity="0.57"/><circle cx="106.39" cy="299.54" r="1.15" fill="#423e84" fill-opacity="0.57"/><circle cx="121.69" cy="341.56" r="1.15" fill="#423e84" fill-opacity="0.57"/><circle cx="116.07" cy="337.55" r="1.15" fill="#423e84" fill-opacity="0.57"/><circle cx="117.97" cy="339" r="1.15" fill="#423e84" fill-opacity="0.57"/><circle cx="104.5" cy="308.3" r="1.15" fill="#423e84" fill-opacity="0.57"/><circle cx="119.34" cy="330.88" r="1.15" fill="#423e84" fill-opacity="0.57"/><circle cx="104.25" cy="302.84" r="1.15" fill="#423e84" fill-opacity="0.57"/><circle cx="108.06" cy="300.61" r="1.15" fill="#423e84" fill-opacity="0.57"/><circle cx="116.58" cy="317.66" r="1.15" fill="#423e84" fill-opacity="0.57"/><circle cx="116.92" cy="338.91" r="1.15" fill="#423e84" fill-opacity="0.57"/><circle cx="109.43" cy="302.34" r="1.15" fill="#423f84" fill-opacity="0.57"/><circle cx="113.75" cy="344.09" r="1.15" fill="#423f84" fill-opacity="0.57"/><circle cx="110.08" cy="333.09" r="1.15" fill="#423f84" fill-opacity="0.58"/><circle cx="115.26" cy="337.28" r="1.15" fill="#423f84" fill-opacity="0.58"/><circle cx="113.97" cy="336.71" r="1.15" fill="#423f84" fill-opacity="0.58"/><circle cx="115.66" cy="339.73" r="1.15" fill="#423f84" fill-opacity="0.58"/><circle cx="116.53" cy="337.15" r="1.15" fill="#423f84" fill-opacity="0.58"/><circle cx="120.01" cy="346.41" r="1.15" fill="#423f84" fill-opacity="0.58"/><circle cx="114.2" cy="341.45" r="1.15" fill="#424084" fill-opacity="0.58"/><circle cx="113.65" cy="343" r="1.15" fill="#424085" fill-opacity="0.58"/><circle cx="116.47" cy="346.23" r="1.15" fill="#424085" fill-opacity="0.58"/><circle cx="108.79" cy="331.28" r="1.15" fill="#424085" fill-opacity="0.58"/><circle cx="117.94" cy="346.56" r="1.15" fill="#424085" fill-opacity="0.58"/><circle cx="119.3" cy="339.79" r="1.15" fill="#424085" fill-opacity="0.58"/><circle cx="113.75" cy="343.75" r="1.15" fill="#424085" fill-opacity="0.58"/><circle cx="118.62" cy="346.58" r="1.15" fill="#424085" fill-opacity="0.58"/><circle cx="109.58" cy="332.33" r="1.15" fill="#424085" fill-opacity="0.58"/><circle cx="114.39" cy="344.85" r="1.15" fill="#424085" fill-opacity="0.58"/><circle cx="114.15" cy="336.58" r="1.15" fill="#424185" fill-opacity="0.58"/><circle cx="107.57" cy="300.37" r="1.15" fill="#424185" fill-opacity="0.59"/><circle cx="111.82" cy="306.16" r="1.15" fill="#424185" fill-opacity="0.59"/><circle cx="116.99" cy="339.47" r="1.15" fill="#424185" fill-opacity="0.59"/><circle cx="106.62" cy="299.9" r="1.15" fill="#424185" fill-opacity="0.59"/><circle cx="113.08" cy="308.76" r="1.15" fill="#424185" fill-opacity="0.59"/><circle cx="122.2" cy="343" r="1.15" fill="#424185" fill-opacity="0.59"/><circle cx="117.41" cy="335.73" r="1.15" fill="#424186" fill-opacity="0.59"/><circle cx="116.16" cy="336.76" r="1.15" fill="#424186" fill-opacity="0.59"/><circle cx="112.36" cy="335.34" r="1.15" fill="#424186" fill-opacity="0.59"/><circle cx="115.7" cy="316.01" r="1.15" fill="#424286" fill-opacity="0.59"/><circle cx="114.03" cy="344" r="1.15" fill="#414286" fill-opacity="0.59"/><circle cx="119.18" cy="329.51" r="1.15" fill="#414286" fill-opacity="0.59"/><circle cx="107.2" cy="300.22" r="1.15" fill="#414286" fill-opacity="0.59"/><circle cx="107.97" cy="329.82" r="1.15" fill="#414286" fill-opacity="0.59"/><circle cx="122.09" cy="344.06" r="1.15" fill="#414286" fill-opacity="0.59"/><circle cx="116.69" cy="336.31" r="1.15" fill="#414286" fill-opacity="0.59"/><circle cx="114.03" cy="310.76" r="1.15" fill="#414286" fill-opacity="0.59"/><circle cx="107.34" cy="300.39" r="1.15" fill="#414386" fill-opacity="0.60"/><circle cx="121.44" cy="341.78" r="1.15" fill="#414386" fill-opacity="0.60"/><circle cx="106.87" cy="327.24" r="1.15" fill="#414386" fill-opacity="0.60"/><circle cx="114.98" cy="313.37" r="1.15" fill="#414386" fill-opacity="0.60"/><circle cx="118.18" cy="339.8" r="1.15" fill="#414387" fill-opacity="0.60"/><circle cx="104.43" cy="306.87" r="1.15" fill="#414387" fill-opacity="0.60"/><circle cx="114.67" cy="341.52" r="1.15" fill="#414487" fill-opacity="0.60"/><circle cx="105.12" cy="316.64" r="1.15" fill="#414487" fill-opacity="0.60"/><circle cx="118.13" cy="346.26" r="1.15" fill="#414487" fill-opacity="0.60"/><circle cx="105.02" cy="309.48" r="1.15" fill="#414487" fill-opacity="0.60"/><circle cx="106.37" cy="324.9" r="1.15" fill="#414587" fill-opacity="0.61"/><circle cx="121.88" cy="343" r="1.15" fill="#404587" fill-opacity="0.61"/><circle cx="119.78" cy="340.59" r="1.15" fill="#404587" fill-opacity="0.61"/><circle cx="119.02" cy="329.66" r="1.15" fill="#404587" fill-opacity="0.61"/><circle cx="104.71" cy="307.87" r="1.15" fill="#404587" fill-opacity="0.61"/><circle cx="114.22" cy="343" r="1.15" fill="#404587" fill-opacity="0.61"/><circle cx="118.69" cy="340.17" r="1.15" fill="#404687" fill-opacity="0.61"/><circle cx="110.58" cy="304.51" r="1.15" fill="#404687" fill-opacity="0.61"/><circle cx="117.75" cy="334.3" r="1.15" fill="#404687" fill-opacity="0.61"/><circle cx="113.32" cy="335.59" r="1.15" fill="#404687" fill-opacity="0.61"/><circle cx="114.38" cy="343.42" r="1.15" fill="#404788" fill-opacity="0.62"/><circle cx="117.67" cy="334.3" r="1.15" fill="#404788" fill-opacity="0.62"/><circle cx="105.23" cy="312.18" r="1.15" fill="#404788" fill-opacity="0.62"/><circle cx="108.51" cy="330.33" r="1.15" fill="#404788" fill-opacity="0.62"/><circle cx="115.9" cy="341.02" r="1.15" fill="#3f4888" fill-opacity="0.62"/><circle cx="112.79" cy="335.08" r="1.15" fill="#3f4888" fill-opacity="0.62"/><circle cx="105.13" cy="314.84" r="1.15" fill="#3f4888" fill-opacity="0.62"/><circle cx="105.18" cy="301.88" r="1.15" fill="#3f4888" fill-opacity="0.62"/><circle cx="117.58" cy="320.27" r="1.15" fill="#3f4888" fill-opacity="0.63"/><circle cx="119.05" cy="345.79" r="1.15" fill="#3f4988" fill-opacity="0.63"/><circle cx="107.24" cy="301.02" r="1.15" fill="#3f4988" fill-opacity="0.63"/><circle cx="114.19" cy="311.79" r="1.15" fill="#3f4988" fill-opacity="0.63"/><circle cx="105.09" cy="308.76" r="1.15" fill="#3f4988" fill-opacity="0.63"/><circle cx="105.92" cy="301.08" r="1.15" fill="#3f4988" fill-opacity="0.63"/><circle cx="114.69" cy="343" r="1.15" fill="#3f4988" fill-opacity="0.63"/><circle cx="118.77" cy="345.77" r="1.15" fill="#3f4988" fill-opacity="0.63"/><circle cx="114.7" cy="343" r="1.15" fill="#3f4988" fill-opacity="0.63"/><circle cx="121.46" cy="343" r="1.15" fill="#3f4988" fill-opacity="0.63"/><circle cx="119.84" cy="345.46" r="1.15" fill="#3e4a88" fill-opacity="0.63"/><circle cx="105.83" cy="301.27" r="1.15" fill="#3e4a88" fill-opacity="0.63"/><circle cx="114.83" cy="343" r="1.15" fill="#3e4a88" fill-opacity="0.64"/><circle cx="115.08" cy="335.6" r="1.15" fill="#3e4b88" fill-opacity="0.64"/><circle cx="121.37" cy="343.3" r="1.15" fill="#3e4b89" fill-opacity="0.64"/><circle cx="116.88" cy="340.92" r="1.15" fill="#3e4b89" fill-opacity="0.64"/><circle cx="106.52" cy="301.07" r="1.15" fill="#3e4b89" fill-opacity="0.64"/><circle cx="116.14" cy="335.22" r="1.15" fill="#3e4b89" fill-opacity="0.64"/><circle cx="114.94" cy="343" r="1.15" fill="#3e4b89" fill-opacity="0.64"/><circle cx="114.76" cy="313.95" r="1.15" fill="#3e4c89" fill-opacity="0.64"/><circle cx="107.1" cy="301.26" r="1.15" fill="#3e4c89" fill-opacity="0.64"/><circle cx="106.5" cy="323.84" r="1.15" fill="#3e4c89" fill-opacity="0.64"/><circle cx="118.12" cy="332.58" r="1.15" fill="#3e4c89" fill-opacity="0.64"/><circle cx="118.03" cy="323.62" r="1.15" fill="#3e4c89" fill-opacity="0.64"/><circle cx="113.7" cy="311.01" r="1.15" fill="#3d4c89" fill-opacity="0.64"/><circle cx="106.5" cy="323.68" r="1.15" fill="#3d4c89" fill-opacity="0.65"/><circle cx="105.94" cy="318.65" r="1.15" fill="#3d4d89" fill-opacity="0.65"/><circle cx="106.28" cy="301.34" r="1.15" fill="#3d4d89" fill-opacity="0.65"/><circle cx="119.41" cy="341.17" r="1.15" fill="#3d4d89" fill-opacity="0.65"/><circle cx="104.79" cy="304.32" r="1.15" fill="#3d4d89" fill-opacity="0.65"/><circle cx="114.82" cy="314.42" r="1.15" fill="#3d4d89" fill-opacity="0.65"/><circle cx="108.17" cy="302.14" r="1.15" fill="#3d4d89" fill-opacity="0.65"/><circle cx="121.12" cy="343" r="1.15" fill="#3d4d89" fill-opacity="0.65"/><circle cx="116.12" cy="317.96" r="1.15" fill="#3d4d89" fill-opacity="0.65"/><circle cx="121.1" cy="343" r="1.15" fill="#3d4d89" fill-opacity="0.65"/><circle cx="118.49" cy="328.18" r="1.15" fill="#3d4d89" fill-opacity="0.65"/><circle cx="106.48" cy="322.97" r="1.15" fill="#3d4d89" fill-opacity="0.65"/><circle cx="106.35" cy="301.4" r="1.15" fill="#3d4d89" fill-opacity="0.65"/><circle cx="108.16" cy="329.25" r="1.15" fill="#3d4e89" fill-opacity="0.65"/><circle cx="106.37" cy="321.22" r="1.15" fill="#3d4e89" fill-opacity="0.65"/><circle cx="106.63" cy="301.42" r="1.15" fill="#3d4e89" fill-opacity="0.66"/><circle cx="118.4" cy="331.23" r="1.15" fill="#3d4e89" fill-opacity="0.66"/><circle cx="120.51" cy="344.53" r="1.15" fill="#3d4e89" fill-opacity="0.66"/><circle cx="104.84" cy="304.49" r="1.15" fill="#3c4e89" fill-opacity="0.66"/><circle cx="114.8" cy="335.24" r="1.15" fill="#3c4e89" fill-opacity="0.66"/><circle cx="120.96" cy="343" r="1.15" fill="#3c4e89" fill-opacity="0.66"/><circle cx="113.27" cy="334.78" r="1.15" fill="#3c4e89" fill-opacity="0.66"/><circle cx="115.39" cy="343" r="1.15" fill="#3c4f89" fill-opacity="0.66"/><circle cx="116.05" cy="344.48" r="1.15" fill="#3c4f89" fill-opacity="0.66"/><circle cx="111.8" cy="307.59" r="1.15" fill="#3c4f89" fill-opacity="0.66"/><circle cx="115.95" cy="334.82" r="1.15" fill="#3c4f8a" fill-opacity="0.66"/><circle cx="113.79" cy="311.56" r="1.15" fill="#3c4f8a" fill-opacity="0.66"/><circle cx="111.93" cy="307.93" r="1.15" fill="#3c508a" fill-opacity="0.66"/><circle cx="106.77" cy="324.83" r="1.15" fill="#3c508a" fill-opacity="0.67"/><circle cx="105.18" cy="303.3" r="1.15" fill="#3c508a" fill-opacity="0.67"/><circle cx="117.16" cy="320" r="1.15" fill="#3c508a" fill-opacity="0.67"/><circle cx="118.65" cy="341.32" r="1.15" fill="#3c508a" fill-opacity="0.67"/><circle cx="117.41" cy="320.63" r="1.15" fill="#3b508a" fill-opacity="0.67"/><circle cx="106.45" cy="320.77" r="1.15" fill="#3b518a" fill-opacity="0.67"/><circle cx="109.71" cy="331.3" r="1.15" fill="#3b518a" fill-opacity="0.67"/><circle cx="120.68" cy="343" r="1.15" fill="#3b518a" fill-opacity="0.67"/><circle cx="107.5" cy="327.5" r="1.15" fill="#3b518a" fill-opacity="0.67"/><circle cx="112.07" cy="308.48" r="1.15" fill="#3b528a" fill-opacity="0.68"/><circle cx="106.35" cy="319.67" r="1.15" fill="#3b528a" fill-opacity="0.68"/><circle cx="115.2" cy="334.83" r="1.15" fill="#3b528a" fill-opacity="0.68"/><circle cx="113.66" cy="334.68" r="1.15" fill="#3b528a" fill-opacity="0.68"/><circle cx="115.87" cy="343.3" r="1.15" fill="#3b528a" fill-opacity="0.68"/><circle cx="105.42" cy="308.39" r="1.15" fill="#3b528a" fill-opacity="0.68"/><circle cx="106.01" cy="317.77" r="1.15" fill="#3b528a" fill-opacity="0.68"/><circle cx="112.75" cy="334.2" r="1.15" fill="#3b528a" fill-opacity="0.68"/><circle cx="120.53" cy="343" r="1.15" fill="#3b528a" fill-opacity="0.68"/><circle cx="115.91" cy="343.11" r="1.15" fill="#3b528a" fill-opacity="0.68"/><circle cx="120.5" cy="343" r="1.15" fill="#3b528a" fill-opacity="0.68"/><circle cx="115.98" cy="343" r="1.15" fill="#3b538a" fill-opacity="0.68"/><circle cx="116.55" cy="344.28" r="1.15" fill="#3a538a" fill-opacity="0.68"/><circle cx="109.32" cy="303.91" r="1.15" fill="#3a538a" fill-opacity="0.68"/><circle cx="107.03" cy="302.02" r="1.15" fill="#3a538a" fill-opacity="0.68"/><circle cx="108.47" cy="329.41" r="1.15" fill="#3a538a" fill-opacity="0.68"/><circle cx="120.27" cy="342.65" r="1.15" fill="#3a538a" fill-opacity="0.68"/><circle cx="116.04" cy="343.2" r="1.15" fill="#3a538a" fill-opacity="0.68"/><circle cx="108.49" cy="329.43" r="1.15" fill="#3a538a" fill-opacity="0.68"/><circle cx="110.59" cy="332.17" r="1.15" fill="#3a538a" fill-opacity="0.68"/><circle cx="105.14" cy="306.64" r="1.15" fill="#3a538a" fill-opacity="0.68"/><circle cx="119.44" cy="344.63" r="1.15" fill="#3a538a" fill-opacity="0.68"/><circle cx="105.25" cy="303.86" r="1.15" fill="#3a548a" fill-opacity="0.68"/><circle cx="110.58" cy="305.74" r="1.15" fill="#3a548a" fill-opacity="0.68"/><circle cx="112.68" cy="309.81" r="1.15" fill="#3a548a" fill-opacity="0.69"/><circle cx="116.15" cy="343" r="1.15" fill="#3a548a" fill-opacity="0.69"/><circle cx="107.67" cy="327.7" r="1.15" fill="#3a548a" fill-opacity="0.69"/><circle cx="117.31" cy="320.69" r="1.15" fill="#3a548a" fill-opacity="0.69"/><circle cx="108.65" cy="303.22" r="1.15" fill="#3a548a" fill-opacity="0.69"/><circle cx="106.47" cy="319.96" r="1.15" fill="#3a548b" fill-opacity="0.69"/><circle cx="105.17" cy="306.65" r="1.15" fill="#3a548b" fill-opacity="0.69"/><circle cx="105.76" cy="315.93" r="1.15" fill="#3a548b" fill-opacity="0.69"/><circle cx="117.56" cy="321.67" r="1.15" fill="#3a548b" fill-opacity="0.69"/><circle cx="105.45" cy="308.09" r="1.15" fill="#3a548b" fill-opacity="0.69"/><circle cx="116.29" cy="343" r="1.15" fill="#3a548b" fill-opacity="0.69"/><circle cx="113.75" cy="334.52" r="1.15" fill="#3a548b" fill-opacity="0.69"/><circle cx="111.21" cy="306.98" r="1.15" fill="#3a548b" fill-opacity="0.69"/><circle cx="105.35" cy="303.75" r="1.15" fill="#3a548b" fill-opacity="0.69"/><circle cx="117.45" cy="321.26" r="1.15" fill="#3a558b" fill-opacity="0.69"/><circle cx="105.72" cy="315.18" r="1.15" fill="#3a558b" fill-opacity="0.69"/><circle cx="105.85" cy="311.85" r="1.15" fill="#3a558b" fill-opacity="0.69"/><circle cx="119.77" cy="344.21" r="1.15" fill="#3a558b" fill-opacity="0.69"/><circle cx="117.72" cy="344.58" r="1.15" fill="#39558b" fill-opacity="0.69"/><circle cx="115.64" cy="317.74" r="1.15" fill="#39558b" fill-opacity="0.69"/><circle cx="105.83" cy="312.54" r="1.15" fill="#39568b" fill-opacity="0.70"/><circle cx="105.36" cy="304.02" r="1.15" fill="#39568b" fill-opacity="0.70"/><circle cx="117.22" cy="320.64" r="1.15" fill="#39568b" fill-opacity="0.70"/><circle cx="105.34" cy="304.26" r="1.15" fill="#39568b" fill-opacity="0.70"/><circle cx="108.74" cy="303.54" r="1.15" fill="#39568b" fill-opacity="0.70"/><circle cx="117.41" cy="344.18" r="1.15" fill="#39578b" fill-opacity="0.70"/><circle cx="117.88" cy="344.29" r="1.15" fill="#38578b" fill-opacity="0.71"/><circle cx="113.87" cy="312.57" r="1.15" fill="#38588b" fill-opacity="0.71"/><circle cx="115.07" cy="316.83" r="1.15" fill="#38588b" fill-opacity="0.71"/><circle cx="118.98" cy="342.3" r="1.15" fill="#38588b" fill-opacity="0.71"/><circle cx="116.94" cy="343" r="1.15" fill="#38588b" fill-opacity="0.71"/><circle cx="114.55" cy="315.23" r="1.15" fill="#38588b" fill-opacity="0.71"/><circle cx="118.08" cy="328.86" r="1.15" fill="#38588b" fill-opacity="0.71"/><circle cx="105.49" cy="304.11" r="1.15" fill="#38588b" fill-opacity="0.71"/><circle cx="119.63" cy="343" r="1.15" fill="#38588b" fill-opacity="0.71"/><circle cx="112.28" cy="333.43" r="1.15" fill="#38588c" fill-opacity="0.71"/><circle cx="117.11" cy="343" r="1.15" fill="#38598c" fill-opacity="0.71"/><circle cx="118.49" cy="344.19" r="1.15" fill="#38598c" fill-opacity="0.71"/><circle cx="119.51" cy="343" r="1.15" fill="#38598c" fill-opacity="0.71"/><circle cx="117.23" cy="343.58" r="1.15" fill="#38598c" fill-opacity="0.71"/><circle cx="111.01" cy="307.05" r="1.15" fill="#38598c" fill-opacity="0.71"/><circle cx="107.21" cy="302.68" r="1.15" fill="#38598c" fill-opacity="0.71"/><circle cx="105.69" cy="308.03" r="1.15" fill="#38598c" fill-opacity="0.71"/><circle cx="117.8" cy="326.79" r="1.15" fill="#37598c" fill-opacity="0.71"/><circle cx="114.3" cy="314.33" r="1.15" fill="#37598c" fill-opacity="0.71"/><circle cx="119.38" cy="343.1" r="1.15" fill="#375a8c" fill-opacity="0.72"/><circle cx="119.3" cy="343" r="1.15" fill="#375a8c" fill-opacity="0.72"/><circle cx="111.69" cy="332.85" r="1.15" fill="#375a8c" fill-opacity="0.72"/><circle cx="119.19" cy="343" r="1.15" fill="#375a8c" fill-opacity="0.72"/><circle cx="107.23" cy="302.79" r="1.15" fill="#375a8c" fill-opacity="0.72"/><circle cx="117.58" cy="331.71" r="1.15" fill="#375a8c" fill-opacity="0.72"/><circle cx="119.08" cy="343.29" r="1.15" fill="#375b8c" fill-opacity="0.72"/><circle cx="118.97" cy="343" r="1.15" fill="#375b8c" fill-opacity="0.72"/><circle cx="118.94" cy="343" r="1.15" fill="#375b8c" fill-opacity="0.72"/><circle cx="106.08" cy="312.11" r="1.15" fill="#375b8c" fill-opacity="0.72"/><circle cx="118.87" cy="343" r="1.15" fill="#375b8c" fill-opacity="0.72"/><circle cx="106.34" cy="317.5" r="1.15" fill="#375b8c" fill-opacity="0.72"/><circle cx="117.93" cy="343" r="1.15" fill="#375b8c" fill-opacity="0.72"/><circle cx="113.41" cy="311.84" r="1.15" fill="#375b8c" fill-opacity="0.72"/><circle cx="117.93" cy="343.42" r="1.15" fill="#375b8c" fill-opacity="0.72"/><circle cx="118.72" cy="343" r="1.15" fill="#375b8c" fill-opacity="0.72"/><circle cx="118.26" cy="343" r="1.15" fill="#375b8c" fill-opacity="0.72"/><circle cx="109.15" cy="304.39" r="1.15" fill="#375b8c" fill-opacity="0.72"/><circle cx="106.17" cy="310.03" r="1.15" fill="#365c8c" fill-opacity="0.73"/><circle cx="105.52" cy="305.31" r="1.15" fill="#365c8c" fill-opacity="0.73"/><circle cx="113.3" cy="333.82" r="1.15" fill="#365c8c" fill-opacity="0.73"/><circle cx="105.93" cy="308.53" r="1.15" fill="#365c8c" fill-opacity="0.73"/><circle cx="109.27" cy="304.59" r="1.15" fill="#365c8c" fill-opacity="0.73"/><circle cx="107.09" cy="302.97" r="1.15" fill="#365c8c" fill-opacity="0.73"/><circle cx="113.55" cy="312.3" r="1.15" fill="#365d8c" fill-opacity="0.73"/><circle cx="116.38" cy="333.31" r="1.15" fill="#365d8c" fill-opacity="0.73"/><circle cx="106.03" cy="314.66" r="1.15" fill="#365d8d" fill-opacity="0.73"/><circle cx="115.02" cy="334.01" r="1.15" fill="#365d8d" fill-opacity="0.73"/><circle cx="116.98" cy="332.54" r="1.15" fill="#365d8d" fill-opacity="0.73"/><circle cx="110" cy="330.9" r="1.15" fill="#365d8d" fill-opacity="0.73"/><circle cx="117.47" cy="324.27" r="1.15" fill="#365e8d" fill-opacity="0.74"/><circle cx="111.15" cy="308" r="1.15" fill="#355f8d" fill-opacity="0.74"/><circle cx="112.77" cy="310.96" r="1.15" fill="#355f8d" fill-opacity="0.74"/><circle cx="110.56" cy="306.94" r="1.15" fill="#35608d" fill-opacity="0.75"/><circle cx="106.19" cy="303.93" r="1.15" fill="#35608d" fill-opacity="0.75"/><circle cx="106.54" cy="317.41" r="1.15" fill="#35608d" fill-opacity="0.75"/><circle cx="112.2" cy="332.86" r="1.15" fill="#34608d" fill-opacity="0.75"/><circle cx="107.98" cy="303.75" r="1.15" fill="#34608d" fill-opacity="0.75"/><circle cx="107.89" cy="327.09" r="1.15" fill="#34618d" fill-opacity="0.75"/><circle cx="117.69" cy="328.35" r="1.15" fill="#34618d" fill-opacity="0.75"/><circle cx="106.03" cy="307.84" r="1.15" fill="#34618d" fill-opacity="0.75"/><circle cx="117.67" cy="328.28" r="1.15" fill="#34618d" fill-opacity="0.75"/><circle cx="106.52" cy="303.84" r="1.15" fill="#34628d" fill-opacity="0.76"/><circle cx="113.81" cy="313.77" r="1.15" fill="#34628d" fill-opacity="0.76"/><circle cx="108.99" cy="329.27" r="1.15" fill="#33638d" fill-opacity="0.76"/><circle cx="106.68" cy="317.55" r="1.15" fill="#33638d" fill-opacity="0.76"/><circle cx="107.08" cy="303.72" r="1.15" fill="#33638d" fill-opacity="0.76"/><circle cx="113.86" cy="314.11" r="1.15" fill="#33638d" fill-opacity="0.76"/><circle cx="108" cy="327.19" r="1.15" fill="#33638d" fill-opacity="0.76"/><circle cx="107.21" cy="322.38" r="1.15" fill="#33638d" fill-opacity="0.77"/><circle cx="111.67" cy="309.56" r="1.15" fill="#33648d" fill-opacity="0.77"/><circle cx="106.72" cy="317.52" r="1.15" fill="#33648d" fill-opacity="0.77"/><circle cx="106.62" cy="316.95" r="1.15" fill="#33648d" fill-opacity="0.77"/><circle cx="107.34" cy="324.01" r="1.15" fill="#33648d" fill-opacity="0.77"/><circle cx="111.56" cy="309.5" r="1.15" fill="#32658d" fill-opacity="0.77"/><circle cx="111.31" cy="309.1" r="1.15" fill="#32658d" fill-opacity="0.77"/><circle cx="108.09" cy="304.28" r="1.15" fill="#32658d" fill-opacity="0.77"/><circle cx="106.04" cy="306.21" r="1.15" fill="#32658d" fill-opacity="0.77"/><circle cx="107.4" cy="324.15" r="1.15" fill="#32658d" fill-opacity="0.78"/><circle cx="117.49" cy="329.8" r="1.15" fill="#32668d" fill-opacity="0.78"/><circle cx="108.65" cy="304.79" r="1.15" fill="#32668d" fill-opacity="0.78"/><circle cx="106.29" cy="307.81" r="1.15" fill="#32668d" fill-opacity="0.78"/><circle cx="109.72" cy="306.14" r="1.15" fill="#32668d" fill-opacity="0.78"/><circle cx="117.23" cy="324.94" r="1.15" fill="#32668d" fill-opacity="0.78"/><circle cx="113.23" cy="312.55" r="1.15" fill="#32668d" fill-opacity="0.78"/><circle cx="109.69" cy="306.12" r="1.15" fill="#32668d" fill-opacity="0.78"/><circle cx="117.06" cy="322.17" r="1.15" fill="#32668d" fill-opacity="0.78"/><circle cx="107.89" cy="326.52" r="1.15" fill="#32678d" fill-opacity="0.78"/><circle cx="108.29" cy="327.65" r="1.15" fill="#32678d" fill-opacity="0.78"/><circle cx="116.38" cy="332.41" r="1.15" fill="#31678d" fill-opacity="0.78"/><circle cx="117.04" cy="322.16" r="1.15" fill="#31678d" fill-opacity="0.79"/><circle cx="113.75" cy="314.46" r="1.15" fill="#31688d" fill-opacity="0.79"/><circle cx="113.83" cy="314.86" r="1.15" fill="#31688d" fill-opacity="0.79"/><circle cx="115.33" cy="318.49" r="1.15" fill="#31688d" fill-opacity="0.79"/><circle cx="107.01" cy="318.09" r="1.15" fill="#31688d" fill-opacity="0.79"/><circle cx="109.2" cy="305.66" r="1.15" fill="#31688d" fill-opacity="0.79"/><circle cx="116.52" cy="332.1" r="1.15" fill="#31698d" fill-opacity="0.79"/><circle cx="110.85" cy="308.64" r="1.15" fill="#31698d" fill-opacity="0.79"/><circle cx="113.39" cy="333.05" r="1.15" fill="#31698d" fill-opacity="0.79"/><circle cx="111.79" cy="310.27" r="1.15" fill="#31698d" fill-opacity="0.79"/><circle cx="107.01" cy="317.98" r="1.15" fill="#31698d" fill-opacity="0.79"/><circle cx="106.45" cy="307.69" r="1.15" fill="#31698d" fill-opacity="0.79"/><circle cx="109.95" cy="306.89" r="1.15" fill="#31698d" fill-opacity="0.79"/><circle cx="106.53" cy="305.13" r="1.15" fill="#30698d" fill-opacity="0.80"/><circle cx="106.5" cy="305.22" r="1.15" fill="#30698d" fill-opacity="0.80"/><circle cx="110.43" cy="307.95" r="1.15" fill="#306a8d" fill-opacity="0.80"/><circle cx="107.22" cy="319.13" r="1.15" fill="#306a8d" fill-opacity="0.80"/><circle cx="110.05" cy="307.23" r="1.15" fill="#306a8d" fill-opacity="0.80"/><circle cx="106.65" cy="305.13" r="1.15" fill="#306a8d" fill-opacity="0.80"/><circle cx="112.93" cy="312.32" r="1.15" fill="#306a8d" fill-opacity="0.80"/><circle cx="108.15" cy="304.87" r="1.15" fill="#306a8d" fill-opacity="0.80"/><circle cx="109.95" cy="307.1" r="1.15" fill="#306b8d" fill-opacity="0.80"/><circle cx="106.72" cy="305.1" r="1.15" fill="#306b8d" fill-opacity="0.80"/><circle cx="114.2" cy="333.09" r="1.15" fill="#306b8d" fill-opacity="0.80"/><circle cx="106.65" cy="313.64" r="1.15" fill="#306b8d" fill-opacity="0.81"/><circle cx="108.08" cy="304.95" r="1.15" fill="#2f6c8e" fill-opacity="0.81"/><circle cx="112.37" cy="311.44" r="1.15" fill="#2f6c8e" fill-opacity="0.81"/><circle cx="107.19" cy="304.89" r="1.15" fill="#2f6c8e" fill-opacity="0.81"/><circle cx="115.96" cy="319.68" r="1.15" fill="#2f6c8e" fill-opacity="0.81"/><circle cx="116.94" cy="330.88" r="1.15" fill="#2f6c8e" fill-opacity="0.81"/><circle cx="107.41" cy="320.44" r="1.15" fill="#2f6c8e" fill-opacity="0.81"/><circle cx="108.1" cy="305.06" r="1.15" fill="#2f6c8e" fill-opacity="0.81"/><circle cx="106.72" cy="307.8" r="1.15" fill="#2f6d8e" fill-opacity="0.81"/><circle cx="106.72" cy="313.6" r="1.15" fill="#2f6d8e" fill-opacity="0.81"/><circle cx="111.92" cy="310.88" r="1.15" fill="#2f6e8e" fill-opacity="0.82"/><circle cx="113.05" cy="332.6" r="1.15" fill="#2e6e8e" fill-opacity="0.82"/><circle cx="114.78" cy="318.03" r="1.15" fill="#2e6e8e" fill-opacity="0.82"/><circle cx="112.19" cy="311.33" r="1.15" fill="#2e6e8e" fill-opacity="0.82"/><circle cx="112.59" cy="332.33" r="1.15" fill="#2e6e8e" fill-opacity="0.82"/><circle cx="113.62" cy="315.11" r="1.15" fill="#2e6e8e" fill-opacity="0.82"/><circle cx="114.59" cy="332.89" r="1.15" fill="#2e6e8e" fill-opacity="0.82"/><circle cx="115.7" cy="332.45" r="1.15" fill="#2e6e8e" fill-opacity="0.82"/><circle cx="106.92" cy="308.19" r="1.15" fill="#2e6f8e" fill-opacity="0.82"/><circle cx="115.49" cy="332.57" r="1.15" fill="#2e6f8e" fill-opacity="0.82"/><circle cx="116.18" cy="331.98" r="1.15" fill="#2e6f8e" fill-opacity="0.82"/><circle cx="115.59" cy="332.49" r="1.15" fill="#2e6f8e" fill-opacity="0.82"/><circle cx="107.63" cy="323.42" r="1.15" fill="#2e6f8e" fill-opacity="0.82"/><circle cx="114.78" cy="318.1" r="1.15" fill="#2e6f8e" fill-opacity="0.83"/><circle cx="107.95" cy="305.34" r="1.15" fill="#2e6f8e" fill-opacity="0.83"/><circle cx="113.89" cy="316.4" r="1.15" fill="#2e708e" fill-opacity="0.83"/><circle cx="106.83" cy="306.65" r="1.15" fill="#2e708e" fill-opacity="0.83"/><circle cx="117.11" cy="328.13" r="1.15" fill="#2e708e" fill-opacity="0.83"/><circle cx="113.53" cy="315.07" r="1.15" fill="#2e708e" fill-opacity="0.83"/><circle cx="116.79" cy="322.28" r="1.15" fill="#2d708e" fill-opacity="0.83"/><circle cx="116.57" cy="321.31" r="1.15" fill="#2d708e" fill-opacity="0.83"/><circle cx="109.59" cy="307.26" r="1.15" fill="#2d708e" fill-opacity="0.83"/><circle cx="113.17" cy="332.5" r="1.15" fill="#2d718e" fill-opacity="0.83"/><circle cx="108.79" cy="306.23" r="1.15" fill="#2d718e" fill-opacity="0.84"/><circle cx="107.6" cy="320.4" r="1.15" fill="#2d728e" fill-opacity="0.84"/><circle cx="107.03" cy="307.23" r="1.15" fill="#2d728e" fill-opacity="0.84"/><circle cx="107.25" cy="311.25" r="1.15" fill="#2d728e" fill-opacity="0.84"/><circle cx="116.94" cy="329.85" r="1.15" fill="#2d728e" fill-opacity="0.84"/><circle cx="115.89" cy="332" r="1.15" fill="#2c728e" fill-opacity="0.84"/><circle cx="114.97" cy="318.55" r="1.15" fill="#2c728e" fill-opacity="0.84"/><circle cx="106.98" cy="313.25" r="1.15" fill="#2c728e" fill-opacity="0.84"/><circle cx="107.3" cy="317.11" r="1.15" fill="#2c728e" fill-opacity="0.84"/><circle cx="108.8" cy="306.46" r="1.15" fill="#2c738e" fill-opacity="0.84"/><circle cx="113.18" cy="332.36" r="1.15" fill="#2c738e" fill-opacity="0.84"/><circle cx="116.41" cy="321.11" r="1.15" fill="#2c738e" fill-opacity="0.84"/><circle cx="107.13" cy="315.61" r="1.15" fill="#2c748e" fill-opacity="0.85"/><circle cx="107.27" cy="307.41" r="1.15" fill="#2c748e" fill-opacity="0.85"/><circle cx="115.31" cy="332.27" r="1.15" fill="#2b758e" fill-opacity="0.85"/><circle cx="113.79" cy="332.46" r="1.15" fill="#2b758e" fill-opacity="0.85"/><circle cx="107.17" cy="312.57" r="1.15" fill="#2b758e" fill-opacity="0.85"/><circle cx="107.11" cy="313.45" r="1.15" fill="#2b768e" fill-opacity="0.86"/><circle cx="108.05" cy="306.39" r="1.15" fill="#2b768e" fill-opacity="0.86"/><circle cx="114.36" cy="317.88" r="1.15" fill="#2b768e" fill-opacity="0.86"/><circle cx="107.49" cy="307.58" r="1.15" fill="#2b768e" fill-opacity="0.86"/><circle cx="107.2" cy="312.74" r="1.15" fill="#2b768e" fill-opacity="0.86"/><circle cx="109.82" cy="308.75" r="1.15" fill="#2b768e" fill-opacity="0.86"/><circle cx="107.75" cy="306.63" r="1.15" fill="#2b768e" fill-opacity="0.86"/><circle cx="108.23" cy="326.06" r="1.15" fill="#2b778e" fill-opacity="0.86"/><circle cx="107.73" cy="309.51" r="1.15" fill="#2b778e" fill-opacity="0.86"/><circle cx="107.17" cy="313.21" r="1.15" fill="#2b778e" fill-opacity="0.86"/><circle cx="108.55" cy="306.95" r="1.15" fill="#2a778e" fill-opacity="0.86"/><circle cx="107.66" cy="307.09" r="1.15" fill="#2a778e" fill-opacity="0.86"/><circle cx="107.71" cy="318.85" r="1.15" fill="#2a778e" fill-opacity="0.86"/><circle cx="109.27" cy="328.49" r="1.15" fill="#2a778e" fill-opacity="0.86"/><circle cx="107.75" cy="307.37" r="1.15" fill="#2a788e" fill-opacity="0.87"/><circle cx="116.59" cy="330.27" r="1.15" fill="#2a788e" fill-opacity="0.87"/><circle cx="107.75" cy="307.61" r="1.15" fill="#2a788e" fill-opacity="0.87"/><circle cx="107.78" cy="319.63" r="1.15" fill="#2a788e" fill-opacity="0.87"/><circle cx="107.85" cy="308.51" r="1.15" fill="#2a788e" fill-opacity="0.87"/><circle cx="108.07" cy="325.07" r="1.15" fill="#2a788e" fill-opacity="0.87"/><circle cx="107.39" cy="316" r="1.15" fill="#2a788e" fill-opacity="0.87"/><circle cx="115.11" cy="332.09" r="1.15" fill="#2a798e" fill-opacity="0.87"/><circle cx="107.45" cy="312.08" r="1.15" fill="#2a798e" fill-opacity="0.87"/><circle cx="107.98" cy="308.71" r="1.15" fill="#2a798e" fill-opacity="0.87"/><circle cx="107.23" cy="314.19" r="1.15" fill="#2a798e" fill-opacity="0.87"/><circle cx="113.4" cy="332.11" r="1.15" fill="#2a798e" fill-opacity="0.87"/><circle cx="108.17" cy="307.5" r="1.15" fill="#2a798e" fill-opacity="0.87"/><circle cx="108.63" cy="307.68" r="1.15" fill="#2a798e" fill-opacity="0.87"/><circle cx="108.8" cy="307.98" r="1.15" fill="#297a8e" fill-opacity="0.87"/><circle cx="116.71" cy="329.02" r="1.15" fill="#297a8e" fill-opacity="0.88"/><circle cx="108.69" cy="308.23" r="1.15" fill="#297b8e" fill-opacity="0.88"/><circle cx="108.29" cy="308.6" r="1.15" fill="#297b8e" fill-opacity="0.88"/><circle cx="107.31" cy="314.08" r="1.15" fill="#297b8e" fill-opacity="0.88"/><circle cx="112.41" cy="312.92" r="1.15" fill="#297b8e" fill-opacity="0.88"/><circle cx="107.7" cy="311.59" r="1.15" fill="#297b8e" fill-opacity="0.88"/><circle cx="108.58" cy="308.75" r="1.15" fill="#297b8e" fill-opacity="0.88"/><circle cx="115.35" cy="331.79" r="1.15" fill="#297b8e" fill-opacity="0.88"/><circle cx="112.89" cy="314.43" r="1.15" fill="#297c8e" fill-opacity="0.88"/><circle cx="112.37" cy="312.94" r="1.15" fill="#297c8e" fill-opacity="0.89"/><circle cx="116.67" cy="328.02" r="1.15" fill="#287d8e" fill-opacity="0.89"/><circle cx="108.02" cy="310.79" r="1.15" fill="#287d8e" fill-opacity="0.89"/><circle cx="115.83" cy="331.25" r="1.15" fill="#287d8e" fill-opacity="0.89"/><circle cx="116.04" cy="320.92" r="1.15" fill="#287d8e" fill-opacity="0.89"/><circle cx="109.85" cy="309.97" r="1.15" fill="#287e8e" fill-opacity="0.89"/><circle cx="112.68" cy="314.02" r="1.15" fill="#287e8e" fill-opacity="0.89"/><circle cx="107.58" cy="315.63" r="1.15" fill="#287e8e" fill-opacity="0.89"/><circle cx="107.86" cy="311.59" r="1.15" fill="#287e8e" fill-opacity="0.89"/><circle cx="108.81" cy="309.69" r="1.15" fill="#287e8d" fill-opacity="0.90"/><circle cx="116.15" cy="330.55" r="1.15" fill="#287f8d" fill-opacity="0.90"/><circle cx="109.84" cy="310.12" r="1.15" fill="#287f8d" fill-opacity="0.90"/><circle cx="108.04" cy="320.24" r="1.15" fill="#277f8d" fill-opacity="0.90"/><circle cx="109.79" cy="310.17" r="1.15" fill="#277f8d" fill-opacity="0.90"/><circle cx="112.03" cy="331.04" r="1.15" fill="#27808d" fill-opacity="0.90"/><circle cx="112.32" cy="313.27" r="1.15" fill="#27808d" fill-opacity="0.90"/><circle cx="108.45" cy="310.5" r="1.15" fill="#27808d" fill-opacity="0.90"/><circle cx="113.31" cy="331.74" r="1.15" fill="#27808d" fill-opacity="0.90"/><circle cx="116.55" cy="327.18" r="1.15" fill="#27808d" fill-opacity="0.90"/><circle cx="112.57" cy="314.06" r="1.15" fill="#27808d" fill-opacity="0.91"/><circle cx="113.01" cy="315.99" r="1.15" fill="#27818d" fill-opacity="0.91"/><circle cx="108.63" cy="310.42" r="1.15" fill="#27818d" fill-opacity="0.91"/><circle cx="112.17" cy="313.06" r="1.15" fill="#27818d" fill-opacity="0.91"/><circle cx="107.62" cy="313.62" r="1.15" fill="#27818d" fill-opacity="0.91"/><circle cx="109.16" cy="310.24" r="1.15" fill="#27818d" fill-opacity="0.91"/><circle cx="108.14" cy="323.08" r="1.15" fill="#26828d" fill-opacity="0.91"/><circle cx="116.49" cy="327.71" r="1.15" fill="#26828d" fill-opacity="0.91"/><circle cx="108.14" cy="319.54" r="1.15" fill="#26828d" fill-opacity="0.91"/><circle cx="111.15" cy="330.21" r="1.15" fill="#26828d" fill-opacity="0.92"/><circle cx="108.83" cy="310.54" r="1.15" fill="#26828d" fill-opacity="0.92"/><circle cx="109.48" cy="310.51" r="1.15" fill="#26838d" fill-opacity="0.92"/><circle cx="107.73" cy="313.54" r="1.15" fill="#26838d" fill-opacity="0.92"/><circle cx="111.96" cy="312.92" r="1.15" fill="#26838d" fill-opacity="0.92"/><circle cx="115.43" cy="331.13" r="1.15" fill="#26848d" fill-opacity="0.92"/><circle cx="109.37" cy="327.92" r="1.15" fill="#25858d" fill-opacity="0.93"/><circle cx="110.86" cy="329.8" r="1.15" fill="#25868d" fill-opacity="0.93"/><circle cx="108.27" cy="319.17" r="1.15" fill="#25868d" fill-opacity="0.93"/><circle cx="113.17" cy="317.09" r="1.15" fill="#25868d" fill-opacity="0.93"/><circle cx="115.92" cy="330.14" r="1.15" fill="#25878d" fill-opacity="0.94"/><circle cx="108.55" cy="311.66" r="1.15" fill="#24878d" fill-opacity="0.94"/><circle cx="107.91" cy="313.97" r="1.15" fill="#24878d" fill-opacity="0.94"/><circle cx="109.88" cy="328.59" r="1.15" fill="#24888d" fill-opacity="0.94"/><circle cx="108.05" cy="315.57" r="1.15" fill="#24888d" fill-opacity="0.94"/><circle cx="116.29" cy="324.32" r="1.15" fill="#24888d" fill-opacity="0.94"/><circle cx="108.01" cy="315.24" r="1.15" fill="#24888d" fill-opacity="0.94"/><circle cx="115.58" cy="330.61" r="1.15" fill="#24888d" fill-opacity="0.94"/><circle cx="116.28" cy="326.23" r="1.15" fill="#24898d" fill-opacity="0.94"/><circle cx="115.89" cy="330.02" r="1.15" fill="#24898d" fill-opacity="0.94"/><circle cx="109.52" cy="311.23" r="1.15" fill="#24898d" fill-opacity="0.94"/><circle cx="112.3" cy="314.71" r="1.15" fill="#24898d" fill-opacity="0.95"/><circle cx="108.46" cy="312.11" r="1.15" fill="#24898d" fill-opacity="0.95"/><circle cx="110.15" cy="311.45" r="1.15" fill="#24898d" fill-opacity="0.95"/><circle cx="115.12" cy="330.98" r="1.15" fill="#248a8d" fill-opacity="0.95"/><circle cx="108.35" cy="322.85" r="1.15" fill="#248a8d" fill-opacity="0.95"/><circle cx="108.42" cy="319.64" r="1.15" fill="#238a8d" fill-opacity="0.95"/><circle cx="108.78" cy="311.78" r="1.15" fill="#238a8d" fill-opacity="0.95"/><circle cx="111.45" cy="330.12" r="1.15" fill="#238a8d" fill-opacity="0.95"/><circle cx="108.31" cy="312.66" r="1.15" fill="#238a8d" fill-opacity="0.95"/><circle cx="112.57" cy="316.14" r="1.15" fill="#238a8d" fill-opacity="0.95"/><circle cx="108.45" cy="312.34" r="1.15" fill="#238b8d" fill-opacity="0.95"/><circle cx="115.91" cy="329.72" r="1.15" fill="#238b8c" fill-opacity="0.95"/><circle cx="111.67" cy="313.21" r="1.15" fill="#238b8c" fill-opacity="0.95"/><circle cx="115.44" cy="320.54" r="1.15" fill="#238b8c" fill-opacity="0.95"/><circle cx="108.42" cy="316.77" r="1.15" fill="#238b8c" fill-opacity="0.95"/><circle cx="110.41" cy="311.82" r="1.15" fill="#238b8c" fill-opacity="0.96"/><circle cx="116.2" cy="326.8" r="1.15" fill="#238b8c" fill-opacity="0.96"/><circle cx="108.8" cy="311.92" r="1.15" fill="#238b8c" fill-opacity="0.96"/><circle cx="116.2" cy="324.6" r="1.15" fill="#238c8c" fill-opacity="0.96"/><circle cx="109.74" cy="328.17" r="1.15" fill="#238c8c" fill-opacity="0.96"/><circle cx="112.18" cy="314.89" r="1.15" fill="#238c8c" fill-opacity="0.96"/><circle cx="110.92" cy="312.34" r="1.15" fill="#238c8c" fill-opacity="0.96"/><circle cx="113.23" cy="331.07" r="1.15" fill="#238d8c" fill-opacity="0.96"/><circle cx="108.78" cy="312.13" r="1.15" fill="#238d8c" fill-opacity="0.96"/><circle cx="111.21" cy="312.77" r="1.15" fill="#228d8c" fill-opacity="0.97"/><circle cx="108.34" cy="313.44" r="1.15" fill="#228e8c" fill-opacity="0.97"/><circle cx="108.41" cy="313.18" r="1.15" fill="#228e8c" fill-opacity="0.97"/><circle cx="110.78" cy="329.34" r="1.15" fill="#228e8c" fill-opacity="0.97"/><circle cx="110.26" cy="328.74" r="1.15" fill="#228f8c" fill-opacity="0.97"/><circle cx="113.7" cy="331.05" r="1.15" fill="#228f8c" fill-opacity="0.97"/><circle cx="112.64" cy="316.94" r="1.15" fill="#228f8c" fill-opacity="0.97"/><circle cx="115.91" cy="328.93" r="1.15" fill="#21908c" fill-opacity="0.98"/><circle cx="114.07" cy="331.01" r="1.15" fill="#21908c" fill-opacity="0.98"/><circle cx="108.61" cy="316.08" r="1.15" fill="#21908c" fill-opacity="0.98"/><circle cx="115.74" cy="321.6" r="1.15" fill="#21918c" fill-opacity="0.98"/><circle cx="108.78" cy="317.99" r="1.15" fill="#21918c" fill-opacity="0.98"/><circle cx="113.76" cy="318.63" r="1.15" fill="#21928c" fill-opacity="0.98"/><circle cx="108.54" cy="313.73" r="1.15" fill="#21928c" fill-opacity="0.98"/><circle cx="114.61" cy="330.75" r="1.15" fill="#21928c" fill-opacity="0.99"/><circle cx="116.03" cy="325.44" r="1.15" fill="#21928c" fill-opacity="0.99"/><circle cx="110.76" cy="312.8" r="1.15" fill="#21928c" fill-opacity="0.99"/><circle cx="108.58" cy="314.9" r="1.15" fill="#21928c" fill-opacity="0.99"/><circle cx="115.21" cy="330.23" r="1.15" fill="#21938b" fill-opacity="0.99"/><circle cx="112.05" cy="316.04" r="1.15" fill="#21938b" fill-opacity="0.99"/><circle cx="108.74" cy="319.53" r="1.15" fill="#21938b" fill-opacity="0.99"/><circle cx="115.9" cy="328.18" r="1.15" fill="#21938b" fill-opacity="0.99"/><circle cx="108.91" cy="317.12" r="1.15" fill="#21938b" fill-opacity="0.99"/><circle cx="112.07" cy="316.26" r="1.15" fill="#21948b" fill-opacity="0.99"/><circle cx="110.77" cy="312.96" r="1.15" fill="#21948b" fill-opacity="0.99"/><circle cx="108.61" cy="323.1" r="1.15" fill="#21948b" fill-opacity="0.99"/><circle cx="110.16" cy="312.57" r="1.15" fill="#21948b" fill-opacity="0.99"/><circle cx="113.53" cy="330.76" r="1.15" fill="#21948b" fill-opacity="1.00"/><circle cx="110.64" cy="312.96" r="1.15" fill="#21958b" fill-opacity="1.00"/><circle cx="110.47" cy="312.92" r="1.15" fill="#21958b" fill-opacity="1.00"/><circle cx="114.32" cy="319.48" r="1.15" fill="#21968a" fill-opacity="1.00"/><circle cx="108.91" cy="313.89" r="1.15" fill="#21968a" fill-opacity="1.00"/><circle cx="108.91" cy="315.05" r="1.15" fill="#21968a" fill-opacity="1.00"/><circle cx="115.19" cy="329.93" r="1.15" fill="#21968a" fill-opacity="1.00"/><circle cx="108.91" cy="313.92" r="1.15" fill="#21968a" fill-opacity="1.00"/><circle cx="111.92" cy="329.87" r="1.15" fill="#21988a" fill-opacity="1.00"/><circle cx="115.39" cy="321.25" r="1.15" fill="#21988a" fill-opacity="1.00"/><circle cx="108.73" cy="322.33" r="1.15" fill="#21988a" fill-opacity="1.00"/><circle cx="109.33" cy="313.37" r="1.15" fill="#21988a" fill-opacity="1.00"/><circle cx="115.42" cy="329.33" r="1.15" fill="#21988a" fill-opacity="1.00"/><circle cx="113.46" cy="330.53" r="1.15" fill="#219889" fill-opacity="1.00"/><circle cx="112.18" cy="317.15" r="1.15" fill="#219889" fill-opacity="1.00"/><circle cx="108.93" cy="319.71" r="1.15" fill="#219889" fill-opacity="1.00"/><circle cx="110.7" cy="313.58" r="1.15" fill="#219889" fill-opacity="1.00"/><circle cx="111.51" cy="315.72" r="1.15" fill="#219889" fill-opacity="1.00"/><circle cx="111.12" cy="314.41" r="1.15" fill="#219989" fill-opacity="1.00"/><circle cx="109.3" cy="316.33" r="1.15" fill="#219989" fill-opacity="1.00"/><circle cx="111.29" cy="315.16" r="1.15" fill="#219989" fill-opacity="1.00"/><circle cx="115.65" cy="328.28" r="1.15" fill="#219989" fill-opacity="1.00"/><circle cx="109.41" cy="313.68" r="1.15" fill="#219a89" fill-opacity="1.00"/><circle cx="110.84" cy="314.05" r="1.15" fill="#219a89" fill-opacity="1.00"/><circle cx="110.36" cy="328.35" r="1.15" fill="#219a89" fill-opacity="1.00"/><circle cx="115.27" cy="321.11" r="1.15" fill="#219a89" fill-opacity="1.00"/><circle cx="109.31" cy="314.97" r="1.15" fill="#219a89" fill-opacity="1.00"/><circle cx="111.1" cy="315.08" r="1.15" fill="#219b89" fill-opacity="1.00"/><circle cx="115.29" cy="329.3" r="1.15" fill="#219b89" fill-opacity="1.00"/><circle cx="114.99" cy="320.66" r="1.15" fill="#219b88" fill-opacity="1.00"/><circle cx="109.76" cy="327.38" r="1.15" fill="#219b88" fill-opacity="1.00"/><circle cx="109.05" cy="319.77" r="1.15" fill="#219b88" fill-opacity="1.00"/><circle cx="111.22" cy="329.17" r="1.15" fill="#219c88" fill-opacity="1.00"/><circle cx="111.14" cy="315.71" r="1.15" fill="#219c88" fill-opacity="1.00"/><circle cx="109.33" cy="326.34" r="1.15" fill="#219c88" fill-opacity="1.00"/><circle cx="110.45" cy="314.1" r="1.15" fill="#219c88" fill-opacity="1.00"/><circle cx="109.61" cy="314.69" r="1.15" fill="#229d88" fill-opacity="1.00"/><circle cx="109.74" cy="314.25" r="1.15" fill="#229d88" fill-opacity="1.00"/><circle cx="109.16" cy="319.45" r="1.15" fill="#229d88" fill-opacity="1.00"/><circle cx="109.77" cy="316.08" r="1.15" fill="#229d88" fill-opacity="1.00"/><circle cx="109.8" cy="316.53" r="1.15" fill="#229d88" fill-opacity="1.00"/><circle cx="109.89" cy="314.52" r="1.15" fill="#229d88" fill-opacity="1.00"/><circle cx="109.8" cy="316.82" r="1.15" fill="#229d88" fill-opacity="1.00"/><circle cx="111.37" cy="316.76" r="1.15" fill="#229e88" fill-opacity="1.00"/><circle cx="109.92" cy="315.64" r="1.15" fill="#229e88" fill-opacity="1.00"/><circle cx="115.66" cy="322.91" r="1.15" fill="#229e88" fill-opacity="1.00"/><circle cx="110.53" cy="315.42" r="1.15" fill="#229e87" fill-opacity="1.00"/><circle cx="110.26" cy="315.05" r="1.15" fill="#229e87" fill-opacity="1.00"/><circle cx="109.98" cy="316.58" r="1.15" fill="#229e87" fill-opacity="1.00"/><circle cx="111.69" cy="317.24" r="1.15" fill="#229f87" fill-opacity="1.00"/><circle cx="115.7" cy="323.82" r="1.15" fill="#229f87" fill-opacity="1.00"/><circle cx="109.38" cy="318.96" r="1.15" fill="#229f87" fill-opacity="1.00"/><circle cx="113.55" cy="330.16" r="1.15" fill="#229f87" fill-opacity="1.00"/><circle cx="111.52" cy="329.25" r="1.15" fill="#229f87" fill-opacity="1.00"/><circle cx="111.38" cy="317.05" r="1.15" fill="#22a087" fill-opacity="1.00"/><circle cx="111.67" cy="317.33" r="1.15" fill="#22a087" fill-opacity="1.00"/><circle cx="112.21" cy="329.67" r="1.15" fill="#22a087" fill-opacity="1.00"/><circle cx="114.54" cy="320.26" r="1.15" fill="#22a187" fill-opacity="1.00"/><circle cx="114.16" cy="329.99" r="1.15" fill="#22a187" fill-opacity="1.00"/><circle cx="110.43" cy="316.89" r="1.15" fill="#22a187" fill-opacity="1.00"/><circle cx="112.05" cy="329.53" r="1.15" fill="#22a186" fill-opacity="1.00"/><circle cx="115.31" cy="321.78" r="1.15" fill="#22a286" fill-opacity="1.00"/><circle cx="111.45" cy="329.09" r="1.15" fill="#22a286" fill-opacity="1.00"/><circle cx="111.12" cy="317.23" r="1.15" fill="#22a286" fill-opacity="1.00"/><circle cx="109.93" cy="317.9" r="1.15" fill="#22a286" fill-opacity="1.00"/><circle cx="110.61" cy="317.21" r="1.15" fill="#22a386" fill-opacity="1.00"/><circle cx="109.07" cy="321.82" r="1.15" fill="#22a386" fill-opacity="1.00"/><circle cx="110.23" cy="327.71" r="1.15" fill="#22a386" fill-opacity="1.00"/><circle cx="115.44" cy="322.47" r="1.15" fill="#22a386" fill-opacity="1.00"/><circle cx="114.87" cy="329.18" r="1.15" fill="#22a486" fill-opacity="1.00"/><circle cx="115.56" cy="324.81" r="1.15" fill="#22a485" fill-opacity="1.00"/><circle cx="109.07" cy="323.42" r="1.15" fill="#22a585" fill-opacity="1.00"/><circle cx="110.22" cy="327.6" r="1.15" fill="#22a585" fill-opacity="1.00"/><circle cx="111.4" cy="317.73" r="1.15" fill="#22a585" fill-opacity="1.00"/><circle cx="114.27" cy="329.64" r="1.15" fill="#22a585" fill-opacity="1.00"/><circle cx="114.8" cy="329.06" r="1.15" fill="#22a685" fill-opacity="1.00"/><circle cx="109.44" cy="325.81" r="1.15" fill="#22a685" fill-opacity="1.00"/><circle cx="111.99" cy="318.15" r="1.15" fill="#22a685" fill-opacity="1.00"/><circle cx="115.41" cy="326.51" r="1.15" fill="#22a784" fill-opacity="1.00"/><circle cx="115.44" cy="325.92" r="1.15" fill="#22a784" fill-opacity="1.00"/><circle cx="110.07" cy="318.49" r="1.15" fill="#22a784" fill-opacity="1.00"/><circle cx="112.6" cy="329.49" r="1.15" fill="#23a884" fill-opacity="1.00"/><circle cx="115.04" cy="321.59" r="1.15" fill="#23a884" fill-opacity="1.00"/><circle cx="109.2" cy="323.59" r="1.15" fill="#24a983" fill-opacity="1.00"/><circle cx="115.43" cy="324.81" r="1.15" fill="#24aa83" fill-opacity="1.00"/><circle cx="115.18" cy="327.49" r="1.15" fill="#25aa82" fill-opacity="1.00"/><circle cx="115.29" cy="326.68" r="1.15" fill="#25aa82" fill-opacity="1.00"/><circle cx="113.01" cy="319.21" r="1.15" fill="#28ac81" fill-opacity="1.00"/><circle cx="109.81" cy="319.58" r="1.15" fill="#28ac81" fill-opacity="1.00"/><circle cx="109.42" cy="325.04" r="1.15" fill="#28ac80" fill-opacity="1.00"/><circle cx="109.52" cy="325.47" r="1.15" fill="#28ac80" fill-opacity="1.00"/><circle cx="110.19" cy="327.08" r="1.15" fill="#2aae7f" fill-opacity="1.00"/><circle cx="115.32" cy="324.07" r="1.15" fill="#2bae7f" fill-opacity="1.00"/><circle cx="110.93" cy="328.07" r="1.15" fill="#2bae7f" fill-opacity="1.00"/><circle cx="114.2" cy="329.06" r="1.15" fill="#2bae7f" fill-opacity="1.00"/><circle cx="109.73" cy="320.17" r="1.15" fill="#2caf7e" fill-opacity="1.00"/><circle cx="109.53" cy="325.22" r="1.15" fill="#2caf7e" fill-opacity="1.00"/><circle cx="110.62" cy="318.72" r="1.15" fill="#2caf7e" fill-opacity="1.00"/><circle cx="111.69" cy="318.6" r="1.15" fill="#2caf7e" fill-opacity="1.00"/><circle cx="113.51" cy="319.79" r="1.15" fill="#2daf7e" fill-opacity="1.00"/><circle cx="111.4" cy="318.58" r="1.15" fill="#2daf7e" fill-opacity="1.00"/><circle cx="111.17" cy="318.6" r="1.15" fill="#2db07d" fill-opacity="1.00"/><circle cx="114.5" cy="321.1" r="1.15" fill="#30b27c" fill-opacity="1.00"/><circle cx="113.15" cy="329.15" r="1.15" fill="#31b27b" fill-opacity="1.00"/><circle cx="109.44" cy="323.07" r="1.15" fill="#32b37b" fill-opacity="1.00"/><circle cx="112.4" cy="328.92" r="1.15" fill="#32b37b" fill-opacity="1.00"/><circle cx="111.34" cy="318.81" r="1.15" fill="#32b37b" fill-opacity="1.00"/><circle cx="115.18" cy="324.99" r="1.15" fill="#32b37a" fill-opacity="1.00"/><circle cx="111.65" cy="328.47" r="1.15" fill="#33b37a" fill-opacity="1.00"/><circle cx="109.59" cy="324.87" r="1.15" fill="#33b47a" fill-opacity="1.00"/><circle cx="113.97" cy="320.47" r="1.15" fill="#33b47a" fill-opacity="1.00"/><circle cx="109.63" cy="324.98" r="1.15" fill="#35b579" fill-opacity="1.00"/><circle cx="109.8" cy="320.73" r="1.15" fill="#35b579" fill-opacity="1.00"/><circle cx="114.96" cy="322.48" r="1.15" fill="#35b579" fill-opacity="1.00"/><circle cx="114.75" cy="327.5" r="1.15" fill="#36b578" fill-opacity="1.00"/><circle cx="113.1" cy="328.95" r="1.15" fill="#36b678" fill-opacity="1.00"/><circle cx="110.28" cy="319.72" r="1.15" fill="#36b678" fill-opacity="1.00"/><circle cx="109.92" cy="320.48" r="1.15" fill="#36b678" fill-opacity="1.00"/><circle cx="114.54" cy="321.47" r="1.15" fill="#38b777" fill-opacity="1.00"/><circle cx="112.24" cy="328.65" r="1.15" fill="#38b777" fill-opacity="1.00"/><circle cx="110.04" cy="320.36" r="1.15" fill="#39b876" fill-opacity="1.00"/><circle cx="110.94" cy="319.26" r="1.15" fill="#39b876" fill-opacity="1.00"/><circle cx="112.32" cy="328.63" r="1.15" fill="#3ab876" fill-opacity="1.00"/><circle cx="114.82" cy="326.66" r="1.15" fill="#3bb975" fill-opacity="1.00"/><circle cx="113.41" cy="320.18" r="1.15" fill="#3cba74" fill-opacity="1.00"/><circle cx="114.06" cy="328.34" r="1.15" fill="#3dba74" fill-opacity="1.00"/><circle cx="113.75" cy="328.56" r="1.15" fill="#3dba74" fill-opacity="1.00"/><circle cx="114.47" cy="321.53" r="1.15" fill="#3dba74" fill-opacity="1.00"/><circle cx="109.89" cy="321.2" r="1.15" fill="#3dbb74" fill-opacity="1.00"/><circle cx="112.77" cy="328.66" r="1.15" fill="#3ebb74" fill-opacity="1.00"/><circle cx="114.34" cy="321.33" r="1.15" fill="#3ebb74" fill-opacity="1.00"/><circle cx="113.78" cy="320.6" r="1.15" fill="#3ebb73" fill-opacity="1.00"/><circle cx="109.95" cy="325.54" r="1.15" fill="#3fbb73" fill-opacity="1.00"/><circle cx="109.94" cy="325.49" r="1.15" fill="#3fbb73" fill-opacity="1.00"/><circle cx="110.2" cy="320.52" r="1.15" fill="#40bd72" fill-opacity="1.00"/><circle cx="113.94" cy="328.25" r="1.15" fill="#41bd72" fill-opacity="1.00"/><circle cx="110.41" cy="320.19" r="1.15" fill="#41bd72" fill-opacity="1.00"/><circle cx="113.81" cy="328.2" r="1.15" fill="#44bf70" fill-opacity="1.00"/><circle cx="110.31" cy="320.56" r="1.15" fill="#45bf6f" fill-opacity="1.00"/><circle cx="109.92" cy="321.83" r="1.15" fill="#45bf6f" fill-opacity="1.00"/><circle cx="111.48" cy="327.78" r="1.15" fill="#46c06f" fill-opacity="1.00"/><circle cx="114.71" cy="322.7" r="1.15" fill="#46c06f" fill-opacity="1.00"/><circle cx="113.12" cy="320.22" r="1.15" fill="#46c06f" fill-opacity="1.00"/><circle cx="113.38" cy="328.35" r="1.15" fill="#47c06e" fill-opacity="1.00"/><circle cx="110.2" cy="320.9" r="1.15" fill="#47c06e" fill-opacity="1.00"/><circle cx="114.4" cy="321.9" r="1.15" fill="#4bc16c" fill-opacity="1.00"/><circle cx="111.34" cy="319.83" r="1.15" fill="#4ec26b" fill-opacity="1.00"/><circle cx="110.52" cy="326.39" r="1.15" fill="#4ec26a" fill-opacity="1.00"/><circle cx="112" cy="319.85" r="1.15" fill="#4fc36a" fill-opacity="1.00"/><circle cx="113.89" cy="327.76" r="1.15" fill="#50c369" fill-opacity="1.00"/><circle cx="114.37" cy="326.82" r="1.15" fill="#51c369" fill-opacity="1.00"/><circle cx="114.55" cy="322.6" r="1.15" fill="#51c368" fill-opacity="1.00"/><circle cx="114.68" cy="324.72" r="1.15" fill="#54c467" fill-opacity="1.00"/><circle cx="114.68" cy="323.75" r="1.15" fill="#55c566" fill-opacity="1.00"/><circle cx="114.26" cy="326.84" r="1.15" fill="#57c565" fill-opacity="1.00"/><circle cx="112.6" cy="320.21" r="1.15" fill="#57c565" fill-opacity="1.00"/><circle cx="110.13" cy="324.94" r="1.15" fill="#57c565" fill-opacity="1.00"/><circle cx="110.13" cy="324.91" r="1.15" fill="#58c665" fill-opacity="1.00"/><circle cx="111.07" cy="326.99" r="1.15" fill="#58c664" fill-opacity="1.00"/><circle cx="112.05" cy="320.05" r="1.15" fill="#58c664" fill-opacity="1.00"/><circle cx="111.18" cy="327.1" r="1.15" fill="#59c664" fill-opacity="1.00"/><circle cx="114.57" cy="325.32" r="1.15" fill="#59c664" fill-opacity="1.00"/><circle cx="112.21" cy="320.15" r="1.15" fill="#5bc763" fill-opacity="1.00"/><circle cx="110.79" cy="320.61" r="1.15" fill="#5cc762" fill-opacity="1.00"/><circle cx="111.58" cy="327.41" r="1.15" fill="#5cc762" fill-opacity="1.00"/><circle cx="111.42" cy="320.19" r="1.15" fill="#5dc762" fill-opacity="1.00"/><circle cx="110.43" cy="325.67" r="1.15" fill="#5ec861" fill-opacity="1.00"/><circle cx="111.81" cy="327.52" r="1.15" fill="#5fc860" fill-opacity="1.00"/><circle cx="110.72" cy="320.9" r="1.15" fill="#62c95f" fill-opacity="1.00"/><circle cx="114.25" cy="326.18" r="1.15" fill="#65ca5d" fill-opacity="1.00"/><circle cx="112.33" cy="320.39" r="1.15" fill="#66ca5d" fill-opacity="1.00"/><circle cx="114.26" cy="326.05" r="1.15" fill="#66ca5c" fill-opacity="1.00"/><circle cx="110.44" cy="321.74" r="1.15" fill="#68cb5c" fill-opacity="1.00"/><circle cx="111.15" cy="320.62" r="1.15" fill="#68cb5b" fill-opacity="1.00"/><circle cx="114.07" cy="322.09" r="1.15" fill="#69cb5b" fill-opacity="1.00"/><circle cx="112.97" cy="320.77" r="1.15" fill="#69cb5b" fill-opacity="1.00"/><circle cx="111.35" cy="320.53" r="1.15" fill="#69cb5b" fill-opacity="1.00"/><circle cx="113.92" cy="321.83" r="1.15" fill="#6acc5a" fill-opacity="1.00"/><circle cx="114.37" cy="325.16" r="1.15" fill="#6acc5a" fill-opacity="1.00"/><circle cx="111.73" cy="327.2" r="1.15" fill="#6ccc59" fill-opacity="1.00"/><circle cx="113.37" cy="327.34" r="1.15" fill="#6ecd58" fill-opacity="1.00"/><circle cx="110.28" cy="323.91" r="1.15" fill="#6ecd58" fill-opacity="1.00"/><circle cx="110.69" cy="325.73" r="1.15" fill="#70ce57" fill-opacity="1.00"/><circle cx="111.26" cy="320.85" r="1.15" fill="#73cf55" fill-opacity="1.00"/><circle cx="111.95" cy="320.64" r="1.15" fill="#74cf54" fill-opacity="1.00"/><circle cx="114.14" cy="325.67" r="1.15" fill="#74cf54" fill-opacity="1.00"/><circle cx="114.26" cy="324.75" r="1.15" fill="#76d053" fill-opacity="1.00"/><circle cx="110.44" cy="324.41" r="1.15" fill="#77d053" fill-opacity="1.00"/><circle cx="111.31" cy="326.54" r="1.15" fill="#78d052" fill-opacity="1.00"/><circle cx="114.21" cy="323.93" r="1.15" fill="#7cd150" fill-opacity="1.00"/><circle cx="114.19" cy="324.21" r="1.15" fill="#7ed24e" fill-opacity="1.00"/><circle cx="113.87" cy="326.02" r="1.15" fill="#80d24d" fill-opacity="1.00"/><circle cx="113.17" cy="326.98" r="1.15" fill="#80d24d" fill-opacity="1.00"/><circle cx="110.53" cy="322.93" r="1.15" fill="#80d24d" fill-opacity="1.00"/><circle cx="111.61" cy="320.98" r="1.15" fill="#81d34c" fill-opacity="1.00"/><circle cx="111.72" cy="326.73" r="1.15" fill="#82d34c" fill-opacity="1.00"/><circle cx="111.61" cy="321.01" r="1.15" fill="#83d34b" fill-opacity="1.00"/><circle cx="112.36" cy="327.04" r="1.15" fill="#83d34b" fill-opacity="1.00"/><circle cx="111.27" cy="326.22" r="1.15" fill="#83d34b" fill-opacity="1.00"/><circle cx="113.28" cy="326.83" r="1.15" fill="#83d34b" fill-opacity="1.00"/><circle cx="112.93" cy="327" r="1.15" fill="#84d34a" fill-opacity="1.00"/><circle cx="111.21" cy="326.09" r="1.15" fill="#86d34a" fill-opacity="1.00"/><circle cx="113.61" cy="322.05" r="1.15" fill="#86d449" fill-opacity="1.00"/><circle cx="110.69" cy="324.75" r="1.15" fill="#89d448" fill-opacity="1.00"/><circle cx="114.05" cy="323.54" r="1.15" fill="#89d447" fill-opacity="1.00"/><circle cx="112.52" cy="321.16" r="1.15" fill="#8ad447" fill-opacity="1.00"/><circle cx="113.2" cy="321.63" r="1.15" fill="#8bd546" fill-opacity="1.00"/><circle cx="114.02" cy="324.7" r="1.15" fill="#8cd546" fill-opacity="1.00"/><circle cx="113.08" cy="326.76" r="1.15" fill="#8cd545" fill-opacity="1.00"/><circle cx="110.62" cy="323.43" r="1.15" fill="#8cd545" fill-opacity="1.00"/><circle cx="110.71" cy="324.37" r="1.15" fill="#90d643" fill-opacity="1.00"/><circle cx="112.92" cy="321.49" r="1.15" fill="#90d643" fill-opacity="1.00"/><circle cx="113.94" cy="324.9" r="1.15" fill="#90d643" fill-opacity="1.00"/><circle cx="111.04" cy="325.47" r="1.15" fill="#92d642" fill-opacity="1.00"/><circle cx="110.78" cy="324.27" r="1.15" fill="#97d73e" fill-opacity="1.00"/><circle cx="110.76" cy="323.23" r="1.15" fill="#97d73e" fill-opacity="1.00"/><circle cx="113.35" cy="326.2" r="1.15" fill="#98d73e" fill-opacity="1.00"/><circle cx="111.04" cy="322.16" r="1.15" fill="#98d73e" fill-opacity="1.00"/><circle cx="112.91" cy="326.48" r="1.15" fill="#9cd83b" fill-opacity="1.00"/><circle cx="112.16" cy="321.46" r="1.15" fill="#9ed93a" fill-opacity="1.00"/><circle cx="113.17" cy="322.02" r="1.15" fill="#9fd939" fill-opacity="1.00"/><circle cx="110.85" cy="323.48" r="1.15" fill="#9fd939" fill-opacity="1.00"/><circle cx="112.8" cy="321.71" r="1.15" fill="#a0d939" fill-opacity="1.00"/><circle cx="112.94" cy="321.81" r="1.15" fill="#a0d939" fill-opacity="1.00"/><circle cx="112.49" cy="326.43" r="1.15" fill="#a2d937" fill-opacity="1.00"/><circle cx="111.97" cy="321.75" r="1.15" fill="#abdb31" fill-opacity="1.00"/><circle cx="111.37" cy="322.3" r="1.15" fill="#aedc30" fill-opacity="1.00"/><circle cx="111.66" cy="325.7" r="1.15" fill="#aedc30" fill-opacity="1.00"/><circle cx="113.6" cy="323.6" r="1.15" fill="#aedc2f" fill-opacity="1.00"/><circle cx="111.18" cy="324.69" r="1.15" fill="#afdc2f" fill-opacity="1.00"/><circle cx="111.14" cy="323.02" r="1.15" fill="#b0dc2e" fill-opacity="1.00"/><circle cx="113.57" cy="323.66" r="1.15" fill="#b0dc2e" fill-opacity="1.00"/><circle cx="111.98" cy="325.91" r="1.15" fill="#b1dc2e" fill-opacity="1.00"/><circle cx="111.12" cy="323.15" r="1.15" fill="#b1dc2e" fill-opacity="1.00"/><circle cx="111.34" cy="322.51" r="1.15" fill="#b2dd2d" fill-opacity="1.00"/><circle cx="111.28" cy="324.63" r="1.15" fill="#b7de2a" fill-opacity="1.00"/><circle cx="113.22" cy="322.86" r="1.15" fill="#b9de29" fill-opacity="1.00"/><circle cx="112.25" cy="325.82" r="1.15" fill="#b9de28" fill-opacity="1.00"/><circle cx="112.34" cy="322.08" r="1.15" fill="#b9de28" fill-opacity="1.00"/><circle cx="112.38" cy="325.64" r="1.15" fill="#c0df26" fill-opacity="1.00"/><circle cx="113.32" cy="323.97" r="1.15" fill="#c2e026" fill-opacity="1.00"/><circle cx="113.15" cy="323.12" r="1.15" fill="#c2e026" fill-opacity="1.00"/><circle cx="112.4" cy="322.35" r="1.15" fill="#c3e026" fill-opacity="1.00"/><circle cx="113.15" cy="324.82" r="1.15" fill="#c4e026" fill-opacity="1.00"/><circle cx="112.77" cy="322.63" r="1.15" fill="#c5e026" fill-opacity="1.00"/><circle cx="112.65" cy="325.3" r="1.15" fill="#c9e026" fill-opacity="1.00"/><circle cx="113.07" cy="324.7" r="1.15" fill="#c9e126" fill-opacity="1.00"/><circle cx="111.82" cy="322.77" r="1.15" fill="#cae126" fill-opacity="1.00"/><circle cx="111.54" cy="324.02" r="1.15" fill="#cbe126" fill-opacity="1.00"/><circle cx="111.84" cy="322.85" r="1.15" fill="#cce126" fill-opacity="1.00"/><circle cx="112.77" cy="325.03" r="1.15" fill="#cde126" fill-opacity="1.00"/><circle cx="112.46" cy="325.2" r="1.15" fill="#cde126" fill-opacity="1.00"/><circle cx="111.72" cy="324.42" r="1.15" fill="#cfe126" fill-opacity="1.00"/><circle cx="111.65" cy="323.98" r="1.15" fill="#d0e126" fill-opacity="1.00"/><circle cx="112.49" cy="323.02" r="1.15" fill="#d4e226" fill-opacity="1.00"/><circle cx="112.54" cy="324.85" r="1.15" fill="#d4e226" fill-opacity="1.00"/><circle cx="112.18" cy="322.98" r="1.15" fill="#d4e226" fill-opacity="1.00"/><circle cx="112.62" cy="324.75" r="1.15" fill="#d5e226" fill-opacity="1.00"/><circle cx="112.11" cy="323.18" r="1.15" fill="#d7e226" fill-opacity="1.00"/><circle cx="112.38" cy="324.46" r="1.15" fill="#dae326" fill-opacity="1.00"/><circle cx="112.6" cy="324.19" r="1.15" fill="#dbe326" fill-opacity="1.00"/><circle cx="112.04" cy="323.89" r="1.15" fill="#dbe326" fill-opacity="1.00"/><circle cx="112.11" cy="323.56" r="1.15" fill="#dbe326" fill-opacity="1.00"/><circle cx="112.46" cy="324.03" r="1.15" fill="#dde326" fill-opacity="1.00"/><circle cx="112.23" cy="323.82" r="1.15" fill="#dde326" fill-opacity="1.00"/></g><line x1="85.5" y1="286.8" x2="85.5" y2="430.7" stroke="#333" stroke-width="1"/><line x1="85" y1="430.2" x2="197.7" y2="430.2" stroke="#333" stroke-width="1"/><line x1="83.2" y1="300.4" x2="85.5" y2="300.4" stroke="#333" stroke-width="1"/><text x="80" y="304" font-size="10.2" text-anchor="end" fill="#111">1</text><line x1="83.2" y1="328.6" x2="85.5" y2="328.6" stroke="#333" stroke-width="1"/><text x="80" y="332.2" font-size="10.2" text-anchor="end" fill="#111">0</text><line x1="83.2" y1="357" x2="85.5" y2="357" stroke="#333" stroke-width="1"/><text x="80" y="360.6" font-size="10.2" text-anchor="end" fill="#111">-1</text><line x1="83.2" y1="385.2" x2="85.5" y2="385.2" stroke="#333" stroke-width="1"/><text x="80" y="388.8" font-size="10.2" text-anchor="end" fill="#111">-2</text><line x1="83.2" y1="413.3" x2="85.5" y2="413.3" stroke="#333" stroke-width="1"/><text x="80" y="416.9" font-size="10.2" text-anchor="end" fill="#111">-3</text><line x1="90.4" y1="430.2" x2="90.4" y2="432.8" stroke="#333" stroke-width="1"/><text x="90.4" y="443.5" font-size="10.2" text-anchor="middle" fill="#111">0</text><line x1="124.2" y1="430.2" x2="124.2" y2="432.8" stroke="#333" stroke-width="1"/><text x="124.2" y="443.5" font-size="10.2" text-anchor="middle" fill="#111">1</text><line x1="157.9" y1="430.2" x2="157.9" y2="432.8" stroke="#333" stroke-width="1"/><text x="157.9" y="443.5" font-size="10.2" text-anchor="middle" fill="#111">2</text><line x1="192" y1="430.2" x2="192" y2="432.8" stroke="#333" stroke-width="1"/><text x="192" y="443.5" font-size="10.2" text-anchor="middle" fill="#111">3</text><line x1="85.5" y1="328.6" x2="197.7" y2="328.6" stroke="#111" stroke-width="2"/><rect x="95.8" y="290.4" width="25.6" height="22.6" fill="none" stroke="#555" stroke-width="1" stroke-dasharray="4 3"/><rect x="104.7" y="343.5" width="72.8" height="81.6" fill="none" stroke="#555" stroke-width="1" stroke-dasharray="4 3"/><text x="195.1" y="299.4" font-size="10.2" text-anchor="start" fill="#111">UP</text><text x="195.1" y="406.2" font-size="10.2" text-anchor="start" fill="#111">DOWN</text><text x="211.5" y="330" font-size="10.2" text-anchor="start" fill="#111">density</text><defs><linearGradient id="vir" x1="0" y1="1" x2="0" y2="0"><stop offset="0.0" stop-color="#440154"/><stop offset="0.1" stop-color="#482475"/><stop offset="0.2" stop-color="#414487"/><stop offset="0.3" stop-color="#355f8d"/><stop offset="0.4" stop-color="#2a788e"/><stop offset="0.5" stop-color="#21918c"/><stop offset="0.6" stop-color="#22a884"/><stop offset="0.7" stop-color="#44bf70"/><stop offset="0.8" stop-color="#7ad151"/><stop offset="0.9" stop-color="#bddf26"/><stop offset="1.0" stop-color="#fde725"/></linearGradient></defs><rect x="228" y="340.1" width="7" height="37.5" fill="url(#vir)"/><line x1="228" y1="346.3" x2="229.6" y2="346.3" stroke="#fff" stroke-width="0.8"/><line x1="233.4" y1="346.3" x2="235" y2="346.3" stroke="#fff" stroke-width="0.8"/><text x="236.3" y="348.1" font-size="10" text-anchor="start" fill="#111">4</text><line x1="228" y1="354.2" x2="229.6" y2="354.2" stroke="#fff" stroke-width="0.8"/><line x1="233.4" y1="354.2" x2="235" y2="354.2" stroke="#fff" stroke-width="0.8"/><text x="236.3" y="355.9" font-size="10" text-anchor="start" fill="#111">3</text><line x1="228" y1="362.3" x2="229.6" y2="362.3" stroke="#fff" stroke-width="0.8"/><line x1="233.4" y1="362.3" x2="235" y2="362.3" stroke="#fff" stroke-width="0.8"/><text x="236.3" y="364.3" font-size="10" text-anchor="start" fill="#111">2</text><line x1="228" y1="370.3" x2="229.6" y2="370.3" stroke="#fff" stroke-width="0.8"/><line x1="233.4" y1="370.3" x2="235" y2="370.3" stroke="#fff" stroke-width="0.8"/><text x="236.3" y="373.1" font-size="10" text-anchor="start" fill="#111">1</text><text transform="translate(60.9,371.5) rotate(-90)" font-size="10.2" text-anchor="middle" fill="#111">Log2(FC) matKO/Ctr</text><text x="143" y="456.8" font-size="10.2" text-anchor="middle" fill="#111">H3K27me3 enrichment</text><text x="143.6" y="469" font-size="10.2" text-anchor="middle" fill="#111">in control (Log2)</text><text x="71.1" y="507.6" font-size="10.2" text-anchor="start" fill="#111">genomic distribution (%)</text><line x1="76.2" y1="530.2" x2="202.3" y2="530.2" stroke="#333" stroke-width="1"/><line x1="77.2" y1="530.2" x2="77.2" y2="586" stroke="#555" stroke-width="1.2"/><line x1="77.3" y1="528" x2="77.3" y2="530.2" stroke="#333" stroke-width="1"/><text x="77.3" y="524.2" font-size="10.2" text-anchor="middle" fill="#111">0</text><line x1="133.7" y1="528" x2="133.7" y2="530.2" stroke="#333" stroke-width="1"/><text x="133.7" y="524.2" font-size="10.2" text-anchor="middle" fill="#111">50</text><line x1="190.1" y1="528" x2="190.1" y2="530.2" stroke="#333" stroke-width="1"/><text x="190.1" y="524.2" font-size="10.2" text-anchor="middle" fill="#111">100</text><rect x="77.6" y="537.2" width="9.3" height="15.1" fill="#0b1d4d"/><rect x="88.5" y="537.2" width="7.1" height="15.1" fill="#0a2a9a"/><rect x="97.1" y="537.2" width="37.7" height="15.1" fill="#9b58b5"/><rect x="136.3" y="537.2" width="54.3" height="15.1" fill="#4dbcfc"/><rect x="77.6" y="558.9" width="9.6" height="14.5" fill="#0b1d4d"/><rect x="89.1" y="558.9" width="2" height="14.5" fill="#0a2a9a"/><rect x="92" y="558.9" width="1.9" height="14.5" fill="#d9c3e8"/><rect x="95.4" y="558.9" width="2" height="14.5" fill="#2e72b8"/><rect x="98.7" y="558.9" width="91.9" height="14.5" fill="#4dbcfc"/><text x="71.2" y="548.8" font-size="10.2" text-anchor="end" fill="#111">UP</text><text x="68.6" y="572" font-size="10.2" text-anchor="end" fill="#111">DOWN</text><rect x="223.5" y="501.7" width="8.4" height="7.9" fill="#4dbcfc"/><text x="235.5" y="509.6" font-size="10.2" text-anchor="start" fill="#111">Promoter+Exon</text><rect x="223.5" y="516.6" width="8.4" height="7.9" fill="#2e72b8"/><text x="235.5" y="524.5" font-size="10.2" text-anchor="start" fill="#111">Promoter</text><rect x="223.5" y="531.2" width="8.4" height="7.9" fill="#9b58b5"/><text x="235.5" y="539.1" font-size="10.2" text-anchor="start" fill="#111">Intergenic</text><rect x="223.5" y="548.3" width="8.4" height="7.9" fill="#0a2a9a"/><text x="235.5" y="556.2" font-size="10.2" text-anchor="start" fill="#111">Intron</text><rect x="223.5" y="563.2" width="8.4" height="7.9" fill="#0b1d4d"/><text x="235.5" y="571.1" font-size="10.2" text-anchor="start" fill="#111">Exon</text><line x1="72.5" y1="639.2" x2="72.5" y2="762.5" stroke="#222" stroke-width="1"/><line x1="72.5" y1="762" x2="157" y2="762" stroke="#222" stroke-width="1"/><line x1="70.5" y1="756.8" x2="72.5" y2="756.8" stroke="#222" stroke-width="1"/><text x="66.6" y="760.2" font-size="10.2" text-anchor="end" fill="#111">0.0</text><line x1="70.5" y1="726.25" x2="72.5" y2="726.25" stroke="#222" stroke-width="1"/><text x="66.6" y="729.65" font-size="10.2" text-anchor="end" fill="#111">0.5</text><line x1="70.5" y1="695.7" x2="72.5" y2="695.7" stroke="#222" stroke-width="1"/><text x="66.6" y="699.1" font-size="10.2" text-anchor="end" fill="#111">1.0</text><line x1="70.5" y1="665.15" x2="72.5" y2="665.15" stroke="#222" stroke-width="1"/><text x="66.6" y="668.55" font-size="10.2" text-anchor="end" fill="#111">1.5</text><line x1="75.5" y1="762" x2="75.5" y2="764.6" stroke="#222" stroke-width="1"/><text x="75.5" y="777.3" font-size="10.2" text-anchor="middle" fill="#111">-1Mb</text><line x1="101.9" y1="762" x2="101.9" y2="764.6" stroke="#222" stroke-width="1"/><text x="101.9" y="777.3" font-size="10.2" text-anchor="middle" fill="#111">5'</text><line x1="128.8" y1="762" x2="128.8" y2="764.6" stroke="#222" stroke-width="1"/><text x="128.8" y="777.3" font-size="10.2" text-anchor="middle" fill="#111">3'</text><line x1="156.5" y1="762" x2="156.5" y2="764.6" stroke="#222" stroke-width="1"/><text x="156.5" y="777.3" font-size="10.2" text-anchor="middle" fill="#111">+1Mb</text><text x="116.3" y="631" font-size="10.2" text-anchor="middle" fill="#111">PADs</text><text transform="translate(46,716.5) rotate(-90)" font-size="10" text-anchor="middle" fill="#111">H3K27me3 density</text><path d="M76.2,685.43 76.9,684.7 77.6,684.47 78.3,684.71 79,685.41 79.7,684.54 80.4,684.09 81.1,684.52 81.8,684.76 82.5,685.48 83.2,686.36 83.9,686.02 84.6,685.42 85.3,686.24 86,685.11 86.7,685.77 87.4,686.12 88.1,686.77 88.8,685.44 89.5,685.54 90.2,685.51 90.9,686.26 91.6,688.1 92.3,688.6 93,688.7 93.7,690.43 94.4,690.03 95.1,691.62 95.8,693.41 96.5,693.42 97.2,695.58 97.9,695.93 98.6,697.91 99.3,699.49 100,701.52 100.7,702.13 101.4,701.17 102.1,683.01 102.8,669.12 103.5,662.61 104.2,659.76 104.9,658.56 105.6,656.68 106.3,655.79 107,655.44 107.7,655.03 108.4,655.19 109.1,654.99 109.8,656.14 110.5,655.92 111.2,655.01 111.9,655.86 112.6,654.69 113.3,654.27 114,655.28 114.7,655.98 115.4,656.25 116.1,656.64 116.8,655.64 117.5,656.8 118.2,658.48 118.9,659.47 119.6,658.91 120.3,658.57 121,660.2 121.7,661.59 122.4,662.73 123.1,663.59 123.8,666.65 124.5,668.42 125.2,671.25 125.9,675.92 126.6,682.01 127.3,690.01 128,697.4 128.7,701.3 129.4,699.13 130.1,695.28 130.8,694.07 131.5,693.05 132.2,692.04 132.9,689.94 133.6,688.61 134.3,688.45 135,687.36 135.7,686.84 136.4,685.93 137.1,685.18 137.8,685.81 138.5,684.71 139.2,684.05 139.9,684.34 140.6,683.96 141.3,684.61 142,685.17 142.7,685.72 143.4,684.63 144.1,685.59 144.8,686.26 145.5,685.01 146.2,684.43 146.9,684.75 147.6,684.14 148.3,685.5 149,685.73 149.7,685.76 150.4,685.48 151.1,685.86 151.8,686.25 152.5,685.86 153.2,684.45 153.9,683.55 154.6,683.59" fill="none" stroke="#8c0a1c" stroke-width="2.1" stroke-linejoin="round"/><path d="M76.2,711.05 76.9,712.13 77.6,712.88 78.3,711.47 79,712.26 79.7,712.77 80.4,712.05 81.1,712.26 81.8,711.36 82.5,712.12 83.2,711.16 83.9,711.86 84.6,711.69 85.3,711 86,711.11 86.7,710.72 87.4,710.93 88.1,712.24 88.8,711.36 89.5,711.46 90.2,712.09 90.9,712.8 91.6,712.06 92.3,712.28 93,711.85 93.7,712.04 94.4,711.9 95.1,712.71 95.8,713.27 96.5,713.98 97.2,715.25 97.9,714.87 98.6,716.13 99.3,716.49 100,717.21 100.7,718.76 101.4,719.77 102.1,711.84 102.8,705.94 103.5,704.77 104.2,703.71 104.9,702.09 105.6,701.66 106.3,699.67 107,699.62 107.7,699.49 108.4,699.54 109.1,699.03 109.8,698.22 110.5,699 111.2,699.31 111.9,699.1 112.6,699.54 113.3,699.22 114,699.18 114.7,699.38 115.4,699.06 116.1,699.22 116.8,700.39 117.5,699.47 118.2,700.35 118.9,700.81 119.6,701.25 120.3,700.83 121,701.05 121.7,702.33 122.4,703.52 123.1,705.13 123.8,705.43 124.5,707.6 125.2,708.67 125.9,710.94 126.6,713.66 127.3,716.24 128,718.7 128.7,721.12 129.4,719.48 130.1,717.31 130.8,716.32 131.5,716.21 132.2,714.83 132.9,714.88 133.6,714.38 134.3,713.3 135,712.48 135.7,712.81 136.4,712.16 137.1,712.36 137.8,712.31 138.5,712.2 139.2,711.42 139.9,711.47 140.6,711.97 141.3,711.75 142,711.78 142.7,712.31 143.4,711.78 144.1,711.43 144.8,711.63 145.5,711.11 146.2,712.53 146.9,712.34 147.6,711.99 148.3,712.34 149,712.81 149.7,712.08 150.4,712.18 151.1,712.52 151.8,713.09 152.5,711.67 153.2,712.07 153.9,712.69 154.6,712.8" fill="none" stroke="#ea2247" stroke-width="2.1" stroke-linejoin="round"/><line x1="101.9" y1="652.3" x2="101.9" y2="762" stroke="#000" stroke-width="2" stroke-dasharray="10 10.2"/><line x1="128.8" y1="652.3" x2="128.8" y2="762" stroke="#000" stroke-width="2" stroke-dasharray="10 10.2"/><text x="157.6" y="681.5" font-size="10.2" text-anchor="start" fill="#111">KO</text><text x="157.6" y="709.2" font-size="10.2" text-anchor="start" fill="#111">Ctr</text><line x1="310.6" y1="639.4" x2="310.6" y2="762.5" stroke="#222" stroke-width="1"/><line x1="310.6" y1="762" x2="403.6" y2="762" stroke="#222" stroke-width="1"/><line x1="308.6" y1="757.1" x2="310.6" y2="757.1" stroke="#222" stroke-width="1"/><text x="304.5" y="760.5" font-size="10.2" text-anchor="end" fill="#111">0.0</text><line x1="308.6" y1="725.95" x2="310.6" y2="725.95" stroke="#222" stroke-width="1"/><text x="304.5" y="729.35" font-size="10.2" text-anchor="end" fill="#111">0.5</text><line x1="308.6" y1="694.8" x2="310.6" y2="694.8" stroke="#222" stroke-width="1"/><text x="304.5" y="698.2" font-size="10.2" text-anchor="end" fill="#111">1.0</text><line x1="308.6" y1="663.65" x2="310.6" y2="663.65" stroke="#222" stroke-width="1"/><text x="304.5" y="667.05" font-size="10.2" text-anchor="end" fill="#111">1.5</text><line x1="314" y1="762" x2="314" y2="764.6" stroke="#222" stroke-width="1"/><text x="314" y="775" font-size="10.2" text-anchor="middle" fill="#111">-1Mb</text><line x1="342.6" y1="762" x2="342.6" y2="764.6" stroke="#222" stroke-width="1"/><text x="342.6" y="775" font-size="10.2" text-anchor="middle" fill="#111">5'</text><line x1="372.4" y1="762" x2="372.4" y2="764.6" stroke="#222" stroke-width="1"/><text x="372.4" y="775" font-size="10.2" text-anchor="middle" fill="#111">3'</text><line x1="402.8" y1="762" x2="402.8" y2="764.6" stroke="#222" stroke-width="1"/><text x="402.8" y="775" font-size="10.2" text-anchor="middle" fill="#111">+1Mb</text><text x="293" y="630.3" font-size="10.2" text-anchor="start" fill="#111">Polycomb enriched domains</text><text transform="translate(282.2,716) rotate(-90)" font-size="10" text-anchor="middle" fill="#111">H3K27me3 density</text><path d="M314.3,676.62 315,675.82 315.7,675.55 316.4,677.9 317.1,677.46 317.8,677.72 318.5,677.49 319.2,678.58 319.9,678.9 320.6,678.23 321.3,678.56 322,677.96 322.7,678.96 323.4,679.24 324.1,677.39 324.8,677.33 325.5,676.98 326.2,676.08 326.9,676.76 327.6,678.01 328.3,676.33 329,676.06 329.7,675.68 330.4,675.56 331.1,674.38 331.8,675.65 332.5,675.18 333.2,676.29 333.9,676.3 334.6,676.12 335.3,677.19 336,678.53 336.7,678.07 337.4,677.29 338.1,677.54 338.8,678.3 339.5,678.27 340.2,679.88 340.9,680.9 341.6,681.01 342.3,678.86 343,651.79 343.7,651.42 344.4,651.28 345.1,651.55 345.8,650.88 346.5,649.54 347.2,648.03 347.9,648.72 348.6,648.88 349.3,649.14 350,649.14 350.7,647.79 351.4,647.84 352.1,648.8 352.8,649.77 353.5,648.17 354.2,647.63 354.9,647 355.6,648.55 356.3,648.39 357,647.17 357.7,647.59 358.4,646.73 359.1,648.74 359.8,647.26 360.5,649.39 361.2,649.36 361.9,650.58 362.6,648.77 363.3,648.26 364,647.13 364.7,647.11 365.4,646.67 366.1,647.75 366.8,646.91 367.5,647.25 368.2,648.69 368.9,647.48 369.6,648.75 370.3,649.98 371,650.98 371.7,650.8 372.4,660.92 373.1,675.94 373.8,675.94 374.5,677.95 375.2,679.1 375.9,678.31 376.6,679 377.3,678.15 378,676.85 378.7,677.9 379.4,677.87 380.1,676.31 380.8,676.87 381.5,677.4 382.2,675.88 382.9,675.31 383.6,674.7 384.3,674.97 385,675.9 385.7,675.43 386.4,674.7 387.1,674.87 387.8,676.13 388.5,676.52 389.2,676.3 389.9,674.99 390.6,674.99 391.3,674.98 392,674.08 392.7,675.82 393.4,675.03 394.1,675.53 394.8,675.04 395.5,673.9 396.2,675.12 396.9,673.5 397.6,675.38 398.3,674.77 399,674.5 399.7,675.28 400.4,674.62" fill="none" stroke="#8c0a1c" stroke-width="2.1" stroke-linejoin="round"/><path d="M314.3,707.96 315,707.34 315.7,708.65 316.4,707.25 317.1,708.53 317.8,707.97 318.5,709.11 319.2,708 319.9,708.93 320.6,708 321.3,707.47 322,707.08 322.7,707.67 323.4,706.89 324.1,706.18 324.8,707.97 325.5,707.88 326.2,706.74 326.9,706.72 327.6,707.44 328.3,708.15 329,706.89 329.7,708.42 330.4,707.5 331.1,706.84 331.8,708.21 332.5,708.48 333.2,708.67 333.9,708.17 334.6,708.36 335.3,707.11 336,706.36 336.7,707.47 337.4,706.56 338.1,708.12 338.8,708.81 339.5,707.7 340.2,706.78 340.9,706.24 341.6,705.51 342.3,704.54 343,698.22 343.7,697.71 344.4,696.97 345.1,698.64 345.8,698.44 346.5,699.16 347.2,699.52 347.9,698.83 348.6,697.98 349.3,696.77 350,698.23 350.7,698.06 351.4,696.75 352.1,696.67 352.8,697.21 353.5,698.21 354.2,697.73 354.9,698.42 355.6,697.81 356.3,697.49 357,697.97 357.7,697.21 358.4,697.8 359.1,697.94 359.8,697.1 360.5,698.13 361.2,698.81 361.9,698.18 362.6,698.21 363.3,697.13 364,698.15 364.7,698.35 365.4,699.24 366.1,698.7 366.8,698.77 367.5,698.47 368.2,697.54 368.9,698.88 369.6,697.18 370.3,697.02 371,696.69 371.7,697.21 372.4,704.05 373.1,707.88 373.8,709.1 374.5,709.89 375.2,709.9 375.9,709.89 376.6,709.75 377.3,708.22 378,707.69 378.7,707.78 379.4,709.34 380.1,709.47 380.8,708.79 381.5,708.03 382.2,708.29 382.9,707.84 383.6,706.9 384.3,707.97 385,708.18 385.7,707.29 386.4,707.91 387.1,707.17 387.8,707.56 388.5,708.66 389.2,708.06 389.9,708.7 390.6,707.23 391.3,706.33 392,706.65 392.7,705.87 393.4,707.18 394.1,707.23 394.8,707.91 395.5,708.55 396.2,706.92 396.9,708.01 397.6,706.34 398.3,706.42 399,706.09 399.7,707.53 400.4,706.09" fill="none" stroke="#ea2247" stroke-width="2.1" stroke-linejoin="round"/><line x1="342.6" y1="652.5" x2="342.6" y2="762" stroke="#000" stroke-width="2" stroke-dasharray="10 10.2"/><line x1="372.4" y1="652.5" x2="372.4" y2="762" stroke="#000" stroke-width="2" stroke-dasharray="10 10.2"/><text x="404.5" y="670" font-size="10.2" text-anchor="start" fill="#111">KO</text><text x="404.5" y="703" font-size="10.2" text-anchor="start" fill="#111">Ctr</text><line x1="497.7" y1="639.4" x2="497.7" y2="762.5" stroke="#222" stroke-width="1"/><line x1="497.7" y1="762" x2="590.5" y2="762" stroke="#222" stroke-width="1"/><line x1="495.7" y1="757.1" x2="497.7" y2="757.1" stroke="#222" stroke-width="1"/><text x="491.9" y="760.5" font-size="10.2" text-anchor="end" fill="#111">0.0</text><line x1="495.7" y1="725.95" x2="497.7" y2="725.95" stroke="#222" stroke-width="1"/><text x="491.9" y="729.35" font-size="10.2" text-anchor="end" fill="#111">0.5</text><line x1="495.7" y1="694.8" x2="497.7" y2="694.8" stroke="#222" stroke-width="1"/><text x="491.9" y="698.2" font-size="10.2" text-anchor="end" fill="#111">1.0</text><line x1="495.7" y1="663.65" x2="497.7" y2="663.65" stroke="#222" stroke-width="1"/><text x="491.9" y="667.05" font-size="10.2" text-anchor="end" fill="#111">1.5</text><line x1="501.2" y1="762" x2="501.2" y2="764.6" stroke="#222" stroke-width="1"/><text x="501.2" y="775" font-size="10.2" text-anchor="middle" fill="#111">-1Mb</text><line x1="529.9" y1="762" x2="529.9" y2="764.6" stroke="#222" stroke-width="1"/><text x="529.9" y="775" font-size="10.2" text-anchor="middle" fill="#111">5'</text><line x1="559.9" y1="762" x2="559.9" y2="764.6" stroke="#222" stroke-width="1"/><text x="559.9" y="775" font-size="10.2" text-anchor="middle" fill="#111">3'</text><line x1="589.7" y1="762" x2="589.7" y2="764.6" stroke="#222" stroke-width="1"/><text x="589.7" y="775" font-size="10.2" text-anchor="middle" fill="#111">+1Mb</text><text x="477.9" y="630.3" font-size="10.2" text-anchor="start" fill="#111">non Polycomb enriched domains</text><path d="M501.5,681.09 502.2,680 502.9,679.73 503.6,681.22 504.3,680.4 505,680.63 505.7,682.3 506.4,680.92 507.1,682.04 507.8,682.54 508.5,682.55 509.2,682.22 509.9,683.27 510.6,682.35 511.3,681.52 512,681.9 512.7,681.38 513.4,681.55 514.1,681.14 514.8,682.53 515.5,682.79 516.2,682.64 516.9,683.48 517.6,681.73 518.3,681.7 519,683.02 519.7,682.47 520.4,682.66 521.1,683.37 521.8,683.83 522.5,683.35 523.2,684.12 523.9,683.31 524.6,683.06 525.3,683.94 526,682.55 526.7,684.49 527.4,685.41 528.1,684.56 528.8,685.91 529.5,686.27 530.2,685.93 530.9,685.17 531.6,684.2 532.3,683.54 533,683.34 533.7,684.19 534.4,682.62 535.1,683.05 535.8,683.74 536.5,683.27 537.2,682.09 537.9,681.98 538.6,682.38 539.3,682.55 540,683.31 540.7,682.72 541.4,683.11 542.1,684.05 542.8,684.38 543.5,684.66 544.2,683.35 544.9,682.22 545.6,681.96 546.3,683.16 547,683.94 547.7,682.33 548.4,682.96 549.1,683.79 549.8,683.2 550.5,682.79 551.2,682.77 551.9,682.99 552.6,683.46 553.3,683.23 554,683.2 554.7,682.63 555.4,683.17 556.1,683.99 556.8,683.04 557.5,684.97 558.2,684.61 558.9,685.67 559.6,685.57 560.3,685.52 561,685.15 561.7,684.53 562.4,685.03 563.1,685.72 563.8,684.08 564.5,684.31 565.2,684.63 565.9,682.88 566.6,682.67 567.3,683.98 568,683.42 568.7,684.03 569.4,682.59 570.1,683.35 570.8,682.06 571.5,682.23 572.2,683.65 572.9,683.53 573.6,682.09 574.3,682.02 575,683.35 575.7,683.49 576.4,683.79 577.1,684.39 577.8,683.44 578.5,682.72 579.2,683.55 579.9,683.13 580.6,682.14 581.3,681.58 582,683.09 582.7,684.09 583.4,682.5 584.1,683.16 584.8,683.89 585.5,682.68 586.2,683.41 586.9,682.64 587.6,682.33" fill="none" stroke="#8c0a1c" stroke-width="2.1" stroke-linejoin="round"/><path d="M501.5,706.72 502.2,707.64 502.9,708.09 503.6,707.46 504.3,708.32 505,707.19 505.7,706.65 506.4,707.95 507.1,707.21 507.8,707.23 508.5,706.95 509.2,706.11 509.9,705.63 510.6,706.64 511.3,706.2 512,706.11 512.7,705.65 513.4,707.48 514.1,706.42 514.8,707.44 515.5,708.15 516.2,707.47 516.9,706.59 517.6,705.89 518.3,706.82 519,706.27 519.7,707.72 520.4,706.4 521.1,707.2 521.8,707.04 522.5,707.87 523.2,708.45 523.9,708.82 524.6,707.7 525.3,707.21 526,706.41 526.7,705.92 527.4,706.6 528.1,705.96 528.8,706.72 529.5,705.43 530.2,705.98 530.9,704.57 531.6,705.11 532.3,705.25 533,705.07 533.7,705.93 534.4,706.27 535.1,705.38 535.8,704.63 536.5,705.73 537.2,705.5 537.9,705.47 538.6,704.57 539.3,703.68 540,705.21 540.7,704.99 541.4,705.85 542.1,704.81 542.8,703.96 543.5,704.06 544.2,704.39 544.9,705.75 545.6,706.28 546.3,706.22 547,706.53 547.7,706.56 548.4,704.76 549.1,705.19 549.8,704.18 550.5,703.98 551.2,703.84 551.9,703.46 552.6,703.73 553.3,704.62 554,704.79 554.7,705.04 555.4,705.94 556.1,706.35 556.8,705.4 557.5,705.24 558.2,704.37 558.9,704.85 559.6,704.8 560.3,705.6 561,705.81 561.7,705.47 562.4,707.08 563.1,707.97 563.8,707.5 564.5,707.58 565.2,707.34 565.9,708.03 566.6,708.17 567.3,708.41 568,707.43 568.7,708.22 569.4,708.66 570.1,707.46 570.8,707.43 571.5,708.32 572.2,706.77 572.9,707 573.6,706.16 574.3,706.39 575,706.74 575.7,707.31 576.4,708.27 577.1,706.91 577.8,707.41 578.5,707.99 579.2,708.67 579.9,708.07 580.6,706.96 581.3,707.71 582,707.25 582.7,707.28 583.4,707.75 584.1,707.71 584.8,707.56 585.5,707.1 586.2,708.84 586.9,709.53 587.6,709.69" fill="none" stroke="#ea2247" stroke-width="2.1" stroke-linejoin="round"/><line x1="529.9" y1="652.5" x2="529.9" y2="762" stroke="#000" stroke-width="2" stroke-dasharray="10 10.2"/><line x1="559.9" y1="652.5" x2="559.9" y2="762" stroke="#000" stroke-width="2" stroke-dasharray="10 10.2"/><text x="590.6" y="678.8" font-size="10.2" text-anchor="start" fill="#111">KO</text><text x="590.6" y="705.7" font-size="10.2" text-anchor="start" fill="#111">Ctr</text><g clip-path="url(#ccc)"><g filter="url(#fcc)"><rect x="348" y="307.6" width="71.4" height="222.4" fill="url(#gcc)"/><path d="M384,322 L402,385 L386,480 L382,480 L366,385Z" fill="#5e5e5e" opacity="0.9"/><rect x="350" y="416.91" width="67.4" height="0.66" fill="#5f5f5f"/><rect x="350" y="430.36" width="67.4" height="0.59" fill="#676767"/><rect x="376.66" y="431.28" width="10.48" height="0.71" fill="#474747"/><rect x="355.47" y="459.5" width="6.67" height="0.88" fill="#434343"/><rect x="365.59" y="436.72" width="37.31" height="0.58" fill="#303030"/><rect x="387.52" y="477.83" width="33.49" height="0.64" fill="#2e2e2e"/><rect x="353.13" y="504.59" width="30.09" height="0.85" fill="#5c5c5c"/><rect x="379.18" y="438.83" width="12.35" height="0.76" fill="#303030"/><rect x="364.45" y="420.01" width="18.99" height="0.76" fill="#6f6f6f"/><rect x="389" y="517.88" width="31.89" height="0.62" fill="#2b2b2b"/><rect x="377.12" y="481.97" width="9.07" height="0.58" fill="#777777"/><rect x="355.56" y="479.59" width="19.08" height="0.86" fill="#5c5c5c"/><rect x="350" y="521.11" width="67.4" height="0.68" fill="#6b6b6b"/><rect x="372.92" y="462.91" width="9.87" height="0.54" fill="#7e7e7e"/><rect x="350" y="428.3" width="67.4" height="0.63" fill="#626262"/><rect x="370.55" y="506.48" width="31.84" height="0.61" fill="#3f3f3f"/><rect x="353.42" y="480.79" width="9.67" height="0.56" fill="#636363"/><rect x="380.58" y="489.33" width="14.35" height="0.81" fill="#7e7e7e"/><rect x="350" y="452.7" width="67.4" height="0.65" fill="#363636"/><rect x="350" y="434.34" width="67.4" height="0.55" fill="#727272"/><rect x="359.69" y="420.92" width="12.34" height="0.83" fill="#383838"/><rect x="377.88" y="435.16" width="23.19" height="0.84" fill="#424242"/><rect x="369.19" y="471.36" width="29.5" height="0.69" fill="#272727"/><rect x="379.74" y="428.74" width="36.9" height="0.78" fill="#555555"/><rect x="356.42" y="433.28" width="19.93" height="0.56" fill="#404040"/><rect x="378.48" y="448.29" width="23.75" height="0.6" fill="#696969"/><rect x="353.23" y="493.82" width="26.15" height="0.86" fill="#343434"/><rect x="365.55" y="437.11" width="19.15" height="0.83" fill="#414141"/><rect x="350" y="436.71" width="67.4" height="0.64" fill="#616161"/><rect x="354.46" y="454.78" width="14.16" height="0.75" fill="#4a4a4a"/><rect x="362.33" y="468.78" width="11.95" height="0.51" fill="#4b4b4b"/><rect x="352.21" y="447.22" width="6.01" height="0.65" fill="#676767"/><rect x="373.58" y="447.57" width="19.23" height="0.81" fill="#313131"/><rect x="372.14" y="479.99" width="16.48" height="0.54" fill="#545454"/><rect x="372.2" y="435.56" width="36.85" height="0.77" fill="#4e4e4e"/><rect x="366.44" y="506.93" width="28.2" height="0.72" fill="#303030"/><rect x="361.02" y="459.3" width="29.14" height="0.52" fill="#7b7b7b"/><rect x="388.61" y="488.39" width="32.11" height="0.52" fill="#333333"/><rect x="357.24" y="467.92" width="7.56" height="0.63" fill="#1e1e1e"/><rect x="368.4" y="459.11" width="10.63" height="0.51" fill="#6b6b6b"/><rect x="369.8" y="462.42" width="28.48" height="0.86" fill="#6e6e6e"/><rect x="358.28" y="492.97" width="8.94" height="0.84" fill="#1f1f1f"/><rect x="364" y="476.17" width="18.76" height="0.67" fill="#7a7a7a"/><rect x="353.45" y="488.4" width="29.94" height="0.68" fill="#424242"/><rect x="385.91" y="502.49" width="30.21" height="0.86" fill="#454545"/><rect x="368.89" y="474.77" width="10.5" height="0.73" fill="#727272"/><rect x="350" y="508.23" width="67.4" height="0.65" fill="#313131"/><rect x="367.68" y="451.88" width="16.27" height="0.61" fill="#464646"/><rect x="358.94" y="486.86" width="13.41" height="0.6" fill="#767676"/><rect x="356.03" y="433.63" width="31.76" height="0.61" fill="#696969"/><rect x="350" y="461.58" width="67.4" height="0.54" fill="#6b6b6b"/><rect x="365.12" y="473.27" width="28.66" height="0.69" fill="#202020"/><rect x="383.53" y="479.54" width="24" height="0.81" fill="#262626"/><rect x="383.69" y="490.83" width="34.98" height="0.72" fill="#565656"/><rect x="350" y="497.21" width="67.4" height="0.72" fill="#6a6a6a"/><rect x="383.87" y="478.85" width="37.97" height="0.6" fill="#212121"/><rect x="350" y="480.87" width="67.4" height="0.89" fill="#4a4a4a"/><rect x="384.39" y="472.43" width="10.67" height="0.68" fill="#2c2c2c"/><rect x="350" y="464.59" width="67.4" height="0.85" fill="#3e3e3e"/><rect x="382.66" y="457.02" width="17.01" height="0.7" fill="#5d5d5d"/><rect x="350" y="435.59" width="67.4" height="0.84" fill="#2a2a2a"/><rect x="374.03" y="490.91" width="17.34" height="0.84" fill="#6a6a6a"/><rect x="375.71" y="423.16" width="15.48" height="0.57" fill="#242424"/><rect x="364.95" y="501.93" width="11.9" height="0.53" fill="#444444"/><rect x="350" y="447.29" width="67.4" height="0.62" fill="#6d6d6d"/><rect x="371.15" y="422.53" width="11.3" height="0.51" fill="#212121"/><rect x="384.09" y="430.9" width="29.11" height="0.86" fill="#3b3b3b"/><rect x="374.58" y="442.14" width="36.27" height="0.64" fill="#444444"/><rect x="358.17" y="491.98" width="14.63" height="0.51" fill="#535353"/><rect x="357.53" y="513.87" width="28.66" height="0.76" fill="#242424"/></g></g><g clip-path="url(#cck)"><g filter="url(#fck)"><rect x="407.3" y="307.6" width="71.4" height="222.4" fill="url(#gck)"/><rect x="409.3" y="419.22" width="67.4" height="0.65" fill="#919191"/><rect x="415.03" y="465.88" width="22.68" height="0.92" fill="#616161"/><rect x="425.11" y="515.84" width="6.02" height="0.88" fill="#2f2f2f"/><rect x="442.69" y="411.65" width="33.42" height="0.98" fill="#383838"/><rect x="409.3" y="419.68" width="67.4" height="0.99" fill="#2d2d2d"/><rect x="409.3" y="428.37" width="67.4" height="0.52" fill="#232323"/><rect x="409.3" y="449.93" width="67.4" height="0.65" fill="#959595"/><rect x="438.8" y="429.26" width="24.64" height="0.79" fill="#818181"/><rect x="409.3" y="476" width="67.4" height="0.66" fill="#3e3e3e"/><rect x="427.19" y="455.23" width="8.28" height="0.74" fill="#868686"/><rect x="414.69" y="460.23" width="8.05" height="0.83" fill="#252525"/><rect x="409.3" y="444.24" width="67.4" height="0.6" fill="#232323"/><rect x="436.95" y="411.35" width="37.2" height="0.75" fill="#989898"/><rect x="430.86" y="506.69" width="22.67" height="0.61" fill="#4f4f4f"/><rect x="409.3" y="491.13" width="67.4" height="0.92" fill="#606060"/><rect x="435.36" y="477.9" width="10.51" height="0.62" fill="#1f1f1f"/><rect x="433.38" y="413.65" width="37.76" height="0.89" fill="#474747"/><rect x="428.29" y="518.34" width="8.73" height="0.66" fill="#343434"/><rect x="409.3" y="451.33" width="67.4" height="0.86" fill="#9b9b9b"/><rect x="433.06" y="434.08" width="21.82" height="0.95" fill="#4f4f4f"/><rect x="409.3" y="502.07" width="67.4" height="0.98" fill="#363636"/><rect x="438.17" y="411.02" width="28.12" height="0.88" fill="#4f4f4f"/><rect x="409.3" y="423.35" width="67.4" height="0.98" fill="#9c9c9c"/><rect x="409.3" y="436.22" width="67.4" height="0.73" fill="#929292"/><rect x="420.74" y="411.22" width="24" height="0.56" fill="#292929"/><rect x="447.49" y="508.98" width="34.35" height="0.88" fill="#282828"/><rect x="430.03" y="476.25" width="8.16" height="0.59" fill="#9d9d9d"/><rect x="409.3" y="519.42" width="67.4" height="0.66" fill="#7a7a7a"/><rect x="409.3" y="467.15" width="67.4" height="0.99" fill="#6e6e6e"/><rect x="409.3" y="451.28" width="67.4" height="0.76" fill="#7e7e7e"/><rect x="409.3" y="430.41" width="67.4" height="0.86" fill="#949494"/><rect x="409.3" y="452.59" width="67.4" height="0.82" fill="#616161"/><rect x="409.3" y="424.9" width="67.4" height="0.6" fill="#383838"/><rect x="409.3" y="420.42" width="67.4" height="0.61" fill="#8b8b8b"/><rect x="441.5" y="446.47" width="14.83" height="0.58" fill="#686868"/><rect x="415.89" y="463.4" width="23.41" height="0.88" fill="#575757"/><rect x="422.33" y="439.03" width="38.63" height="0.84" fill="#1f1f1f"/><rect x="409.3" y="460.44" width="67.4" height="0.89" fill="#545454"/><rect x="441.06" y="420.13" width="25.92" height="0.78" fill="#282828"/><rect x="409.3" y="520.05" width="67.4" height="0.76" fill="#5d5d5d"/><rect x="409.3" y="463.22" width="67.4" height="0.95" fill="#5d5d5d"/><rect x="443.33" y="454.43" width="29.57" height="0.95" fill="#4b4b4b"/><rect x="409.3" y="422.27" width="67.4" height="0.8" fill="#838383"/><rect x="433.68" y="492.41" width="27.83" height="0.79" fill="#212121"/><rect x="409.3" y="471.49" width="67.4" height="0.54" fill="#6d6d6d"/><rect x="409.3" y="504.28" width="67.4" height="0.84" fill="#6e6e6e"/><rect x="437.21" y="486.51" width="8.61" height="0.81" fill="#4b4b4b"/><rect x="417.77" y="457.02" width="26.55" height="0.97" fill="#282828"/><rect x="426.35" y="505.45" width="31.1" height="0.54" fill="#333333"/><rect x="417.54" y="521.73" width="10.24" height="0.72" fill="#646464"/><rect x="409.3" y="520.86" width="67.4" height="0.82" fill="#575757"/><rect x="415.71" y="472.67" width="33.38" height="0.87" fill="#414141"/><rect x="443.08" y="423.97" width="17.32" height="0.57" fill="#656565"/><rect x="409.3" y="485.3" width="67.4" height="0.71" fill="#2c2c2c"/><rect x="409.3" y="426.33" width="67.4" height="0.88" fill="#2e2e2e"/><rect x="409.3" y="432.66" width="67.4" height="0.61" fill="#3d3d3d"/><rect x="409.3" y="492.68" width="67.4" height="0.78" fill="#292929"/><rect x="427.97" y="468.27" width="12.23" height="0.52" fill="#424242"/><rect x="409.3" y="456.12" width="67.4" height="0.71" fill="#5f5f5f"/><rect x="446.89" y="417.74" width="29.03" height="0.72" fill="#898989"/><rect x="446.74" y="515.87" width="31.1" height="0.97" fill="#808080"/><rect x="409.3" y="446.8" width="67.4" height="0.74" fill="#787878"/><rect x="409.3" y="440.57" width="67.4" height="0.54" fill="#242424"/><rect x="413.55" y="439.46" width="10.91" height="0.7" fill="#9a9a9a"/><rect x="409.3" y="434.85" width="67.4" height="0.52" fill="#4a4a4a"/><rect x="413.61" y="411.22" width="12.22" height="0.54" fill="#414141"/><rect x="409.3" y="420.45" width="67.4" height="0.6" fill="#3c3c3c"/><rect x="409.3" y="481.28" width="67.4" height="0.6" fill="#202020"/><rect x="446.61" y="507" width="29.26" height="0.72" fill="#484848"/><rect x="409.3" y="432.31" width="67.4" height="0.71" fill="#969696"/><rect x="438.51" y="432.91" width="27.58" height="0.81" fill="#242424"/><rect x="433.77" y="426.96" width="37.55" height="0.89" fill="#3a3a3a"/><rect x="411.7" y="427.11" width="35.89" height="0.54" fill="#6b6b6b"/><rect x="409.3" y="504.81" width="67.4" height="0.55" fill="#6f6f6f"/><rect x="409.3" y="490.79" width="67.4" height="0.73" fill="#848484"/><rect x="409.3" y="497.04" width="67.4" height="0.5" fill="#6d6d6d"/><rect x="409.3" y="470.36" width="67.4" height="0.8" fill="#696969"/><rect x="432.21" y="464.22" width="31.3" height="0.9" fill="#212121"/><rect x="409.3" y="497.98" width="67.4" height="0.71" fill="#3a3a3a"/><rect x="409.3" y="444.95" width="67.4" height="0.73" fill="#2c2c2c"/><rect x="409.3" y="443.37" width="67.4" height="0.69" fill="#626262"/><rect x="445.01" y="418.29" width="30.22" height="0.78" fill="#858585"/><rect x="409.3" y="452.92" width="67.4" height="0.81" fill="#3e3e3e"/><rect x="430.27" y="441.04" width="11.72" height="0.61" fill="#7c7c7c"/><rect x="438.82" y="483.03" width="15.34" height="0.85" fill="#8f8f8f"/><rect x="416.7" y="508.83" width="14.19" height="0.59" fill="#878787"/><rect x="418.61" y="487.82" width="19.49" height="0.85" fill="#232323"/><rect x="444.6" y="509.84" width="37.1" height="0.76" fill="#454545"/><rect x="409.3" y="452.9" width="67.4" height="0.8" fill="#424242"/><rect x="438.84" y="442.75" width="6.46" height="0.95" fill="#717171"/><rect x="441.92" y="466.45" width="20.07" height="0.66" fill="#2a2a2a"/><rect x="409.3" y="447.84" width="67.4" height="0.63" fill="#707070"/><rect x="428.77" y="450.46" width="33.4" height="0.6" fill="#9b9b9b"/><rect x="441.3" y="505.55" width="23" height="0.58" fill="#8a8a8a"/><rect x="409.3" y="517.16" width="67.4" height="0.88" fill="#6e6e6e"/><rect x="435.51" y="496.4" width="10.74" height="0.72" fill="#646464"/><rect x="423.49" y="435.75" width="8.87" height="0.68" fill="#7c7c7c"/><rect x="409.3" y="481.4" width="67.4" height="0.71" fill="#767676"/><rect x="409.3" y="505.3" width="67.4" height="0.6" fill="#535353"/><rect x="409.3" y="434.9" width="67.4" height="0.65" fill="#313131"/><rect x="409.3" y="414.71" width="67.4" height="0.72" fill="#6d6d6d"/><rect x="429.05" y="514.34" width="15.2" height="0.81" fill="#575757"/><rect x="439.58" y="476.48" width="38.34" height="0.91" fill="#808080"/><rect x="439.15" y="521.46" width="28.04" height="0.98" fill="#626262"/><rect x="418.41" y="454.14" width="31.81" height="0.76" fill="#4c4c4c"/><rect x="434.08" y="485.98" width="16.29" height="0.76" fill="#202020"/><rect x="409.3" y="456.09" width="67.4" height="0.8" fill="#292929"/><rect x="437.61" y="436.47" width="13.28" height="0.51" fill="#999999"/><rect x="409.3" y="458.58" width="67.4" height="0.76" fill="#878787"/><rect x="409.3" y="476.78" width="67.4" height="0.76" fill="#4d4d4d"/><rect x="419.05" y="515.92" width="26.06" height="0.9" fill="#393939"/><rect x="435.09" y="426.42" width="19.88" height="0.77" fill="#6b6b6b"/><rect x="409.3" y="488.28" width="67.4" height="0.67" fill="#313131"/><rect x="434.47" y="435.36" width="33.32" height="0.7" fill="#3a3a3a"/><rect x="443.37" y="420.03" width="29.98" height="0.61" fill="#808080"/><rect x="409.3" y="509.86" width="67.4" height="0.75" fill="#9c9c9c"/><rect x="440.22" y="432.95" width="24.57" height="0.96" fill="#5e5e5e"/><rect x="409.3" y="428.65" width="67.4" height="0.66" fill="#5f5f5f"/><rect x="434.6" y="452.4" width="32.2" height="0.8" fill="#282828"/><rect x="409.3" y="430.54" width="67.4" height="0.86" fill="#4d4d4d"/><path d="M411,316 L475,316 L461,374 L452,418 L448,448 L446,470 L441,470 L439,448 L435,418 L426,374Z" fill="#999999" opacity="0.9"/></g></g><g clip-path="url(#cdc)"><g filter="url(#fdc)"><rect x="532.7" y="306.6" width="71.3" height="222.7" fill="url(#gdc)"/><rect x="534.7" y="333.65" width="67.3" height="0.55" fill="#e5e5e5"/><rect x="534.7" y="343.5" width="67.3" height="0.67" fill="#949494"/><rect x="534.7" y="351.18" width="67.3" height="0.73" fill="#bebebe"/><rect x="534.7" y="356.56" width="67.3" height="0.55" fill="#707070"/><rect x="534.7" y="350.76" width="67.3" height="0.7" fill="#b8b8b8"/><rect x="537.93" y="317.57" width="34.36" height="0.75" fill="#7a7a7a"/><rect x="541.35" y="350.91" width="27.91" height="0.54" fill="#e5e5e5"/><rect x="538.69" y="349.04" width="16.4" height="0.69" fill="#b6b6b6"/><rect x="568.17" y="323.7" width="15.86" height="0.54" fill="#bfbfbf"/><rect x="534.7" y="334.96" width="67.3" height="0.65" fill="#969696"/><rect x="534.7" y="315.68" width="67.3" height="0.64" fill="#c9c9c9"/><rect x="556.77" y="335.88" width="34.8" height="0.7" fill="#8a8a8a"/><rect x="534.7" y="321.54" width="67.3" height="0.51" fill="#dddddd"/><rect x="540.76" y="358.33" width="27.61" height="0.54" fill="#e1e1e1"/><rect x="559.34" y="347.37" width="19.69" height="0.75" fill="#ececec"/><rect x="534.7" y="326.69" width="67.3" height="0.72" fill="#c1c1c1"/><rect x="534.7" y="335.13" width="67.3" height="0.79" fill="#838383"/><rect x="534.7" y="325.18" width="67.3" height="0.58" fill="#e3e3e3"/><rect x="550.82" y="330.89" width="34.95" height="0.73" fill="#c9c9c9"/><rect x="534.7" y="325.32" width="67.3" height="0.51" fill="#757575"/><rect x="534.7" y="347.93" width="67.3" height="0.57" fill="#b0b0b0"/><rect x="534.7" y="322.36" width="67.3" height="0.57" fill="#c1c1c1"/><rect x="534.7" y="366.06" width="67.3" height="0.54" fill="#a7a7a7"/><rect x="553.55" y="390.12" width="22.3" height="0.51" fill="#a3a3a3"/><rect x="557.04" y="378.75" width="30.71" height="0.63" fill="#7f7f7f"/><rect x="550.67" y="396.93" width="9.13" height="0.65" fill="#acacac"/><rect x="534.7" y="393.95" width="67.3" height="0.65" fill="#b7b7b7"/><rect x="534.7" y="378.92" width="67.3" height="0.52" fill="#eaeaea"/><rect x="534.7" y="396.49" width="67.3" height="0.77" fill="#afafaf"/><rect x="558.43" y="368.52" width="36.51" height="0.7" fill="#737373"/><rect x="570.12" y="388.26" width="16.84" height="0.66" fill="#c8c8c8"/><rect x="565.73" y="370.94" width="7.64" height="0.68" fill="#9a9a9a"/><rect x="534.7" y="371.67" width="67.3" height="0.79" fill="#b3b3b3"/><rect x="534.7" y="368.91" width="67.3" height="0.73" fill="#ececec"/><rect x="534.7" y="391.78" width="67.3" height="0.79" fill="#bababa"/><rect x="534.7" y="367.78" width="67.3" height="0.53" fill="#c3c3c3"/><rect x="540.75" y="370.46" width="23.51" height="0.63" fill="#6b6b6b"/><rect x="573.01" y="364.7" width="10.07" height="0.72" fill="#f1f1f1"/><rect x="549.25" y="398.95" width="29.46" height="0.65" fill="#e9e9e9"/><rect x="568.57" y="391.31" width="18.61" height="0.71" fill="#737373"/><rect x="551.75" y="372.43" width="28.41" height="0.67" fill="#8b8b8b"/><rect x="548.87" y="386.88" width="17.35" height="0.56" fill="#7f7f7f"/><rect x="572.58" y="396.04" width="27.9" height="0.79" fill="#858585"/><rect x="534.7" y="371.74" width="67.3" height="0.62" fill="#f1f1f1"/><rect x="534.7" y="373.14" width="67.3" height="0.52" fill="#6a6a6a"/><rect x="534.7" y="385.34" width="67.3" height="0.65" fill="#e6e6e6"/><rect x="558.22" y="397.32" width="14.62" height="0.54" fill="#d1d1d1"/><rect x="534.7" y="370.48" width="67.3" height="0.71" fill="#777777"/><rect x="534.7" y="388.25" width="67.3" height="0.63" fill="#686868"/><rect x="534.7" y="378.89" width="67.3" height="0.58" fill="#797979"/><rect x="534.7" y="386.47" width="67.3" height="0.56" fill="#6c6c6c"/><rect x="534.7" y="374.79" width="67.3" height="0.58" fill="#c1c1c1"/><rect x="541.99" y="367.4" width="13.3" height="0.72" fill="#a9a9a9"/><rect x="534.7" y="388.93" width="67.3" height="0.7" fill="#909090"/><rect x="534.7" y="382.88" width="67.3" height="0.77" fill="#cfcfcf"/><rect x="559.38" y="385.44" width="29.68" height="0.66" fill="#b7b7b7"/><ellipse cx="569" cy="404" rx="21" ry="4" fill="#8c8c8c"/><path d="M551,407 L590,407 L586,414 L579,441 L575,471 L573,501 L572,521 L564,521 L563,501 L561,471 L558,441 L553,414Z" fill="#6b6b6b" opacity="0.95"/><path d="M562,416 L578,416 L574,441 L571,471 L570,521 L566,521 L565,471 L563,441Z" fill="#9e9e9e" opacity="0.85"/></g></g><g clip-path="url(#cdk)"><g filter="url(#fdk)"><rect x="591.8" y="306.6" width="71.3" height="222.7" fill="url(#gdk)"/><rect x="593.8" y="375.35" width="67.3" height="0.51" fill="#545454"/><rect x="628.97" y="384.56" width="8.84" height="0.57" fill="#494949"/><rect x="593.8" y="335.37" width="67.3" height="0.41" fill="#535353"/><rect x="593.8" y="376.34" width="67.3" height="0.49" fill="#686868"/><rect x="593.8" y="391.5" width="67.3" height="0.72" fill="#6f6f6f"/><rect x="593.8" y="346.92" width="67.3" height="0.78" fill="#5a5a5a"/><rect x="593.8" y="323.41" width="67.3" height="0.74" fill="#696969"/><rect x="615.74" y="391.28" width="37.83" height="0.55" fill="#666666"/><rect x="627.84" y="393.39" width="24.89" height="0.68" fill="#4a4a4a"/><rect x="593.8" y="336.25" width="67.3" height="0.43" fill="#545454"/><rect x="593.8" y="324.2" width="67.3" height="0.65" fill="#5c5c5c"/><rect x="593.8" y="349.77" width="67.3" height="0.51" fill="#7c7c7c"/><rect x="602.16" y="376.16" width="29.85" height="0.47" fill="#5d5d5d"/><rect x="616.51" y="408.6" width="28.39" height="0.74" fill="#737373"/><rect x="593.8" y="336.36" width="67.3" height="0.53" fill="#565656"/><rect x="628.38" y="334.64" width="16.29" height="0.66" fill="#5e5e5e"/><rect x="593.8" y="401.48" width="67.3" height="0.51" fill="#555555"/><rect x="593.8" y="367.93" width="67.3" height="0.63" fill="#7a7a7a"/><rect x="593.8" y="352.54" width="67.3" height="0.8" fill="#646464"/><rect x="593.8" y="323.24" width="67.3" height="0.44" fill="#6b6b6b"/><rect x="593.8" y="389.85" width="67.3" height="0.43" fill="#5d5d5d"/><rect x="593.8" y="409.23" width="67.3" height="0.79" fill="#787878"/><rect x="621.15" y="315.69" width="23.56" height="0.51" fill="#6b6b6b"/><rect x="593.8" y="325.2" width="67.3" height="0.58" fill="#7d7d7d"/><rect x="593.8" y="397.81" width="67.3" height="0.6" fill="#515151"/><rect x="606.9" y="401.3" width="26.9" height="0.64" fill="#505050"/><rect x="593.8" y="387.04" width="67.3" height="0.71" fill="#656565"/><rect x="593.8" y="314.65" width="67.3" height="0.41" fill="#7c7c7c"/><rect x="607.23" y="398.08" width="7.89" height="0.75" fill="#7d7d7d"/><rect x="593.8" y="322.74" width="67.3" height="0.43" fill="#727272"/><rect x="593.8" y="387.35" width="67.3" height="0.59" fill="#666666"/><rect x="611.53" y="339.78" width="12.93" height="0.62" fill="#707070"/><rect x="593.8" y="333.71" width="67.3" height="0.8" fill="#6c6c6c"/><rect x="593.8" y="356.22" width="67.3" height="0.45" fill="#545454"/><rect x="593.8" y="346.72" width="67.3" height="0.49" fill="#545454"/><rect x="604.31" y="321.34" width="35.62" height="0.74" fill="#4b4b4b"/><rect x="603.77" y="337.21" width="10.33" height="0.77" fill="#676767"/><rect x="625.82" y="359.5" width="12.23" height="0.44" fill="#606060"/><rect x="593.8" y="354.84" width="67.3" height="0.69" fill="#6d6d6d"/><rect x="593.8" y="408.1" width="67.3" height="0.56" fill="#5a5a5a"/><rect x="593.8" y="396.46" width="67.3" height="0.48" fill="#616161"/><rect x="593.8" y="354.68" width="67.3" height="0.5" fill="#7b7b7b"/><rect x="616.26" y="356.7" width="7.65" height="0.8" fill="#767676"/><rect x="627.35" y="406.65" width="11.44" height="0.59" fill="#535353"/><rect x="593.8" y="352.7" width="67.3" height="0.55" fill="#7f7f7f"/><path d="M609,404 L645,404 L636,430 L632,470 L630,521 L625,521 L623,470 L619,430Z" fill="#424242" opacity="0.9"/></g></g><rect x="442.3" y="466" width="1.5" height="55" fill="#1e0838" opacity="0.75"/><rect x="431.75" y="352.71" width="6" height="0.8" fill="#fff" opacity="0.75"/><rect x="421.74" y="387.13" width="6.11" height="0.8" fill="#fff" opacity="0.75"/><rect x="446.02" y="338.84" width="4.79" height="0.8" fill="#fff" opacity="0.75"/><rect x="440.45" y="441.86" width="5.15" height="0.8" fill="#fff" opacity="0.75"/><rect x="465.36" y="342.81" width="2.14" height="0.8" fill="#fff" opacity="0.75"/><rect x="440.31" y="439.61" width="6.07" height="0.8" fill="#fff" opacity="0.75"/><rect x="432.53" y="330.33" width="2.91" height="0.8" fill="#fff" opacity="0.75"/><rect x="441.67" y="347.53" width="5.89" height="0.8" fill="#fff" opacity="0.75"/><rect x="420.38" y="346.82" width="2.96" height="0.8" fill="#fff" opacity="0.75"/><rect x="437.57" y="420.42" width="4.8" height="0.8" fill="#fff" opacity="0.75"/><rect x="459.13" y="460.98" width="2.38" height="0.8" fill="#fff" opacity="0.75"/><rect x="451.75" y="441.66" width="5.7" height="0.8" fill="#fff" opacity="0.75"/><rect x="439.79" y="329.18" width="2.47" height="0.8" fill="#fff" opacity="0.75"/><rect x="441.85" y="333.15" width="5.91" height="0.8" fill="#fff" opacity="0.75"/><rect x="454.5" y="398.2" width="4.22" height="0.8" fill="#fff" opacity="0.75"/><rect x="463.89" y="325.83" width="2.61" height="0.8" fill="#fff" opacity="0.75"/><rect x="462.26" y="427.25" width="6.22" height="0.8" fill="#fff" opacity="0.75"/><rect x="441.08" y="349.6" width="6.73" height="0.8" fill="#fff" opacity="0.75"/><rect x="452.5" y="429.8" width="4.36" height="0.8" fill="#fff" opacity="0.75"/><rect x="463.17" y="322.72" width="3.92" height="0.8" fill="#fff" opacity="0.75"/><rect x="418.23" y="369.88" width="4.48" height="0.8" fill="#fff" opacity="0.75"/><rect x="421.78" y="461.5" width="6.95" height="0.8" fill="#fff" opacity="0.75"/><rect x="448.56" y="325.77" width="6.53" height="0.8" fill="#fff" opacity="0.75"/><rect x="450.24" y="331.5" width="4.36" height="0.8" fill="#fff" opacity="0.75"/><rect x="420.88" y="440.75" width="3.49" height="0.8" fill="#fff" opacity="0.75"/><rect x="459.55" y="427.21" width="6.58" height="0.8" fill="#fff" opacity="0.75"/><rect x="419.32" y="387.89" width="4.88" height="0.8" fill="#fff" opacity="0.75"/><rect x="452.28" y="321.5" width="5.8" height="0.8" fill="#fff" opacity="0.75"/><rect x="361.53" y="504.69" width="2.04" height="0.8" fill="#fff" opacity="0.75"/><rect x="376.84" y="413.92" width="2.57" height="0.8" fill="#fff" opacity="0.75"/><rect x="363.37" y="370.53" width="6.42" height="0.8" fill="#fff" opacity="0.75"/><rect x="361.09" y="350.84" width="5.86" height="0.8" fill="#fff" opacity="0.75"/><rect x="406.13" y="364.83" width="2.13" height="0.8" fill="#fff" opacity="0.75"/><rect x="375.54" y="516.26" width="4.51" height="0.8" fill="#fff" opacity="0.75"/><rect x="385.76" y="416.68" width="5.56" height="0.8" fill="#fff" opacity="0.75"/><rect x="399.01" y="338.46" width="3.34" height="0.8" fill="#fff" opacity="0.75"/><rect x="371.25" y="373.51" width="5.11" height="0.8" fill="#fff" opacity="0.75"/><rect x="366.29" y="437.39" width="4.27" height="0.8" fill="#fff" opacity="0.75"/><rect x="357.96" y="346.2" width="2.35" height="0.8" fill="#fff" opacity="0.75"/><rect x="401.75" y="420.9" width="2.45" height="0.8" fill="#fff" opacity="0.75"/><rect x="394.4" y="351.07" width="5.39" height="0.8" fill="#fff" opacity="0.75"/><rect x="374.93" y="410.75" width="6.76" height="0.8" fill="#fff" opacity="0.75"/><rect x="391.04" y="473.12" width="4.44" height="0.8" fill="#fff" opacity="0.75"/><rect x="398.77" y="404.25" width="2.97" height="0.8" fill="#fff" opacity="0.75"/><rect x="400.34" y="494.09" width="3.26" height="0.8" fill="#fff" opacity="0.75"/><rect x="372.24" y="502.57" width="6.29" height="0.8" fill="#fff" opacity="0.75"/><rect x="403.1" y="470.38" width="5.88" height="0.8" fill="#fff" opacity="0.75"/><rect x="379.18" y="469.25" width="7" height="0.8" fill="#fff" opacity="0.75"/><rect x="381.91" y="419.68" width="5.91" height="0.8" fill="#fff" opacity="0.75"/><rect x="399.9" y="394.21" width="4" height="0.8" fill="#fff" opacity="0.75"/><rect x="443.08" y="504.64" width="5.73" height="0.8" fill="#fff" opacity="0.75"/><rect x="420.23" y="502.98" width="3.55" height="0.8" fill="#fff" opacity="0.75"/><rect x="434.52" y="508.55" width="2.73" height="0.8" fill="#fff" opacity="0.75"/><rect x="462.9" y="498.46" width="2.24" height="0.8" fill="#fff" opacity="0.75"/><rect x="449.2" y="470.58" width="4.81" height="0.8" fill="#fff" opacity="0.75"/><rect x="453.26" y="498.33" width="2.11" height="0.8" fill="#fff" opacity="0.75"/><rect x="455.98" y="481.8" width="5.2" height="0.8" fill="#fff" opacity="0.75"/><rect x="465.32" y="470.77" width="2.8" height="0.8" fill="#fff" opacity="0.75"/><rect x="446.76" y="517.65" width="4.58" height="0.8" fill="#fff" opacity="0.75"/><rect x="452.1" y="471.73" width="2.43" height="0.8" fill="#fff" opacity="0.75"/><rect x="446.77" y="512.08" width="4.27" height="0.8" fill="#fff" opacity="0.75"/><rect x="454.6" y="475.4" width="2.24" height="0.8" fill="#fff" opacity="0.75"/><rect x="590.05" y="488.74" width="4.02" height="0.8" fill="#fff" opacity="0.75"/><rect x="541.93" y="322.97" width="2.38" height="0.8" fill="#fff" opacity="0.75"/><rect x="543.52" y="475.47" width="5.9" height="0.8" fill="#fff" opacity="0.75"/><rect x="580.34" y="506.18" width="6.04" height="0.8" fill="#fff" opacity="0.75"/><rect x="581.41" y="426.47" width="5.17" height="0.8" fill="#fff" opacity="0.75"/><rect x="545.04" y="428.05" width="5.34" height="0.8" fill="#fff" opacity="0.75"/><rect x="559.69" y="461.27" width="6.95" height="0.8" fill="#fff" opacity="0.75"/><rect x="565.98" y="426.2" width="2.89" height="0.8" fill="#fff" opacity="0.75"/><rect x="557" y="411.48" width="5.85" height="0.8" fill="#fff" opacity="0.75"/><rect x="570.77" y="506.81" width="2.95" height="0.8" fill="#fff" opacity="0.75"/><rect x="633.35" y="429.28" width="3.93" height="0.8" fill="#fff" opacity="0.75"/><rect x="635.84" y="359.45" width="2.98" height="0.8" fill="#fff" opacity="0.75"/><rect x="648.74" y="378.68" width="5.07" height="0.8" fill="#fff" opacity="0.75"/><rect x="617.09" y="447" width="5.34" height="0.8" fill="#fff" opacity="0.75"/><rect x="626.01" y="475.47" width="2.96" height="0.8" fill="#fff" opacity="0.75"/><rect x="618.61" y="362.29" width="3.07" height="0.8" fill="#fff" opacity="0.75"/><rect x="634.65" y="484.86" width="2.79" height="0.8" fill="#fff" opacity="0.75"/><rect x="622.55" y="377.82" width="4.63" height="0.8" fill="#fff" opacity="0.75"/><rect x="648.02" y="413.72" width="3.2" height="0.8" fill="#fff" opacity="0.75"/><rect x="614.16" y="351.63" width="5.41" height="0.8" fill="#fff" opacity="0.75"/><rect x="356" y="356.5" width="55.4" height="0.8" fill="#fff" opacity="0.7"/><rect x="356" y="429.5" width="55.4" height="0.8" fill="#fff" opacity="0.7"/><rect x="356" y="473" width="55.4" height="0.8" fill="#fff" opacity="0.7"/><rect x="356" y="508" width="55.4" height="0.8" fill="#fff" opacity="0.7"/><rect x="415.3" y="429.5" width="55.4" height="0.8" fill="#fff" opacity="0.7"/><rect x="415.3" y="473" width="55.4" height="0.8" fill="#fff" opacity="0.7"/><rect x="415.3" y="508" width="55.4" height="0.8" fill="#fff" opacity="0.7"/><rect x="540.7" y="477.5" width="55.3" height="0.8" fill="#fff" opacity="0.7"/><rect x="540.7" y="505" width="55.3" height="0.8" fill="#fff" opacity="0.7"/><rect x="599.8" y="477.5" width="55.3" height="0.8" fill="#fff" opacity="0.7"/><rect x="599.8" y="505" width="55.3" height="0.8" fill="#fff" opacity="0.7"/><rect x="356" y="315.6" width="55.4" height="206.4" fill="none" stroke="#111" stroke-width="1.4"/><rect x="415.3" y="315.6" width="55.4" height="206.4" fill="none" stroke="#111" stroke-width="1.4"/><rect x="540.7" y="314.6" width="55.3" height="206.7" fill="none" stroke="#111" stroke-width="1.4"/><rect x="599.8" y="314.6" width="55.3" height="206.7" fill="none" stroke="#111" stroke-width="1.4"/><rect x="479.3" y="315.6" width="6.2" height="41.9" fill="url(#mag)" stroke="#111" stroke-width="1"/><rect x="665.2" y="314.8" width="5" height="40.8" fill="url(#mag)" stroke="#111" stroke-width="1"/><text x="489.6" y="321.6" font-size="10.2" text-anchor="start" fill="#111">2.5</text><text x="489.6" y="357.6" font-size="10.2" text-anchor="start" fill="#111">0.5</text><text x="674.5" y="321.2" font-size="10.2" text-anchor="start" fill="#111">10</text><text x="674.5" y="339.6" font-size="10.2" text-anchor="start" fill="#111">5</text><text x="674.5" y="357.8" font-size="10.2" text-anchor="start" fill="#111">0</text><text x="382.5" y="310" font-size="10.2" text-anchor="middle" fill="#111">Ctr</text><text x="442.5" y="310" font-size="10.2" text-anchor="middle" fill="#111">KO</text><text x="569.5" y="310" font-size="10.2" text-anchor="middle" fill="#111">Ctr</text><text x="624" y="310" font-size="10.2" text-anchor="middle" fill="#111">KO</text><line x1="356" y1="522" x2="356" y2="525.7" stroke="#111" stroke-width="1.3"/><line x1="383.7" y1="522" x2="383.7" y2="525.7" stroke="#111" stroke-width="1.3"/><line x1="411.4" y1="522" x2="411.4" y2="525.7" stroke="#111" stroke-width="1.3"/><line x1="415.3" y1="522" x2="415.3" y2="525.7" stroke="#111" stroke-width="1.3"/><line x1="443" y1="522" x2="443" y2="525.7" stroke="#111" stroke-width="1.3"/><line x1="470.6" y1="522" x2="470.6" y2="525.7" stroke="#111" stroke-width="1.3"/><line x1="540.7" y1="521.3" x2="540.7" y2="525.7" stroke="#111" stroke-width="1.3"/><line x1="568.3" y1="521.3" x2="568.3" y2="525.7" stroke="#111" stroke-width="1.3"/><line x1="596" y1="521.3" x2="596" y2="525.7" stroke="#111" stroke-width="1.3"/><line x1="599.8" y1="521.3" x2="599.8" y2="525.7" stroke="#111" stroke-width="1.3"/><line x1="627.5" y1="521.3" x2="627.5" y2="525.7" stroke="#111" stroke-width="1.3"/><line x1="655.2" y1="521.3" x2="655.2" y2="525.7" stroke="#111" stroke-width="1.3"/><text transform="translate(360.3,533.6) rotate(-90)" font-size="10.2" text-anchor="end" fill="#111">-0.2Mb</text><text x="385.2" y="539.8" font-size="10.2" text-anchor="middle" fill="#111">0</text><text transform="translate(414.4,533.6) rotate(-90)" font-size="10.2" text-anchor="end" fill="#111">+0.2Mb</text><text transform="translate(542.7,533.4) rotate(-90)" font-size="10.2" text-anchor="end" fill="#111">-20kb</text><text x="568.4" y="539.6" font-size="10.2" text-anchor="middle" fill="#111">0</text><text transform="translate(597.7,533.4) rotate(-90)" font-size="10.2" text-anchor="end" fill="#111">+20kb</text><text transform="translate(350.8,420) rotate(-90)" font-size="10.2" text-anchor="middle" fill="#111">UP (n=568)</text><text transform="translate(534.8,415) rotate(-90)" font-size="10.2" text-anchor="middle" fill="#111">DOWN (n=644)</text></svg></body></html>
